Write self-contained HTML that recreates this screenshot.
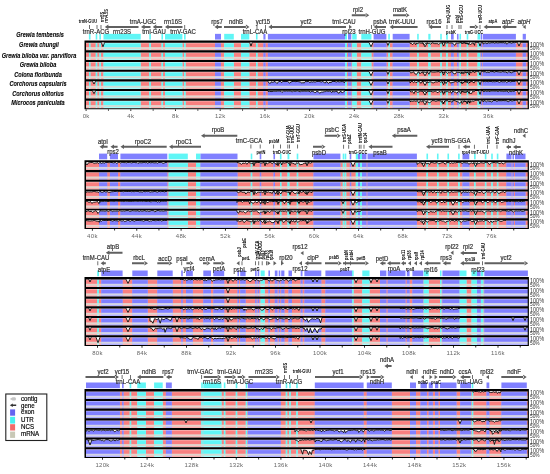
<!DOCTYPE html>
<html><head><meta charset="utf-8"><style>*{margin:0;padding:0}
html,body{width:550px;height:474px;overflow:hidden;background:#fff}
body{position:relative;font-family:"Liberation Sans",sans-serif}
#lab{position:absolute;left:0;top:0;width:550px;height:474px;will-change:transform}
span{position:absolute;white-space:nowrap;line-height:1}
.g{font-size:6.5px;color:#222;-webkit-text-stroke:0.2px #444;transform:translate(-50%,-50%) scaleX(0.923)}
.gs{font-size:4.7px;color:#000;font-weight:bold;transform:translate(-50%,-50%) scaleX(0.85)}
.gv{font-size:4.7px;color:#000;font-weight:bold;transform:translate(-50%,-50%) rotate(-90deg) scaleX(0.85)}
.sp{font-size:6.5px;font-weight:bold;font-style:italic;color:#000;-webkit-text-stroke:0.1px #000;transform:translate(-50%,-50%) scaleX(0.855)}
.pc{left:530px;font-size:6.4px;color:#333;transform:scaleX(0.86);transform-origin:0 0}
.pd{left:530px;font-size:4.8px;color:#333}
.ax{font-size:6px;color:#666;transform:translate(-50%,-50%);letter-spacing:0.3px}
.lg{font-size:7.9px;color:#000;-webkit-text-stroke:0.2px #000;transform:scaleX(0.78);transform-origin:0 0}
</style></head><body>
<svg style="position:absolute;left:0;top:0" width="550" height="474"><defs><g id="r0"><rect x="86" y="1" width="441.9" height="7.76" fill="#fab0b0"/><rect x="86" y="1.9" width="441.9" height="3.6" fill="#f88080"/><rect x="86" y="5.6" width="441.9" height="1.8" fill="#e2d4cc"/><rect x="89" y="1" width="1.4" height="7.76" fill="#a8fafa"/><rect x="89" y="1.9" width="1.4" height="3.6" fill="#60f6f6"/><rect x="89" y="5.6" width="1.4" height="1.8" fill="#d0dcd4"/><rect x="95.8" y="1" width="1.4" height="7.76" fill="#a8fafa"/><rect x="95.8" y="1.9" width="1.4" height="3.6" fill="#60f6f6"/><rect x="95.8" y="5.6" width="1.4" height="1.8" fill="#d0dcd4"/><rect x="99.45" y="1" width="1.4" height="7.76" fill="#a8fafa"/><rect x="99.45" y="1.9" width="1.4" height="3.6" fill="#60f6f6"/><rect x="99.45" y="5.6" width="1.4" height="1.8" fill="#d0dcd4"/><rect x="103.5" y="1" width="37.2" height="7.76" fill="#a8fafa"/><rect x="103.5" y="1.9" width="37.2" height="3.6" fill="#60f6f6"/><rect x="103.5" y="5.6" width="37.2" height="1.8" fill="#d0dcd4"/><rect x="149.3" y="1" width="1.6" height="7.76" fill="#a8fafa"/><rect x="149.3" y="1.9" width="1.6" height="3.6" fill="#60f6f6"/><rect x="149.3" y="5.6" width="1.6" height="1.8" fill="#d0dcd4"/><rect x="161.55" y="1" width="1.4" height="7.76" fill="#a8fafa"/><rect x="161.55" y="1.9" width="1.4" height="3.6" fill="#60f6f6"/><rect x="161.55" y="5.6" width="1.4" height="1.8" fill="#d0dcd4"/><rect x="165" y="1" width="17.4" height="7.76" fill="#a8fafa"/><rect x="165" y="1.9" width="17.4" height="3.6" fill="#60f6f6"/><rect x="165" y="5.6" width="17.4" height="1.8" fill="#d0dcd4"/><rect x="184.15" y="1" width="1.4" height="7.76" fill="#a8fafa"/><rect x="184.15" y="1.9" width="1.4" height="3.6" fill="#60f6f6"/><rect x="184.15" y="5.6" width="1.4" height="1.8" fill="#d0dcd4"/><rect x="215" y="1" width="6" height="7.76" fill="#b0b0ff"/><rect x="215" y="1.9" width="6" height="3.6" fill="#8080ff"/><rect x="215" y="5.6" width="6" height="1.8" fill="#d4d4e6"/><rect x="224.2" y="1" width="9.6" height="7.76" fill="#a8fafa"/><rect x="224.2" y="1.9" width="9.6" height="3.6" fill="#60f6f6"/><rect x="224.2" y="5.6" width="9.6" height="1.8" fill="#d0dcd4"/><rect x="241" y="1" width="8.3" height="7.76" fill="#a8fafa"/><rect x="241" y="1.9" width="8.3" height="3.6" fill="#60f6f6"/><rect x="241" y="5.6" width="8.3" height="1.8" fill="#d0dcd4"/><rect x="256" y="1" width="1.5" height="7.76" fill="#a8fafa"/><rect x="256" y="1.9" width="1.5" height="3.6" fill="#60f6f6"/><rect x="256" y="5.6" width="1.5" height="1.8" fill="#d0dcd4"/><rect x="263.4" y="1" width="2.1" height="7.76" fill="#b0b0ff"/><rect x="263.4" y="1.9" width="2.1" height="3.6" fill="#8080ff"/><rect x="263.4" y="5.6" width="2.1" height="1.8" fill="#d4d4e6"/><rect x="267.9" y="1" width="77.1" height="7.76" fill="#b0b0ff"/><rect x="267.9" y="1.9" width="77.1" height="3.6" fill="#8080ff"/><rect x="267.9" y="5.6" width="77.1" height="1.8" fill="#d4d4e6"/><rect x="345" y="1" width="2" height="7.76" fill="#a8fafa"/><rect x="345" y="1.9" width="2" height="3.6" fill="#60f6f6"/><rect x="345" y="5.6" width="2" height="1.8" fill="#d0dcd4"/><rect x="348" y="1" width="3.3" height="7.76" fill="#b0b0ff"/><rect x="348" y="1.9" width="3.3" height="3.6" fill="#8080ff"/><rect x="348" y="5.6" width="3.3" height="1.8" fill="#d4d4e6"/><rect x="352.2" y="1" width="4.5" height="7.76" fill="#a8fafa"/><rect x="352.2" y="1.9" width="4.5" height="3.6" fill="#60f6f6"/><rect x="352.2" y="5.6" width="4.5" height="1.8" fill="#d0dcd4"/><rect x="361.3" y="1" width="10.1" height="7.76" fill="#a8fafa"/><rect x="361.3" y="1.9" width="10.1" height="3.6" fill="#60f6f6"/><rect x="361.3" y="5.6" width="10.1" height="1.8" fill="#d0dcd4"/><rect x="373.6" y="1" width="12.8" height="7.76" fill="#b0b0ff"/><rect x="373.6" y="1.9" width="12.8" height="3.6" fill="#8080ff"/><rect x="373.6" y="5.6" width="12.8" height="1.8" fill="#d4d4e6"/><rect x="388.35" y="1" width="1.4" height="7.76" fill="#a8fafa"/><rect x="388.35" y="1.9" width="1.4" height="3.6" fill="#60f6f6"/><rect x="388.35" y="5.6" width="1.4" height="1.8" fill="#d0dcd4"/><rect x="392.7" y="1" width="16.9" height="7.76" fill="#b0b0ff"/><rect x="392.7" y="1.9" width="16.9" height="3.6" fill="#8080ff"/><rect x="392.7" y="5.6" width="16.9" height="1.8" fill="#d4d4e6"/><rect x="417.25" y="1" width="1.4" height="7.76" fill="#a8fafa"/><rect x="417.25" y="1.9" width="1.4" height="3.6" fill="#60f6f6"/><rect x="417.25" y="5.6" width="1.4" height="1.8" fill="#d0dcd4"/><rect x="428.3" y="1" width="2.2" height="7.76" fill="#a8fafa"/><rect x="428.3" y="1.9" width="2.2" height="3.6" fill="#60f6f6"/><rect x="428.3" y="5.6" width="2.2" height="1.8" fill="#d0dcd4"/><rect x="440.3" y="1" width="1.4" height="7.76" fill="#a8fafa"/><rect x="440.3" y="1.9" width="1.4" height="3.6" fill="#60f6f6"/><rect x="440.3" y="5.6" width="1.4" height="1.8" fill="#d0dcd4"/><rect x="446.3" y="1" width="1.4" height="7.76" fill="#a8fafa"/><rect x="446.3" y="1.9" width="1.4" height="3.6" fill="#60f6f6"/><rect x="446.3" y="5.6" width="1.4" height="1.8" fill="#d0dcd4"/><rect x="451" y="1" width="2.7" height="7.76" fill="#b0b0ff"/><rect x="451" y="1.9" width="2.7" height="3.6" fill="#8080ff"/><rect x="451" y="5.6" width="2.7" height="1.8" fill="#d4d4e6"/><rect x="457" y="1" width="1.5" height="7.76" fill="#b0b0ff"/><rect x="457" y="1.9" width="1.5" height="3.6" fill="#8080ff"/><rect x="457" y="5.6" width="1.5" height="1.8" fill="#d4d4e6"/><rect x="459.5" y="1" width="1.5" height="7.76" fill="#a8fafa"/><rect x="459.5" y="1.9" width="1.5" height="3.6" fill="#60f6f6"/><rect x="459.5" y="5.6" width="1.5" height="1.8" fill="#d0dcd4"/><rect x="466.8" y="1" width="1.4" height="7.76" fill="#a8fafa"/><rect x="466.8" y="1.9" width="1.4" height="3.6" fill="#60f6f6"/><rect x="466.8" y="5.6" width="1.4" height="1.8" fill="#d0dcd4"/><rect x="477.5" y="1" width="2.7" height="7.76" fill="#a8fafa"/><rect x="477.5" y="1.9" width="2.7" height="3.6" fill="#60f6f6"/><rect x="477.5" y="5.6" width="2.7" height="1.8" fill="#d0dcd4"/><rect x="480.8" y="1" width="1.4" height="7.76" fill="#b0b0ff"/><rect x="480.8" y="1.9" width="1.4" height="3.6" fill="#8080ff"/><rect x="480.8" y="5.6" width="1.4" height="1.8" fill="#d4d4e6"/><rect x="483" y="1" width="32.9" height="7.76" fill="#b0b0ff"/><rect x="483" y="1.9" width="32.9" height="3.6" fill="#8080ff"/><rect x="483" y="5.6" width="32.9" height="1.8" fill="#d4d4e6"/><rect x="522.7" y="1" width="3.2" height="7.76" fill="#b0b0ff"/><rect x="522.7" y="1.9" width="3.2" height="3.6" fill="#8080ff"/><rect x="522.7" y="5.6" width="3.2" height="1.8" fill="#d4d4e6"/></g><g id="r1"><rect x="86" y="1" width="441.9" height="7.76" fill="#fab0b0"/><rect x="86" y="1.9" width="441.9" height="3.6" fill="#f88080"/><rect x="86" y="5.6" width="441.9" height="1.8" fill="#e2d4cc"/><rect x="99" y="1" width="8.2" height="7.76" fill="#b0b0ff"/><rect x="99" y="1.9" width="8.2" height="3.6" fill="#8080ff"/><rect x="99" y="5.6" width="8.2" height="1.8" fill="#d4d4e6"/><rect x="109.9" y="1" width="8.1" height="7.76" fill="#b0b0ff"/><rect x="109.9" y="1.9" width="8.1" height="3.6" fill="#8080ff"/><rect x="109.9" y="5.6" width="8.1" height="1.8" fill="#d4d4e6"/><rect x="120.4" y="1" width="46.9" height="7.76" fill="#b0b0ff"/><rect x="120.4" y="1.9" width="46.9" height="3.6" fill="#8080ff"/><rect x="120.4" y="5.6" width="46.9" height="1.8" fill="#d4d4e6"/><rect x="168.6" y="1" width="19.2" height="7.76" fill="#a8fafa"/><rect x="168.6" y="1.9" width="19.2" height="3.6" fill="#60f6f6"/><rect x="168.6" y="5.6" width="19.2" height="1.8" fill="#d0dcd4"/><rect x="196" y="1" width="4.5" height="7.76" fill="#a8fafa"/><rect x="196" y="1.9" width="4.5" height="3.6" fill="#60f6f6"/><rect x="196" y="5.6" width="4.5" height="1.8" fill="#d0dcd4"/><rect x="200.5" y="1" width="37" height="7.76" fill="#b0b0ff"/><rect x="200.5" y="1.9" width="37" height="3.6" fill="#8080ff"/><rect x="200.5" y="5.6" width="37" height="1.8" fill="#d4d4e6"/><rect x="250.8" y="1" width="1.4" height="7.76" fill="#a8fafa"/><rect x="250.8" y="1.9" width="1.4" height="3.6" fill="#60f6f6"/><rect x="250.8" y="5.6" width="1.4" height="1.8" fill="#d0dcd4"/><rect x="259.8" y="1" width="1.4" height="7.76" fill="#b0b0ff"/><rect x="259.8" y="1.9" width="1.4" height="3.6" fill="#8080ff"/><rect x="259.8" y="5.6" width="1.4" height="1.8" fill="#d4d4e6"/><rect x="273.5" y="1" width="1.5" height="7.76" fill="#b0b0ff"/><rect x="273.5" y="1.9" width="1.5" height="3.6" fill="#8080ff"/><rect x="273.5" y="5.6" width="1.5" height="1.8" fill="#d4d4e6"/><rect x="280" y="1" width="1.4" height="7.76" fill="#a8fafa"/><rect x="280" y="1.9" width="1.4" height="3.6" fill="#60f6f6"/><rect x="280" y="5.6" width="1.4" height="1.8" fill="#d0dcd4"/><rect x="287.5" y="1" width="1.9" height="7.76" fill="#a8fafa"/><rect x="287.5" y="1.9" width="1.9" height="3.6" fill="#60f6f6"/><rect x="287.5" y="5.6" width="1.9" height="1.8" fill="#d0dcd4"/><rect x="296.8" y="1" width="1.4" height="7.76" fill="#a8fafa"/><rect x="296.8" y="1.9" width="1.4" height="3.6" fill="#60f6f6"/><rect x="296.8" y="5.6" width="1.4" height="1.8" fill="#d0dcd4"/><rect x="313.5" y="1" width="26.9" height="7.76" fill="#b0b0ff"/><rect x="313.5" y="1.9" width="26.9" height="3.6" fill="#8080ff"/><rect x="313.5" y="5.6" width="26.9" height="1.8" fill="#d4d4e6"/><rect x="342.8" y="1" width="1.4" height="7.76" fill="#a8fafa"/><rect x="342.8" y="1.9" width="1.4" height="3.6" fill="#60f6f6"/><rect x="342.8" y="5.6" width="1.4" height="1.8" fill="#d0dcd4"/><rect x="344.8" y="1" width="1.4" height="7.76" fill="#a8fafa"/><rect x="344.8" y="1.9" width="1.4" height="3.6" fill="#60f6f6"/><rect x="344.8" y="5.6" width="1.4" height="1.8" fill="#d0dcd4"/><rect x="349.8" y="1" width="1.4" height="7.76" fill="#b0b0ff"/><rect x="349.8" y="1.9" width="1.4" height="3.6" fill="#8080ff"/><rect x="349.8" y="5.6" width="1.4" height="1.8" fill="#d4d4e6"/><rect x="355.8" y="1" width="2.2" height="7.76" fill="#a8fafa"/><rect x="355.8" y="1.9" width="2.2" height="3.6" fill="#60f6f6"/><rect x="355.8" y="5.6" width="2.2" height="1.8" fill="#d0dcd4"/><rect x="358" y="1" width="2" height="7.76" fill="#b0b0ff"/><rect x="358" y="1.9" width="2" height="3.6" fill="#8080ff"/><rect x="358" y="5.6" width="2" height="1.8" fill="#d4d4e6"/><rect x="360" y="1" width="2" height="7.76" fill="#a8fafa"/><rect x="360" y="1.9" width="2" height="3.6" fill="#60f6f6"/><rect x="360" y="5.6" width="2" height="1.8" fill="#d0dcd4"/><rect x="362" y="1" width="4.5" height="7.76" fill="#b0b0ff"/><rect x="362" y="1.9" width="4.5" height="3.6" fill="#8080ff"/><rect x="362" y="5.6" width="4.5" height="1.8" fill="#d4d4e6"/><rect x="367.5" y="1" width="49.4" height="7.76" fill="#b0b0ff"/><rect x="367.5" y="1.9" width="49.4" height="3.6" fill="#8080ff"/><rect x="367.5" y="5.6" width="49.4" height="1.8" fill="#d4d4e6"/><rect x="426.5" y="1" width="1.5" height="7.76" fill="#a8fafa"/><rect x="426.5" y="1.9" width="1.5" height="3.6" fill="#60f6f6"/><rect x="426.5" y="5.6" width="1.5" height="1.8" fill="#d0dcd4"/><rect x="437" y="1" width="1.5" height="7.76" fill="#a8fafa"/><rect x="437" y="1.9" width="1.5" height="3.6" fill="#60f6f6"/><rect x="437" y="5.6" width="1.5" height="1.8" fill="#d0dcd4"/><rect x="447.5" y="1" width="1.5" height="7.76" fill="#a8fafa"/><rect x="447.5" y="1.9" width="1.5" height="3.6" fill="#60f6f6"/><rect x="447.5" y="5.6" width="1.5" height="1.8" fill="#d0dcd4"/><rect x="458.2" y="1" width="1.4" height="7.76" fill="#a8fafa"/><rect x="458.2" y="1.9" width="1.4" height="3.6" fill="#60f6f6"/><rect x="458.2" y="5.6" width="1.4" height="1.8" fill="#d0dcd4"/><rect x="462.5" y="1" width="6.8" height="7.76" fill="#b0b0ff"/><rect x="462.5" y="1.9" width="6.8" height="3.6" fill="#8080ff"/><rect x="462.5" y="5.6" width="6.8" height="1.8" fill="#d4d4e6"/><rect x="474.15" y="1" width="1.4" height="7.76" fill="#a8fafa"/><rect x="474.15" y="1.9" width="1.4" height="3.6" fill="#60f6f6"/><rect x="474.15" y="5.6" width="1.4" height="1.8" fill="#d0dcd4"/><rect x="484.9" y="1" width="1.4" height="7.76" fill="#a8fafa"/><rect x="484.9" y="1.9" width="1.4" height="3.6" fill="#60f6f6"/><rect x="484.9" y="5.6" width="1.4" height="1.8" fill="#d0dcd4"/><rect x="491.3" y="1" width="1.4" height="7.76" fill="#a8fafa"/><rect x="491.3" y="1.9" width="1.4" height="3.6" fill="#60f6f6"/><rect x="491.3" y="5.6" width="1.4" height="1.8" fill="#d0dcd4"/><rect x="496.9" y="1" width="1.4" height="7.76" fill="#a8fafa"/><rect x="496.9" y="1.9" width="1.4" height="3.6" fill="#60f6f6"/><rect x="496.9" y="5.6" width="1.4" height="1.8" fill="#d0dcd4"/><rect x="506.4" y="1" width="5.1" height="7.76" fill="#b0b0ff"/><rect x="506.4" y="1.9" width="5.1" height="3.6" fill="#8080ff"/><rect x="506.4" y="5.6" width="5.1" height="1.8" fill="#d4d4e6"/><rect x="512.5" y="1" width="1.5" height="7.76" fill="#b0b0ff"/><rect x="512.5" y="1.9" width="1.5" height="3.6" fill="#8080ff"/><rect x="512.5" y="5.6" width="1.5" height="1.8" fill="#d4d4e6"/><rect x="515" y="1" width="10.5" height="7.76" fill="#b0b0ff"/><rect x="515" y="1.9" width="10.5" height="3.6" fill="#8080ff"/><rect x="515" y="5.6" width="10.5" height="1.8" fill="#d4d4e6"/></g><g id="r2"><rect x="86" y="1" width="441.9" height="7.76" fill="#fab0b0"/><rect x="86" y="1.9" width="441.9" height="3.6" fill="#f88080"/><rect x="86" y="5.6" width="441.9" height="1.8" fill="#e2d4cc"/><rect x="97.2" y="1" width="1.8" height="7.76" fill="#a8fafa"/><rect x="97.2" y="1.9" width="1.8" height="3.6" fill="#60f6f6"/><rect x="97.2" y="5.6" width="1.8" height="1.8" fill="#d0dcd4"/><rect x="101.3" y="1" width="21.3" height="7.76" fill="#b0b0ff"/><rect x="101.3" y="1.9" width="21.3" height="3.6" fill="#8080ff"/><rect x="101.3" y="5.6" width="21.3" height="1.8" fill="#d4d4e6"/><rect x="132.3" y="1" width="15.4" height="7.76" fill="#b0b0ff"/><rect x="132.3" y="1.9" width="15.4" height="3.6" fill="#8080ff"/><rect x="132.3" y="5.6" width="15.4" height="1.8" fill="#d4d4e6"/><rect x="157.3" y="1" width="15.4" height="7.76" fill="#b0b0ff"/><rect x="157.3" y="1.9" width="15.4" height="3.6" fill="#8080ff"/><rect x="157.3" y="5.6" width="15.4" height="1.8" fill="#d4d4e6"/><rect x="181.3" y="1" width="1.4" height="7.76" fill="#b0b0ff"/><rect x="181.3" y="1.9" width="1.4" height="3.6" fill="#8080ff"/><rect x="181.3" y="5.6" width="1.4" height="1.8" fill="#d4d4e6"/><rect x="186" y="1" width="6.8" height="7.76" fill="#b0b0ff"/><rect x="186" y="1.9" width="6.8" height="3.6" fill="#8080ff"/><rect x="186" y="5.6" width="6.8" height="1.8" fill="#d4d4e6"/><rect x="203.3" y="1" width="7.7" height="7.76" fill="#b0b0ff"/><rect x="203.3" y="1.9" width="7.7" height="3.6" fill="#8080ff"/><rect x="203.3" y="5.6" width="7.7" height="1.8" fill="#d4d4e6"/><rect x="213.3" y="1" width="10.9" height="7.76" fill="#b0b0ff"/><rect x="213.3" y="1.9" width="10.9" height="3.6" fill="#8080ff"/><rect x="213.3" y="5.6" width="10.9" height="1.8" fill="#d4d4e6"/><rect x="237.5" y="1" width="1.5" height="7.76" fill="#b0b0ff"/><rect x="237.5" y="1.9" width="1.5" height="3.6" fill="#8080ff"/><rect x="237.5" y="5.6" width="1.5" height="1.8" fill="#d4d4e6"/><rect x="240.2" y="1" width="5.4" height="7.76" fill="#b0b0ff"/><rect x="240.2" y="1.9" width="5.4" height="3.6" fill="#8080ff"/><rect x="240.2" y="5.6" width="5.4" height="1.8" fill="#d4d4e6"/><rect x="255.15" y="1" width="1.4" height="7.76" fill="#b0b0ff"/><rect x="255.15" y="1.9" width="1.4" height="3.6" fill="#8080ff"/><rect x="255.15" y="5.6" width="1.4" height="1.8" fill="#d4d4e6"/><rect x="257.75" y="1" width="1.4" height="7.76" fill="#b0b0ff"/><rect x="257.75" y="1.9" width="1.4" height="3.6" fill="#8080ff"/><rect x="257.75" y="5.6" width="1.4" height="1.8" fill="#d4d4e6"/><rect x="260.6" y="1" width="4.1" height="7.76" fill="#a8fafa"/><rect x="260.6" y="1.9" width="4.1" height="3.6" fill="#60f6f6"/><rect x="260.6" y="5.6" width="4.1" height="1.8" fill="#d0dcd4"/><rect x="268.4" y="1" width="1.6" height="7.76" fill="#b0b0ff"/><rect x="268.4" y="1.9" width="1.6" height="3.6" fill="#8080ff"/><rect x="268.4" y="5.6" width="1.6" height="1.8" fill="#d4d4e6"/><rect x="274.8" y="1" width="2.7" height="7.76" fill="#b0b0ff"/><rect x="274.8" y="1.9" width="2.7" height="3.6" fill="#8080ff"/><rect x="274.8" y="5.6" width="2.7" height="1.8" fill="#d4d4e6"/><rect x="278.8" y="1" width="1.4" height="7.76" fill="#b0b0ff"/><rect x="278.8" y="1.9" width="1.4" height="3.6" fill="#8080ff"/><rect x="278.8" y="5.6" width="1.4" height="1.8" fill="#d4d4e6"/><rect x="281.2" y="1" width="3.2" height="7.76" fill="#b0b0ff"/><rect x="281.2" y="1.9" width="3.2" height="3.6" fill="#8080ff"/><rect x="281.2" y="5.6" width="3.2" height="1.8" fill="#d4d4e6"/><rect x="288.5" y="1" width="3.5" height="7.76" fill="#b0b0ff"/><rect x="288.5" y="1.9" width="3.5" height="3.6" fill="#8080ff"/><rect x="288.5" y="5.6" width="3.5" height="1.8" fill="#d4d4e6"/><rect x="300.7" y="1" width="1.8" height="7.76" fill="#b0b0ff"/><rect x="300.7" y="1.9" width="1.8" height="3.6" fill="#8080ff"/><rect x="300.7" y="5.6" width="1.8" height="1.8" fill="#d4d4e6"/><rect x="304.4" y="1" width="16.9" height="7.76" fill="#b0b0ff"/><rect x="304.4" y="1.9" width="16.9" height="3.6" fill="#8080ff"/><rect x="304.4" y="5.6" width="16.9" height="1.8" fill="#d4d4e6"/><rect x="325.4" y="1" width="26.8" height="7.76" fill="#b0b0ff"/><rect x="325.4" y="1.9" width="26.8" height="3.6" fill="#8080ff"/><rect x="325.4" y="5.6" width="26.8" height="1.8" fill="#d4d4e6"/><rect x="352.15" y="1" width="1.4" height="7.76" fill="#a8fafa"/><rect x="352.15" y="1.9" width="1.4" height="3.6" fill="#60f6f6"/><rect x="352.15" y="5.6" width="1.4" height="1.8" fill="#d0dcd4"/><rect x="362.3" y="1" width="7.2" height="7.76" fill="#a8fafa"/><rect x="362.3" y="1.9" width="7.2" height="3.6" fill="#60f6f6"/><rect x="362.3" y="5.6" width="7.2" height="1.8" fill="#d0dcd4"/><rect x="380" y="1" width="6.4" height="7.76" fill="#b0b0ff"/><rect x="380" y="1.9" width="6.4" height="3.6" fill="#8080ff"/><rect x="380" y="5.6" width="6.4" height="1.8" fill="#d4d4e6"/><rect x="387.7" y="1" width="17.8" height="7.76" fill="#b0b0ff"/><rect x="387.7" y="1.9" width="17.8" height="3.6" fill="#8080ff"/><rect x="387.7" y="5.6" width="17.8" height="1.8" fill="#d4d4e6"/><rect x="406.8" y="1" width="2.8" height="7.76" fill="#b0b0ff"/><rect x="406.8" y="1.9" width="2.8" height="3.6" fill="#8080ff"/><rect x="406.8" y="5.6" width="2.8" height="1.8" fill="#d4d4e6"/><rect x="412.4" y="1" width="10.9" height="7.76" fill="#b0b0ff"/><rect x="412.4" y="1.9" width="10.9" height="3.6" fill="#8080ff"/><rect x="412.4" y="5.6" width="10.9" height="1.8" fill="#d4d4e6"/><rect x="423.7" y="1" width="5" height="7.76" fill="#a8fafa"/><rect x="423.7" y="1.9" width="5" height="3.6" fill="#60f6f6"/><rect x="423.7" y="5.6" width="5" height="1.8" fill="#d0dcd4"/><rect x="440" y="1" width="1.5" height="7.76" fill="#a8fafa"/><rect x="440" y="1.9" width="1.5" height="3.6" fill="#60f6f6"/><rect x="440" y="5.6" width="1.5" height="1.8" fill="#d0dcd4"/><rect x="442.4" y="1" width="17.3" height="7.76" fill="#b0b0ff"/><rect x="442.4" y="1.9" width="17.3" height="3.6" fill="#8080ff"/><rect x="442.4" y="5.6" width="17.3" height="1.8" fill="#d4d4e6"/><rect x="459.7" y="1" width="6.8" height="7.76" fill="#a8fafa"/><rect x="459.7" y="1.9" width="6.8" height="3.6" fill="#60f6f6"/><rect x="459.7" y="5.6" width="6.8" height="1.8" fill="#d0dcd4"/><rect x="471.5" y="1" width="5.5" height="7.76" fill="#a8fafa"/><rect x="471.5" y="1.9" width="5.5" height="3.6" fill="#60f6f6"/><rect x="471.5" y="5.6" width="5.5" height="1.8" fill="#d0dcd4"/><rect x="477" y="1" width="3.6" height="7.76" fill="#b0b0ff"/><rect x="477" y="1.9" width="3.6" height="3.6" fill="#8080ff"/><rect x="477" y="5.6" width="3.6" height="1.8" fill="#d4d4e6"/><rect x="481" y="1" width="2.4" height="7.76" fill="#a8fafa"/><rect x="481" y="1.9" width="2.4" height="3.6" fill="#60f6f6"/><rect x="481" y="5.6" width="2.4" height="1.8" fill="#d0dcd4"/><rect x="484.3" y="1" width="43.6" height="7.76" fill="#b0b0ff"/><rect x="484.3" y="1.9" width="43.6" height="3.6" fill="#8080ff"/><rect x="484.3" y="5.6" width="43.6" height="1.8" fill="#d4d4e6"/></g><g id="r3"><rect x="86" y="1" width="441.9" height="7.76" fill="#fab0b0"/><rect x="86" y="1.9" width="441.9" height="3.6" fill="#f88080"/><rect x="86" y="5.6" width="441.9" height="1.8" fill="#e2d4cc"/><rect x="86" y="1" width="33.9" height="7.76" fill="#b0b0ff"/><rect x="86" y="1.9" width="33.9" height="3.6" fill="#8080ff"/><rect x="86" y="5.6" width="33.9" height="1.8" fill="#d4d4e6"/><rect x="122.15" y="1" width="1.4" height="7.76" fill="#b0b0ff"/><rect x="122.15" y="1.9" width="1.4" height="3.6" fill="#8080ff"/><rect x="122.15" y="5.6" width="1.4" height="1.8" fill="#d4d4e6"/><rect x="129.75" y="1" width="1.4" height="7.76" fill="#a8fafa"/><rect x="129.75" y="1.9" width="1.4" height="3.6" fill="#60f6f6"/><rect x="129.75" y="5.6" width="1.4" height="1.8" fill="#d0dcd4"/><rect x="137.3" y="1" width="8.6" height="7.76" fill="#a8fafa"/><rect x="137.3" y="1.9" width="8.6" height="3.6" fill="#60f6f6"/><rect x="137.3" y="5.6" width="8.6" height="1.8" fill="#d0dcd4"/><rect x="154.1" y="1" width="8.6" height="7.76" fill="#a8fafa"/><rect x="154.1" y="1.9" width="8.6" height="3.6" fill="#60f6f6"/><rect x="154.1" y="5.6" width="8.6" height="1.8" fill="#d0dcd4"/><rect x="165.9" y="1" width="5.9" height="7.76" fill="#b0b0ff"/><rect x="165.9" y="1.9" width="5.9" height="3.6" fill="#8080ff"/><rect x="165.9" y="5.6" width="5.9" height="1.8" fill="#d4d4e6"/><rect x="201.3" y="1" width="1.4" height="7.76" fill="#a8fafa"/><rect x="201.3" y="1.9" width="1.4" height="3.6" fill="#60f6f6"/><rect x="201.3" y="5.6" width="1.4" height="1.8" fill="#d0dcd4"/><rect x="203.3" y="1" width="18.2" height="7.76" fill="#a8fafa"/><rect x="203.3" y="1.9" width="18.2" height="3.6" fill="#60f6f6"/><rect x="203.3" y="5.6" width="18.2" height="1.8" fill="#d0dcd4"/><rect x="223.9" y="1" width="1.4" height="7.76" fill="#a8fafa"/><rect x="223.9" y="1.9" width="1.4" height="3.6" fill="#60f6f6"/><rect x="223.9" y="5.6" width="1.4" height="1.8" fill="#d0dcd4"/><rect x="235.8" y="1" width="1.4" height="7.76" fill="#a8fafa"/><rect x="235.8" y="1.9" width="1.4" height="3.6" fill="#60f6f6"/><rect x="235.8" y="5.6" width="1.4" height="1.8" fill="#d0dcd4"/><rect x="245.8" y="1" width="1.4" height="7.76" fill="#a8fafa"/><rect x="245.8" y="1.9" width="1.4" height="3.6" fill="#60f6f6"/><rect x="245.8" y="5.6" width="1.4" height="1.8" fill="#d0dcd4"/><rect x="247.9" y="1" width="33" height="7.76" fill="#b0b0ff"/><rect x="247.9" y="1.9" width="33" height="3.6" fill="#8080ff"/><rect x="247.9" y="5.6" width="33" height="1.8" fill="#d4d4e6"/><rect x="285.8" y="1" width="1.4" height="7.76" fill="#a8fafa"/><rect x="285.8" y="1.9" width="1.4" height="3.6" fill="#60f6f6"/><rect x="285.8" y="5.6" width="1.4" height="1.8" fill="#d0dcd4"/><rect x="289.3" y="1" width="1.4" height="7.76" fill="#a8fafa"/><rect x="289.3" y="1.9" width="1.4" height="3.6" fill="#60f6f6"/><rect x="289.3" y="5.6" width="1.4" height="1.8" fill="#d0dcd4"/><rect x="296.3" y="1" width="1.4" height="7.76" fill="#a8fafa"/><rect x="296.3" y="1.9" width="1.4" height="3.6" fill="#60f6f6"/><rect x="296.3" y="5.6" width="1.4" height="1.8" fill="#d0dcd4"/><rect x="314.8" y="1" width="48.8" height="7.76" fill="#b0b0ff"/><rect x="314.8" y="1.9" width="48.8" height="3.6" fill="#8080ff"/><rect x="314.8" y="5.6" width="48.8" height="1.8" fill="#d4d4e6"/><rect x="366.8" y="1" width="25" height="7.76" fill="#b0b0ff"/><rect x="366.8" y="1.9" width="25" height="3.6" fill="#8080ff"/><rect x="366.8" y="5.6" width="25" height="1.8" fill="#d4d4e6"/><rect x="410" y="1" width="6" height="7.76" fill="#b0b0ff"/><rect x="410" y="1.9" width="6" height="3.6" fill="#8080ff"/><rect x="410" y="5.6" width="6" height="1.8" fill="#d4d4e6"/><rect x="420.5" y="1" width="6.4" height="7.76" fill="#b0b0ff"/><rect x="420.5" y="1.9" width="6.4" height="3.6" fill="#8080ff"/><rect x="420.5" y="5.6" width="6.4" height="1.8" fill="#d4d4e6"/><rect x="428.7" y="1" width="4.1" height="7.76" fill="#b0b0ff"/><rect x="428.7" y="1.9" width="4.1" height="3.6" fill="#8080ff"/><rect x="428.7" y="5.6" width="4.1" height="1.8" fill="#d4d4e6"/><rect x="435" y="1" width="3.3" height="7.76" fill="#b0b0ff"/><rect x="435" y="1.9" width="3.3" height="3.6" fill="#8080ff"/><rect x="435" y="5.6" width="3.3" height="1.8" fill="#d4d4e6"/><rect x="440" y="1" width="16.5" height="7.76" fill="#b0b0ff"/><rect x="440" y="1.9" width="16.5" height="3.6" fill="#8080ff"/><rect x="440" y="5.6" width="16.5" height="1.8" fill="#d4d4e6"/><rect x="460.2" y="1" width="10.8" height="7.76" fill="#b0b0ff"/><rect x="460.2" y="1.9" width="10.8" height="3.6" fill="#8080ff"/><rect x="460.2" y="5.6" width="10.8" height="1.8" fill="#d4d4e6"/><rect x="471.8" y="1" width="1.4" height="7.76" fill="#a8fafa"/><rect x="471.8" y="1.9" width="1.4" height="3.6" fill="#60f6f6"/><rect x="471.8" y="5.6" width="1.4" height="1.8" fill="#d0dcd4"/><rect x="486.5" y="1" width="2.8" height="7.76" fill="#b0b0ff"/><rect x="486.5" y="1.9" width="2.8" height="3.6" fill="#8080ff"/><rect x="486.5" y="5.6" width="2.8" height="1.8" fill="#d4d4e6"/><rect x="501.4" y="1" width="25.4" height="7.76" fill="#b0b0ff"/><rect x="501.4" y="1.9" width="25.4" height="3.6" fill="#8080ff"/><rect x="501.4" y="5.6" width="25.4" height="1.8" fill="#d4d4e6"/></g></defs><use href="#r0" y="41.65"/><use href="#r0" y="51.31"/><use href="#r0" y="60.97"/><use href="#r0" y="70.63"/><use href="#r0" y="80.29"/><use href="#r0" y="89.95"/><use href="#r0" y="99.61"/><rect x="88.9" y="33.85" width="1.6" height="5.7" fill="#60f6f6"/><rect x="95.7" y="33.85" width="1.6" height="5.7" fill="#60f6f6"/><rect x="99.35" y="33.85" width="1.6" height="5.7" fill="#60f6f6"/><rect x="103.5" y="33.85" width="37.2" height="5.7" fill="#60f6f6"/><rect x="149.3" y="33.85" width="1.6" height="5.7" fill="#60f6f6"/><rect x="161.45" y="33.85" width="1.6" height="5.7" fill="#60f6f6"/><rect x="165" y="33.85" width="17.4" height="5.7" fill="#60f6f6"/><rect x="184.05" y="33.85" width="1.6" height="5.7" fill="#60f6f6"/><rect x="215" y="33.85" width="6" height="5.7" fill="#8080ff"/><rect x="224.2" y="33.85" width="9.6" height="5.7" fill="#60f6f6"/><rect x="241" y="33.85" width="8.3" height="5.7" fill="#60f6f6"/><rect x="255.95" y="33.85" width="1.6" height="5.7" fill="#60f6f6"/><rect x="263.4" y="33.85" width="2.1" height="5.7" fill="#8080ff"/><rect x="267.9" y="33.85" width="77.1" height="5.7" fill="#8080ff"/><rect x="345" y="33.85" width="2" height="5.7" fill="#60f6f6"/><rect x="348" y="33.85" width="3.3" height="5.7" fill="#8080ff"/><rect x="352.2" y="33.85" width="4.5" height="5.7" fill="#60f6f6"/><rect x="361.3" y="33.85" width="10.1" height="5.7" fill="#60f6f6"/><rect x="373.6" y="33.85" width="12.8" height="5.7" fill="#8080ff"/><rect x="388.25" y="33.85" width="1.6" height="5.7" fill="#60f6f6"/><rect x="392.7" y="33.85" width="16.9" height="5.7" fill="#8080ff"/><rect x="417.15" y="33.85" width="1.6" height="5.7" fill="#60f6f6"/><rect x="428.3" y="33.85" width="2.2" height="5.7" fill="#60f6f6"/><rect x="440.2" y="33.85" width="1.6" height="5.7" fill="#60f6f6"/><rect x="446.2" y="33.85" width="1.6" height="5.7" fill="#60f6f6"/><rect x="451" y="33.85" width="2.7" height="5.7" fill="#8080ff"/><rect x="456.95" y="33.85" width="1.6" height="5.7" fill="#8080ff"/><rect x="459.45" y="33.85" width="1.6" height="5.7" fill="#60f6f6"/><rect x="466.7" y="33.85" width="1.6" height="5.7" fill="#60f6f6"/><rect x="477.5" y="33.85" width="2.7" height="5.7" fill="#60f6f6"/><rect x="480.7" y="33.85" width="1.6" height="5.7" fill="#8080ff"/><rect x="483" y="33.85" width="32.9" height="5.7" fill="#8080ff"/><rect x="522.7" y="33.85" width="3.2" height="5.7" fill="#8080ff"/><path fill="#000" d="M84.5 40.45H528.9V42.75H84.5ZM84.5 50.31H528.9V52.41H84.5ZM84.5 59.97H528.9V62.07H84.5ZM84.5 69.63H528.9V71.73H84.5ZM84.5 79.29H528.9V81.39H84.5ZM84.5 88.95H528.9V91.05H84.5ZM84.5 98.61H528.9V100.71H84.5ZM84.5 108.27H528.9V109.27H84.5ZM84.5 40.75H86V109.27H84.5ZM527.7 40.75H528.9V109.27H527.7Z"/><path fill="#333" d="M85.6 109.27h1v1.8h-1ZM107.95 109.27h1v1.5h-1ZM130.3 109.27h1v1.8h-1ZM152.65 109.27h1v1.5h-1ZM175 109.27h1v1.8h-1ZM197.35 109.27h1v1.5h-1ZM219.7 109.27h1v1.8h-1ZM242.05 109.27h1v1.5h-1ZM264.4 109.27h1v1.8h-1ZM286.75 109.27h1v1.5h-1ZM309.1 109.27h1v1.8h-1ZM331.45 109.27h1v1.5h-1ZM353.8 109.27h1v1.8h-1ZM376.15 109.27h1v1.5h-1ZM398.5 109.27h1v1.8h-1ZM420.85 109.27h1v1.5h-1ZM443.2 109.27h1v1.8h-1ZM465.55 109.27h1v1.5h-1ZM487.9 109.27h1v1.8h-1ZM510.25 109.27h1v1.5h-1Z"/><use href="#r1" y="161.4"/><use href="#r1" y="171.06"/><use href="#r1" y="180.72"/><use href="#r1" y="190.38"/><use href="#r1" y="200.04"/><use href="#r1" y="209.7"/><use href="#r1" y="219.36"/><rect x="99" y="153.6" width="8.2" height="5.7" fill="#8080ff"/><rect x="109.9" y="153.6" width="8.1" height="5.7" fill="#8080ff"/><rect x="120.4" y="153.6" width="46.9" height="5.7" fill="#8080ff"/><rect x="168.6" y="153.6" width="19.2" height="5.7" fill="#60f6f6"/><rect x="196" y="153.6" width="4.5" height="5.7" fill="#60f6f6"/><rect x="200.5" y="153.6" width="37" height="5.7" fill="#8080ff"/><rect x="250.7" y="153.6" width="1.6" height="5.7" fill="#60f6f6"/><rect x="259.7" y="153.6" width="1.6" height="5.7" fill="#8080ff"/><rect x="273.45" y="153.6" width="1.6" height="5.7" fill="#8080ff"/><rect x="279.9" y="153.6" width="1.6" height="5.7" fill="#60f6f6"/><rect x="287.5" y="153.6" width="1.9" height="5.7" fill="#60f6f6"/><rect x="296.7" y="153.6" width="1.6" height="5.7" fill="#60f6f6"/><rect x="313.5" y="153.6" width="26.9" height="5.7" fill="#8080ff"/><rect x="342.7" y="153.6" width="1.6" height="5.7" fill="#60f6f6"/><rect x="344.7" y="153.6" width="1.6" height="5.7" fill="#60f6f6"/><rect x="349.7" y="153.6" width="1.6" height="5.7" fill="#8080ff"/><rect x="355.8" y="153.6" width="2.2" height="5.7" fill="#60f6f6"/><rect x="358" y="153.6" width="2" height="5.7" fill="#8080ff"/><rect x="360" y="153.6" width="2" height="5.7" fill="#60f6f6"/><rect x="362" y="153.6" width="4.5" height="5.7" fill="#8080ff"/><rect x="367.5" y="153.6" width="49.4" height="5.7" fill="#8080ff"/><rect x="426.45" y="153.6" width="1.6" height="5.7" fill="#60f6f6"/><rect x="436.95" y="153.6" width="1.6" height="5.7" fill="#60f6f6"/><rect x="447.45" y="153.6" width="1.6" height="5.7" fill="#60f6f6"/><rect x="458.1" y="153.6" width="1.6" height="5.7" fill="#60f6f6"/><rect x="462.5" y="153.6" width="6.8" height="5.7" fill="#8080ff"/><rect x="474.05" y="153.6" width="1.6" height="5.7" fill="#60f6f6"/><rect x="484.8" y="153.6" width="1.6" height="5.7" fill="#60f6f6"/><rect x="491.2" y="153.6" width="1.6" height="5.7" fill="#60f6f6"/><rect x="496.8" y="153.6" width="1.6" height="5.7" fill="#60f6f6"/><rect x="506.4" y="153.6" width="5.1" height="5.7" fill="#8080ff"/><rect x="512.45" y="153.6" width="1.6" height="5.7" fill="#8080ff"/><rect x="515" y="153.6" width="10.5" height="5.7" fill="#8080ff"/><path fill="#000" d="M84.5 160.2H528.9V162.5H84.5ZM84.5 170.06H528.9V172.16H84.5ZM84.5 179.72H528.9V181.82H84.5ZM84.5 189.38H528.9V191.48H84.5ZM84.5 199.04H528.9V201.14H84.5ZM84.5 208.7H528.9V210.8H84.5ZM84.5 218.36H528.9V220.46H84.5ZM84.5 228.02H528.9V229.02H84.5ZM84.5 160.5H86V229.02H84.5ZM527.7 160.5H528.9V229.02H527.7Z"/><path fill="#333" d="M91.9 229.02h1v1.8h-1ZM114.08 229.02h1v1.5h-1ZM136.25 229.02h1v1.8h-1ZM158.43 229.02h1v1.5h-1ZM180.6 229.02h1v1.8h-1ZM202.78 229.02h1v1.5h-1ZM224.95 229.02h1v1.8h-1ZM247.13 229.02h1v1.5h-1ZM269.3 229.02h1v1.8h-1ZM291.48 229.02h1v1.5h-1ZM313.65 229.02h1v1.8h-1ZM335.82 229.02h1v1.5h-1ZM358 229.02h1v1.8h-1ZM380.18 229.02h1v1.5h-1ZM402.35 229.02h1v1.8h-1ZM424.53 229.02h1v1.5h-1ZM446.7 229.02h1v1.8h-1ZM468.88 229.02h1v1.5h-1ZM491.05 229.02h1v1.8h-1ZM513.23 229.02h1v1.5h-1Z"/><use href="#r2" y="278.3"/><use href="#r2" y="287.96"/><use href="#r2" y="297.62"/><use href="#r2" y="307.28"/><use href="#r2" y="316.94"/><use href="#r2" y="326.6"/><use href="#r2" y="336.26"/><rect x="97.2" y="270.5" width="1.8" height="5.7" fill="#60f6f6"/><rect x="101.3" y="270.5" width="21.3" height="5.7" fill="#8080ff"/><rect x="132.3" y="270.5" width="15.4" height="5.7" fill="#8080ff"/><rect x="157.3" y="270.5" width="15.4" height="5.7" fill="#8080ff"/><rect x="181.2" y="270.5" width="1.6" height="5.7" fill="#8080ff"/><rect x="186" y="270.5" width="6.8" height="5.7" fill="#8080ff"/><rect x="203.3" y="270.5" width="7.7" height="5.7" fill="#8080ff"/><rect x="213.3" y="270.5" width="10.9" height="5.7" fill="#8080ff"/><rect x="237.45" y="270.5" width="1.6" height="5.7" fill="#8080ff"/><rect x="240.2" y="270.5" width="5.4" height="5.7" fill="#8080ff"/><rect x="255.05" y="270.5" width="1.6" height="5.7" fill="#8080ff"/><rect x="257.65" y="270.5" width="1.6" height="5.7" fill="#8080ff"/><rect x="260.6" y="270.5" width="4.1" height="5.7" fill="#60f6f6"/><rect x="268.4" y="270.5" width="1.6" height="5.7" fill="#8080ff"/><rect x="274.8" y="270.5" width="2.7" height="5.7" fill="#8080ff"/><rect x="278.7" y="270.5" width="1.6" height="5.7" fill="#8080ff"/><rect x="281.2" y="270.5" width="3.2" height="5.7" fill="#8080ff"/><rect x="288.5" y="270.5" width="3.5" height="5.7" fill="#8080ff"/><rect x="300.7" y="270.5" width="1.8" height="5.7" fill="#8080ff"/><rect x="304.4" y="270.5" width="16.9" height="5.7" fill="#8080ff"/><rect x="325.4" y="270.5" width="26.8" height="5.7" fill="#8080ff"/><rect x="352.05" y="270.5" width="1.6" height="5.7" fill="#60f6f6"/><rect x="362.3" y="270.5" width="7.2" height="5.7" fill="#60f6f6"/><rect x="380" y="270.5" width="6.4" height="5.7" fill="#8080ff"/><rect x="387.7" y="270.5" width="17.8" height="5.7" fill="#8080ff"/><rect x="406.8" y="270.5" width="2.8" height="5.7" fill="#8080ff"/><rect x="412.4" y="270.5" width="10.9" height="5.7" fill="#8080ff"/><rect x="423.7" y="270.5" width="5" height="5.7" fill="#60f6f6"/><rect x="439.95" y="270.5" width="1.6" height="5.7" fill="#60f6f6"/><rect x="442.4" y="270.5" width="17.3" height="5.7" fill="#8080ff"/><rect x="459.7" y="270.5" width="6.8" height="5.7" fill="#60f6f6"/><rect x="471.5" y="270.5" width="5.5" height="5.7" fill="#60f6f6"/><rect x="477" y="270.5" width="3.6" height="5.7" fill="#8080ff"/><rect x="481" y="270.5" width="2.4" height="5.7" fill="#60f6f6"/><rect x="484.3" y="270.5" width="43.6" height="5.7" fill="#8080ff"/><path fill="#000" d="M84.5 277.1H528.9V279.4H84.5ZM84.5 286.96H528.9V289.06H84.5ZM84.5 296.62H528.9V298.72H84.5ZM84.5 306.28H528.9V308.38H84.5ZM84.5 315.94H528.9V318.04H84.5ZM84.5 325.6H528.9V327.7H84.5ZM84.5 335.26H528.9V337.36H84.5ZM84.5 344.92H528.9V345.92H84.5ZM84.5 277.4H86V345.92H84.5ZM527.7 277.4H528.9V345.92H527.7Z"/><path fill="#333" d="M97 345.92h1v1.8h-1ZM119.25 345.92h1v1.5h-1ZM141.5 345.92h1v1.8h-1ZM163.75 345.92h1v1.5h-1ZM186 345.92h1v1.8h-1ZM208.25 345.92h1v1.5h-1ZM230.5 345.92h1v1.8h-1ZM252.75 345.92h1v1.5h-1ZM275 345.92h1v1.8h-1ZM297.25 345.92h1v1.5h-1ZM319.5 345.92h1v1.8h-1ZM341.75 345.92h1v1.5h-1ZM364 345.92h1v1.8h-1ZM386.25 345.92h1v1.5h-1ZM408.5 345.92h1v1.8h-1ZM430.75 345.92h1v1.5h-1ZM453 345.92h1v1.8h-1ZM475.25 345.92h1v1.5h-1ZM497.5 345.92h1v1.8h-1ZM519.75 345.92h1v1.5h-1Z"/><use href="#r3" y="390.3"/><use href="#r3" y="399.96"/><use href="#r3" y="409.62"/><use href="#r3" y="419.28"/><use href="#r3" y="428.94"/><use href="#r3" y="438.6"/><use href="#r3" y="448.26"/><rect x="86" y="382.5" width="33.9" height="5.7" fill="#8080ff"/><rect x="122.05" y="382.5" width="1.6" height="5.7" fill="#8080ff"/><rect x="129.65" y="382.5" width="1.6" height="5.7" fill="#60f6f6"/><rect x="137.3" y="382.5" width="8.6" height="5.7" fill="#60f6f6"/><rect x="154.1" y="382.5" width="8.6" height="5.7" fill="#60f6f6"/><rect x="165.9" y="382.5" width="5.9" height="5.7" fill="#8080ff"/><rect x="201.2" y="382.5" width="1.6" height="5.7" fill="#60f6f6"/><rect x="203.3" y="382.5" width="18.2" height="5.7" fill="#60f6f6"/><rect x="223.8" y="382.5" width="1.6" height="5.7" fill="#60f6f6"/><rect x="235.7" y="382.5" width="1.6" height="5.7" fill="#60f6f6"/><rect x="245.7" y="382.5" width="1.6" height="5.7" fill="#60f6f6"/><rect x="247.9" y="382.5" width="33" height="5.7" fill="#8080ff"/><rect x="285.7" y="382.5" width="1.6" height="5.7" fill="#60f6f6"/><rect x="289.2" y="382.5" width="1.6" height="5.7" fill="#60f6f6"/><rect x="296.2" y="382.5" width="1.6" height="5.7" fill="#60f6f6"/><rect x="314.8" y="382.5" width="48.8" height="5.7" fill="#8080ff"/><rect x="366.8" y="382.5" width="25" height="5.7" fill="#8080ff"/><rect x="410" y="382.5" width="6" height="5.7" fill="#8080ff"/><rect x="420.5" y="382.5" width="6.4" height="5.7" fill="#8080ff"/><rect x="428.7" y="382.5" width="4.1" height="5.7" fill="#8080ff"/><rect x="435" y="382.5" width="3.3" height="5.7" fill="#8080ff"/><rect x="440" y="382.5" width="16.5" height="5.7" fill="#8080ff"/><rect x="460.2" y="382.5" width="10.8" height="5.7" fill="#8080ff"/><rect x="471.7" y="382.5" width="1.6" height="5.7" fill="#60f6f6"/><rect x="486.5" y="382.5" width="2.8" height="5.7" fill="#8080ff"/><rect x="501.4" y="382.5" width="25.4" height="5.7" fill="#8080ff"/><path fill="#000" d="M84.5 389.1H528.9V391.4H84.5ZM84.5 398.96H528.9V401.06H84.5ZM84.5 408.62H528.9V410.72H84.5ZM84.5 418.28H528.9V420.38H84.5ZM84.5 427.94H528.9V430.04H84.5ZM84.5 437.6H528.9V439.7H84.5ZM84.5 447.26H528.9V449.36H84.5ZM84.5 456.92H528.9V457.92H84.5ZM84.5 389.4H86V457.92H84.5ZM527.7 389.4H528.9V457.92H527.7Z"/><path fill="#333" d="M102 457.92h1v1.8h-1ZM124.3 457.92h1v1.5h-1ZM146.6 457.92h1v1.8h-1ZM168.9 457.92h1v1.5h-1ZM191.2 457.92h1v1.8h-1ZM213.5 457.92h1v1.5h-1ZM235.8 457.92h1v1.8h-1ZM258.1 457.92h1v1.5h-1ZM280.4 457.92h1v1.8h-1ZM302.7 457.92h1v1.5h-1ZM325 457.92h1v1.8h-1ZM347.3 457.92h1v1.5h-1ZM369.6 457.92h1v1.8h-1ZM391.9 457.92h1v1.5h-1ZM414.2 457.92h1v1.8h-1ZM436.5 457.92h1v1.5h-1ZM458.8 457.92h1v1.8h-1ZM481.1 457.92h1v1.5h-1ZM503.4 457.92h1v1.8h-1ZM525.7 457.92h1v1.5h-1Z"/><path fill="#fff" d="M101.5 42.55L103 46.75L104.5 42.55ZM92.5 81.19L94 83.99L95.5 81.19ZM92.5 90.85L94 93.65L95.5 90.85ZM249.8 42.55L251 46.05L252.2 42.55ZM369 42.55L371 46.75L373 42.55ZM369 71.53L371 75.73L373 71.53ZM369 81.19L371 85.39L373 81.19ZM369 90.85L371 95.05L373 90.85ZM369 100.51L371 104.71L373 100.51ZM386.8 42.55L388 45.35L389.2 42.55ZM386.8 71.53L388 74.33L389.2 71.53ZM386.8 81.19L388 83.99L389.2 81.19ZM386.8 90.85L388 93.65L389.2 90.85ZM386.8 100.51L388 103.31L389.2 100.51ZM422.5 42.55L425 46.75L427.5 42.55ZM422.5 71.53L425 75.73L427.5 71.53ZM422.5 81.19L425 85.39L427.5 81.19ZM422.5 90.85L425 95.05L427.5 90.85ZM422.5 100.51L425 104.71L427.5 100.51ZM442.1 42.55L443.6 46.05L445.1 42.55ZM442.1 71.53L443.6 75.03L445.1 71.53ZM442.1 81.19L443.6 84.69L445.1 81.19ZM442.1 90.85L443.6 94.35L445.1 90.85ZM442.1 100.51L443.6 104.01L445.1 100.51ZM478.8 42.55L480 46.05L481.2 42.55ZM478.8 71.53L480 75.03L481.2 71.53ZM478.8 81.19L480 84.69L481.2 81.19ZM478.8 90.85L480 94.35L481.2 90.85ZM478.8 100.51L480 104.01L481.2 100.51ZM517.5 42.55L519 46.05L520.5 42.55ZM517.5 71.53L519 75.03L520.5 71.53ZM517.5 81.19L519 84.69L520.5 81.19ZM517.5 90.85L519 94.35L520.5 90.85ZM517.5 100.51L519 104.01L520.5 100.51ZM268 81.19L268 81.84L269.45 83.11L270.62 83.09L271.45 81.78L272.34 82.33L273.27 82.18L275.02 81.46L276.79 83.4L277.88 82.74L278.99 81.36L280.37 81.45L281.72 82.68L282.73 81.47L283.84 81.48L284.94 81.59L285.98 81.52L287.66 81.41L289.44 83.01L291 82.08L291.84 81.62L293.21 81.42L294.7 81.54L295.96 81.71L297.23 81.31L298.74 81.73L300.36 82.01L301.83 83.05L302.79 82.68L304.36 82.85L305.55 81.32L306.8 81.68L308.42 81.41L309.64 82.37L311.4 81.86L312.43 82.08L313.82 81.73L315.04 82.14L316.79 81.51L318.21 81.3L319.91 81.67L321.5 82.02L322.41 81.31L323.27 81.85L324.41 82.63L325.37 82.96L326.19 81.56L327.14 81.98L328.3 83.39L330.1 82.08L330.98 82.94L332.05 81.35L332.87 81.52L333.82 81.29L335.15 81.67L336.64 81.99L337.61 81.52L339.19 81.89L340.8 81.66L342.41 81.61L343.43 81.44L344.26 82.88L345 81.19ZM268 90.85L268 91.37L269.25 91.38L271 91.55L272.03 91.54L273.45 91.32L274.73 91.3L275.62 91.35L277.2 91.16L278.18 91.09L279.78 91.12L280.98 91.27L281.95 92.43L283.66 91.01L285.28 91.24L286.43 91L287.25 91.23L288.57 91.14L290.24 91.03L291.3 91.56L292.68 91.69L293.61 91.1L294.87 91.35L296.09 91.17L297.42 90.95L298.66 91.39L300.26 91.73L301.79 91.09L303.11 91.29L304.01 91.05L305.09 91.17L306.45 91.35L307.7 91.17L309.01 91.14L310.34 92.07L311.84 91.36L312.9 91.36L314.54 92.4L315.78 92.51L316.66 91.29L318.35 91.91L319.81 93.08L321.58 92.08L322.78 92.1L324.41 91.7L325.73 91.53L326.84 90.95L328.2 91.4L329.33 91.17L330.19 91.29L331.97 92.53L332.81 91.06L333.74 92.05L335.35 91.5L337.07 91.26L337.96 92.91L339.19 93.13L340.62 90.98L342.28 93.07L343.53 91.79L345 90.85ZM410 42.55L410 43.34L411.33 43.32L412.29 44.58L413.4 43.91L414.49 42.76L415.64 44.63L416.45 42.97L417.44 44.07L418.35 42.91L419.64 42.88L420.95 43.22L422.09 43.06L423.53 43.54L424.38 44.43L425.92 43.37L426.81 43.15L428.28 43.44L429.37 43.37L430.62 44.09L432.39 42.8L434.16 43.55L434.96 43.65L436.26 43.68L437.07 43.31L438.26 44.38L439.37 43.75L440.7 43.03L442.21 42.88L443.34 42.75L444.86 42.69L446.5 43.02L448.03 42.74L449.36 43.13L450.96 42.99L452.65 43.05L453.68 44.5L454.85 45.29L456.2 43.01L457.68 43.23L459.28 42.95L460.62 42.7L462.15 43.29L463.22 42.78L464.76 42.94L465.94 43.84L467.51 43.02L468.39 44.64L469.93 43.74L470.74 44.65L472.21 43.04L473.31 42.92L474.57 45.36L475 42.55ZM410 71.53L410 72.17L410.82 72.94L412.59 72.45L413.6 71.76L414.98 73.92L416.73 74.25L418.04 72.04L419.07 71.92L419.89 73.88L421.15 72.33L422.29 72.96L423.09 72.11L424.01 72.04L425.71 72.54L426.91 71.97L428.07 72.45L428.91 74.27L430 71.78L431.07 71.75L432.24 72.14L433.85 72.16L435.59 72.05L436.44 71.9L437.99 71.8L438.84 71.71L440.12 72.47L441.65 71.79L443.11 72.71L444.3 72.35L445.31 71.92L446.33 72.2L447.58 73.55L448.47 72.29L449.51 72.72L451.2 71.87L452.41 71.85L453.55 73.64L455.32 73.9L456.75 71.76L457.82 72.56L459.07 72.12L460.74 73.37L462.25 71.91L463.64 73.77L465.36 72.12L467.13 72.3L468.09 72.03L469.83 72.01L471.4 72.7L472.23 71.77L473.95 71.81L474.88 72.78L475 71.53ZM410 81.19L410 83.07L411.32 81.52L412.35 81.31L413.45 82.73L414.89 81.57L415.93 82.73L417.43 81.88L418.73 81.54L419.79 81.82L420.82 83.37L422.04 81.41L423.63 81.59L424.64 81.48L426.26 82.06L427.82 82.72L429.11 82.07L430.33 81.84L431.28 82.06L433.05 83.05L433.91 82.67L435.6 81.86L437.33 82.03L439.06 81.32L440.53 82.2L441.66 81.87L442.74 82.72L443.66 81.42L444.82 81.76L446.05 83.52L447.23 81.41L448.39 81.32L449.6 81.73L450.44 83.06L452.16 82.54L453.86 82.11L455.62 81.45L457.13 82.11L457.94 81.82L459.37 81.32L460.41 82.73L462.16 82.09L463.39 82.7L464.37 81.72L465.99 81.64L467.12 82.19L468.7 83.21L470.26 81.92L471.09 81.49L472.87 81.86L473.94 83.1L475 81.19ZM410 90.85L410 91.21L411.03 92.08L412.51 91.44L413.97 93.6L415.07 91.17L416.6 91.75L417.65 92.32L419.03 91.88L420.82 91.09L422.43 91.52L423.33 92.26L424.97 90.99L426.07 92.86L427.84 91.49L429.01 91.22L430.07 91.49L430.98 91.31L431.99 91.65L433 92.06L434.45 91.54L435.58 91.07L436.69 92.24L438.04 92.76L439.23 91.32L440.12 92.15L441.33 91.8L443.09 92.03L444.24 92.3L446.04 91.7L447.57 91.53L449.27 92.26L450.48 91.22L451.44 93.27L452.88 91.01L454.3 91.98L455.25 91.99L456.97 93.2L458.58 91.07L459.5 91.51L460.79 93.69L461.98 91.31L463.6 92.23L464.62 92.29L466.25 91.72L467.45 91.18L468.37 92.18L470.07 93.28L471.63 93.59L472.55 91.27L473.97 91.9L475 90.85ZM410 100.51L410 101.78L411.25 101.21L412.67 101.4L414.23 100.88L415.21 101.28L416.14 101.27L417.38 100.65L418.82 103.14L420.39 100.65L421.7 102.04L422.63 101.18L424.17 100.73L425.95 102.05L427.66 101.89L429.39 102.7L430.95 101.99L432.03 100.7L433.33 100.74L434.39 100.8L435.23 101.33L436.96 101.13L437.93 100.69L439.26 100.82L440.94 100.95L442.62 103.43L444.05 101.9L445.11 100.95L446.27 100.87L447.25 100.65L448.87 101.76L450.65 101L451.77 102.35L452.72 100.87L454.03 100.7L455.06 100.64L455.86 101.28L457.02 101.71L458.4 101.75L459.68 103.36L460.72 102.42L462.16 101.06L463.36 101.2L464.81 100.82L466.25 102.03L467.79 102L468.63 100.85L469.67 103.19L470.48 101.15L471.42 101.73L472.73 101.08L473.71 101.46L474.55 101.06L475 100.51ZM483 42.55L483 44.02L484.55 43.27L485.8 42.96L486.83 43.71L488.38 42.86L489.89 43.18L491.13 42.77L492.19 42.9L493.21 42.61L494.27 43.27L496.01 42.71L497.69 43.02L499.4 42.82L500.87 42.75L502.51 42.87L503.74 42.78L504.85 43.21L505.73 42.65L506.56 44.07L507.7 43.53L508.54 42.8L510.04 42.63L511.43 43.3L513.05 42.63L514.72 42.89L515 42.55ZM483 71.53L483 71.94L483.83 71.83L485.27 71.78L486.36 72.55L487.91 72.04L489.14 72.64L490.22 71.7L491.34 71.74L492.99 71.6L494.2 72.26L495.35 71.75L496.37 71.62L497.99 71.89L498.99 71.88L499.79 72.13L501.39 72.13L502.54 71.67L504.28 71.99L505.78 71.94L507.22 72.96L508.72 71.78L509.87 72.08L511.56 73.02L512.39 72.02L514.09 71.7L515 71.53ZM483 81.19L483 81.77L484.33 81.48L485.78 81.71L486.73 81.45L488.28 81.76L489.85 81.29L491.11 81.32L492.1 81.89L493.75 81.62L494.79 81.8L495.75 81.64L497.53 81.28L499.29 82.38L501.08 81.47L502.31 81.86L503.22 81.74L504.05 81.93L505.54 81.44L506.81 82.51L508.01 81.52L509.24 81.47L510.46 81.9L512.14 81.46L513.8 81.44L515 81.19ZM483 90.85L483 91.51L483.9 91.59L485.41 90.99L486.63 91.51L487.84 91.19L488.83 91.14L490.02 91.68L490.85 90.96L492.44 91.07L493.34 91.07L494.85 91.1L496.48 91.03L498.23 91.54L499.42 90.95L501.21 91.24L502.28 91.22L503.5 91.55L504.65 91.32L506.19 91.07L507.21 91.03L508.23 92.28L509.83 91.05L511.2 91.67L512.35 91.16L513.97 91.35L515 90.85ZM483 100.51L483 101.97L484.15 100.65L485.33 101.07L486.32 101.9L487.4 101.01L488.68 101.18L490.14 101.32L491.79 101.97L493.5 100.61L495.13 100.57L495.94 100.77L496.99 101.56L498.02 100.67L498.98 100.81L499.94 100.75L501.53 100.84L503.11 100.63L504.61 100.79L505.84 100.74L506.91 100.94L508.2 101.75L509.15 101.11L510.49 100.57L512.13 101.14L513.59 100.68L514.81 100.59L515 100.51ZM461 42.55L461 42.72L462.41 43.4L463.54 43.08L464.82 42.73L466.34 42.95L468 44.02L469.33 42.86L470 42.55ZM461 71.53L461 73.09L462.63 73.42L463.83 71.88L465.14 72.17L466.73 72.81L467.83 72.16L469.41 75.01L470 71.53ZM461 81.19L461 81.38L462.1 83.87L463.82 81.83L465.41 81.8L466.83 81.86L468.22 81.5L469.69 83.01L470 81.19ZM461 90.85L461 91.79L462.57 91.49L463.74 91.59L465.11 92.11L466.33 92.27L467.77 91.04L469.14 93.43L470 90.85ZM461 100.51L461 101.35L462.25 103.49L463.64 101.4L464.91 101.53L466.36 101.59L467.17 103.94L468.1 100.73L469.77 102.94L470 100.51ZM86 162.3L86 163.64L86.99 164.97L88.5 162.82L89.39 162.81L90.65 162.56L92.41 162.42L93.22 162.87L94.1 163.63L95.07 162.69L95.93 163.49L97.17 162.49L98.77 163.56L100 162.3ZM86 191.28L86 192.3L87.59 191.83L88.95 192.01L90.73 191.86L91.86 191.94L93.49 191.57L94.72 191.6L96.2 191.9L97.81 191.96L98.87 192.48L100 191.28ZM86 200.94L86 201.08L87.63 201.54L89.01 202.38L90.61 201.57L91.76 203.36L93.36 202.29L95.09 202.16L96.57 201.8L97.62 201.5L98.88 203.65L100 200.94ZM86 210.6L86 211.8L87.7 211.01L88.97 210.82L89.97 211.91L91.13 210.94L92.45 212.45L94.24 211.37L95.68 210.8L97.07 211.74L97.89 213.51L99.56 211.79L100 210.6ZM86 220.26L86 220.61L87.75 220.83L89.51 220.97L90.51 221.01L91.36 220.86L92.62 220.88L93.48 220.6L94.4 220.52L95.77 220.91L97.24 221.34L98.2 220.93L99.22 222.35L100 220.26ZM100 162.3L100 162.55L101.64 163.37L103.15 162.57L104 163.36L105.74 162.41L107.13 162.37L108.26 162.61L109.54 162.66L110.48 162.35L112 162.58L113.73 162.91L115.39 162.38L116.64 163.44L118.28 162.45L119.42 162.45L120.85 163.12L121.71 162.47L122.65 162.4L123.86 162.67L125.5 162.63L126.79 162.9L127.71 162.36L129.4 162.39L130.68 162.66L131.68 162.93L133.48 162.37L134.57 162.36L136.1 162.92L136.91 162.42L137.85 163.39L139.18 162.73L140.89 162.78L141.83 162.85L143.34 162.6L144.23 162.46L145.3 162.79L146.81 162.48L147.81 163.35L149.02 162.36L150.63 162.87L152.3 162.58L154.01 162.88L155.07 162.87L156.24 162.7L157.63 163.25L158.88 162.37L160.39 162.54L161.52 162.43L163.07 163.41L164.82 162.75L166.15 162.35L167 162.3ZM100 191.28L100 191.62L100.9 191.84L101.73 192.31L102.73 192.27L104.1 191.48L105.01 191.49L105.85 192.22L107.15 191.59L108.36 192.27L110.02 192.26L111.57 191.85L113.3 191.7L114.94 191.41L116.69 191.4L117.73 191.71L119.51 191.53L121.12 191.34L122.44 191.54L123.49 191.78L124.65 191.34L125.89 191.33L126.83 191.5L128.56 191.51L130.25 191.33L131.69 191.79L132.76 191.53L134.18 191.74L135.42 191.39L136.52 191.35L137.92 191.44L138.98 191.74L139.93 192.06L141.03 191.65L142.07 192.25L143.71 191.45L145.16 191.81L146.42 191.46L147.69 191.64L148.71 191.41L150.1 192.16L151.76 191.75L153.05 191.91L154.15 191.36L155.01 191.42L155.87 191.71L157.41 192.1L159.17 191.36L160.31 191.79L161.72 191.51L163.04 191.49L164.6 191.83L166.11 191.35L167 191.28ZM100 200.94L100 202L101.39 201.56L102.76 201.49L104.43 201.07L105.68 201.47L106.78 201.41L107.96 201.49L109.61 201.37L110.59 201.26L111.97 201L113.69 201.51L115.33 201.03L116.55 200.99L117.4 201.1L119.12 201.11L120.92 201.1L122.41 201.34L123.8 201.55L125.28 201.01L126.45 201.41L127.83 201.2L129.11 201.43L130.91 201.4L132.52 201.32L134.3 201.1L135.21 201.14L136.83 201.18L138.05 201.31L139.37 201.03L140.35 201.12L141.5 201.13L142.34 201.49L143.45 200.99L144.56 201.12L146.02 201.39L147.38 201.44L148.71 201.11L149.92 201.73L151.48 201.71L152.45 201.17L153.86 201L154.67 201.06L156.19 201.27L157.26 202.07L158.64 201.37L159.82 202.06L161.21 201.08L162.63 201.23L164.36 201.06L166.06 201.05L167 200.94ZM100 210.6L100 210.76L101.75 211.01L103.27 210.98L104.94 211.16L105.99 211L106.97 210.71L108.33 211.56L109.52 210.89L110.44 210.72L111.49 210.97L112.53 211.62L113.67 211.12L114.56 211.17L115.49 211.17L117.09 211L118.62 211.22L119.62 210.76L120.65 210.92L122.16 211.19L123.54 210.96L124.95 211.18L125.88 210.77L126.95 210.73L128.4 210.71L129.59 211.4L131.24 211.11L132.15 210.73L133.45 210.89L134.57 210.92L136.08 211.02L137.79 210.84L139.45 211.44L140.28 210.79L141.43 211.11L142.93 211.17L144.08 210.69L145 210.81L146.51 211.34L147.47 210.98L148.65 211.46L150.09 211.17L151.46 210.7L152.7 210.72L153.5 210.82L154.59 211.7L155.99 211.43L156.9 210.69L158.62 210.66L160.11 211.14L161.74 210.9L163.49 211.2L164.98 210.83L166.41 210.89L167 210.6ZM100 220.26L100 220.71L101.73 221.32L102.57 220.49L103.63 220.52L105.07 220.36L105.93 220.68L106.93 220.58L108.44 220.36L109.48 220.41L111.22 220.64L112.9 221.23L114.03 220.43L115.59 220.77L116.99 220.81L118.62 221.11L119.78 220.55L120.87 220.78L122.11 221.13L123.38 220.59L124.25 221.43L125.8 221.3L127.59 220.33L128.87 220.6L130.22 221.39L131.66 220.52L133.11 220.62L134.05 221.33L135.69 220.6L137.13 220.51L138.1 220.49L139.64 220.6L141.27 220.66L142.62 220.83L143.66 221.24L145.09 220.46L146.79 220.42L148.09 220.64L149.47 221.29L150.43 220.88L151.32 221.18L152.32 220.31L153.96 220.48L155.18 220.77L156.5 220.65L157.73 220.49L159.44 220.64L160.68 220.38L161.68 221.13L162.94 220.51L164.6 220.52L166.02 220.32L167 220.26ZM237 162.3L237 162.58L238.37 162.68L239.82 163.28L241.5 164.31L242.98 163.05L244.44 163.5L245.66 162.73L246.86 164.3L248.55 162.48L250.21 163.06L251.54 163.42L252.89 163.49L253.81 162.74L254.69 163.04L255.93 162.72L257.44 162.48L259.23 162.47L260.86 163.13L262.62 162.85L263.56 162.44L264.59 162.99L265.99 163.24L267.5 163.77L268.92 162.73L270.63 162.51L272.18 163.66L273.66 162.48L274.83 162.95L276.36 164.78L277.26 162.86L278.17 162.79L279.22 163.38L280.86 162.48L281.68 165L282.67 162.58L284.15 163.1L285.83 162.8L287.44 162.42L288.58 163.43L290.25 162.43L291.24 162.79L292.43 163.12L294.07 163.76L295.48 164.47L296.5 162.74L297.34 163.3L298.61 162.63L299.77 164.75L300.9 164.62L302.69 164.26L304.16 163.22L305.46 163.49L306.78 162.97L307.62 162.85L309.29 162.77L310.73 163.23L312 162.3ZM237 191.28L237 191.92L238.48 192.64L240.02 191.75L241.17 191.62L242.03 192.25L243.82 192.29L244.86 192.27L245.8 194.06L247.05 192.47L248.15 192.01L249.26 192.61L250.61 191.58L252.33 191.44L253.31 191.95L254.46 191.63L256.13 193.63L257.83 192.19L258.65 192.2L260.16 192.31L261.16 191.88L262.61 192.62L264.37 191.44L265.98 191.58L266.92 192.44L268.59 191.91L269.6 192.63L271.05 192.57L272.19 193.55L273.04 191.58L274.33 191.54L275.59 194.12L276.96 191.42L278.37 191.58L279.27 192.08L280.83 194L282.06 191.72L283.41 191.73L284.54 191.54L286.05 191.83L287.16 191.94L288.42 192.43L290.16 193.09L291.43 191.83L292.6 191.52L294.15 193.11L295.09 193.64L296.44 192.8L297.61 193.28L299.14 191.48L299.97 191.53L301.76 192.53L302.9 191.65L304.02 191.45L305.56 193.81L306.76 191.43L308.12 192.78L309.87 191.52L310.92 192.35L311.95 192.64L312 191.28ZM237 200.94L237 202.51L238.02 201.14L239.68 201.2L241.23 201.21L242.36 202.42L243.32 201.39L244.58 201.55L245.59 201.26L247.17 201.16L248.83 201.22L249.66 203.84L250.46 201.14L252 202.93L253.48 203.12L255.2 201.55L256.98 203L258.57 201.07L259.88 202L260.78 203.85L261.9 201.12L263.19 203.22L264.17 201.14L265.7 201.12L266.86 202.44L268.01 202.49L269.69 201.21L270.67 201.68L271.51 201.28L272.87 201.62L274.36 201.36L275.7 201.61L277.38 201.28L278.5 202.49L279.68 201.98L280.63 201.06L282.04 201.2L283.45 201.83L284.44 203.69L286.03 201.08L287.52 202.2L288.87 202.49L289.67 201.53L290.98 201.61L292.02 201.47L293.2 201.27L294.52 201.43L295.64 201.36L296.67 201.2L298.38 202.26L299.7 201.81L300.64 201.35L301.96 201.51L303 202.35L304.26 201.52L305.96 201.08L307.14 201.51L308.06 201.84L308.96 202.34L310.29 201.69L311.48 201.44L312 200.94ZM237 210.6L237 211.99L238.56 213.17L239.73 210.85L240.9 211.62L241.71 211.79L242.57 211.92L243.65 211.49L245.28 213.12L246.94 211.66L248.53 210.92L249.38 211.61L250.89 211.64L252.34 210.91L253.52 211.23L254.51 211.11L255.69 210.9L256.56 210.93L257.88 212.09L259.44 213.07L260.7 212.03L261.92 212.08L263.16 211.74L264.78 211.13L265.98 213.16L267.34 211.15L268.26 211.34L269.87 212.5L271.43 210.74L272.91 210.98L273.76 210.95L275.15 211.17L276.82 212.78L278.14 213.51L279.21 211.56L280.27 211.03L281.58 211.32L282.68 211.16L284.34 211.46L285.19 210.92L286.45 211.8L287.62 210.83L289.34 210.74L290.45 210.94L291.82 211.52L293.41 211.91L295.02 210.97L296.75 212.07L297.61 211.85L298.46 210.75L299.85 212.11L301.22 210.99L302.69 210.88L303.7 210.79L305.42 211.37L306.31 211.25L307.53 210.86L309.23 210.8L310.09 210.74L311.73 211.48L312 210.6ZM237 220.26L237 221.44L237.95 220.55L239.6 221.65L241.38 220.96L242.56 220.5L243.9 222.58L245.43 221.55L246.34 220.44L248.07 220.9L249.39 221.25L250.94 221.77L251.84 221.71L253.23 220.42L254.17 221.74L255.82 221.77L256.65 220.92L257.8 220.74L258.65 221.34L259.69 220.47L261.28 221L262.64 222.68L264.23 220.63L265.06 220.43L266.51 222.71L267.66 221.53L268.63 221.78L269.76 220.86L271.04 222.17L272.72 222.62L274.05 222.59L275.02 220.66L276.18 221.3L277.19 222.33L278.86 220.87L279.67 220.65L281.26 220.76L282.29 220.46L283.36 222.5L284.68 221.74L285.56 220.5L286.96 220.77L287.82 221.47L289.6 222.76L291.09 220.56L292.7 221.76L293.51 220.6L294.72 222.34L296.26 220.46L297.4 222.28L298.42 221.81L300.22 220.64L301.51 220.88L303.07 220.48L304.49 220.81L305.38 220.57L306.35 220.75L307.89 222.99L309.63 220.79L311.26 220.7L312 220.26ZM252.8 162.3L254 165.8L255.2 162.3ZM252.8 191.28L254 194.78L255.2 191.28ZM252.8 220.26L254 223.76L255.2 220.26ZM263.8 162.3L265 165.8L266.2 162.3ZM263.8 191.28L265 194.78L266.2 191.28ZM263.8 200.94L265 204.44L266.2 200.94ZM263.8 210.6L265 214.1L266.2 210.6ZM263.8 220.26L265 223.76L266.2 220.26ZM276.8 162.3L278 165.8L279.2 162.3ZM276.8 191.28L278 194.78L279.2 191.28ZM276.8 200.94L278 204.44L279.2 200.94ZM276.8 210.6L278 214.1L279.2 210.6ZM276.8 220.26L278 223.76L279.2 220.26ZM288.8 162.3L290 165.8L291.2 162.3ZM288.8 191.28L290 194.78L291.2 191.28ZM288.8 200.94L290 204.44L291.2 200.94ZM288.8 210.6L290 214.1L291.2 210.6ZM288.8 220.26L290 223.76L291.2 220.26ZM297.8 191.28L299 194.08L300.2 191.28ZM297.8 200.94L299 203.74L300.2 200.94ZM297.8 210.6L299 213.4L300.2 210.6ZM305.5 162.3L307 165.8L308.5 162.3ZM305.5 191.28L307 194.78L308.5 191.28ZM305.5 200.94L307 204.44L308.5 200.94ZM305.5 210.6L307 214.1L308.5 210.6ZM305.5 220.26L307 223.76L308.5 220.26ZM341.8 200.94L343 203.74L344.2 200.94ZM341.8 210.6L343 213.4L344.2 210.6ZM351 162.3L353 166.5L355 162.3ZM351 191.28L353 195.48L355 191.28ZM351 200.94L353 205.14L355 200.94ZM351 210.6L353 214.8L355 210.6ZM351 220.26L353 224.46L355 220.26ZM355 200.94L355 201.68L356.67 202.99L358 201.18L359.77 201.28L361 200.94ZM355 210.6L355 211.74L356.26 212.09L357.97 211.28L359.16 211.35L360.64 211.37L361 210.6ZM417 162.3L417 164.33L418.64 163.27L420.27 162.39L421.56 163.84L423.17 163.28L424.43 162.99L425.59 162.67L426.68 163.98L428.18 163.32L429.79 164.35L430.63 162.47L431.7 162.55L432.72 162.66L434.42 163.2L436.17 162.83L437.16 162.46L438.49 163.9L440.23 163.42L441.28 162.91L442.64 162.62L443.81 162.79L445.28 164.3L446.52 162.55L447.99 162.56L449.31 162.8L450.61 163.54L451.46 162.7L452.82 163.38L454.51 162.73L455.35 162.94L457.1 162.46L458.49 162.41L459.68 162.68L460.76 162.52L462.1 163.54L463.55 162.69L464.73 162.71L466.22 162.96L467.6 162.75L468.75 164.2L470.42 163.37L471.4 162.88L472.49 163.54L474.26 163.06L476 163.07L477.24 163.97L478.43 163.53L479.5 163.49L480.75 162.68L482.33 162.95L483.88 163.24L485.35 162.51L486.52 162.63L487.61 162.51L489.18 164.48L490.54 163.52L491.61 162.89L492.96 162.7L494.17 162.44L495.28 162.83L496.71 162.74L497.91 162.72L499.05 163.42L500.2 163.47L501.53 162.69L503.23 164.04L504.1 163.2L505.75 162.65L506 162.3ZM417 191.28L417 191.49L418.64 191.75L419.6 191.71L420.9 191.77L422.44 191.66L424.12 193.35L425.62 191.49L426.49 191.74L427.56 191.98L428.46 191.81L430.06 192.32L430.93 191.52L431.73 191.43L432.81 193.12L434.16 191.39L435.79 192.92L437.22 192.06L438.59 192.39L439.6 191.73L440.94 193.42L441.76 191.56L442.63 191.7L444.01 192.19L445.4 192.44L447.2 191.8L448.33 191.4L449.6 193.13L451.09 191.57L452.23 192.11L453.31 192.35L454.63 191.96L456.13 192.01L457.49 191.81L459.04 191.78L460.56 191.4L461.57 193.5L463.09 191.49L464.24 192.28L466.04 191.85L467.01 192.47L468.61 191.89L469.52 192.38L470.79 191.78L472.39 192.41L473.32 193.23L474.62 192L475.44 191.69L477.19 191.57L478.72 192.4L480.36 192.73L481.38 191.54L482.19 191.72L483.45 193.52L484.79 193.01L486.21 191.59L487.65 192L489.35 191.89L490.75 192.9L492 191.66L493.51 191.87L495.03 193.14L496.23 191.69L497.27 191.68L498.55 193.54L499.94 192.93L501.73 192.1L503.32 191.66L504.86 192.8L506 191.28ZM417 200.94L417 201.05L417.85 202.15L418.87 201.45L420.31 201.15L421.26 203.06L422.16 201.35L423.15 201.1L424.46 203.09L426.15 201.03L427.8 201.4L429.11 201.3L430.71 202.43L432.05 201.77L432.86 201.04L434.49 201.24L435.41 201.12L436.64 203.26L437.99 201.55L439.52 201.41L440.42 201.7L441.98 202.93L443.76 201.03L444.63 203L446.03 201.24L447.24 201.32L448.96 201.39L450.67 201.35L451.5 201.41L452.73 201.11L454.47 201.99L455.53 201.73L456.65 202.78L458.43 201.45L459.99 201.48L461.55 201.66L462.76 202.59L464.45 201.18L466.02 201.43L467.61 201.08L469.24 201.93L470.4 201.46L471.36 201.32L472.7 201.21L474.42 201.47L475.31 201.69L477.01 202.61L478.53 201.11L479.77 201.34L481.31 201.14L482.37 203L483.38 202.17L484.82 201.33L486.22 201.17L487.08 202.39L488.24 202.48L489.54 201.34L490.61 201.11L491.51 201.77L493 202L493.9 201.18L495.53 203.13L496.56 201.39L498.03 201.49L499.02 201.1L500.48 201.33L501.46 202.47L503.24 201.95L504.61 201.53L505.42 201.09L506 200.94ZM417 210.6L417 211.66L417.94 210.8L419.1 210.74L420.15 210.82L421.33 210.79L422.33 211.42L423.49 210.9L425.16 212.64L426.8 211.16L428.04 212.45L429.55 212.15L430.83 211.31L432.07 212.1L433.23 211.81L434.58 212.24L436.13 211.08L437.89 210.74L439.63 210.8L440.61 210.79L441.49 211.81L442.75 210.72L444 211.29L445.47 211.23L447.25 211.27L448.06 210.92L448.89 211.67L450.22 211.5L451.63 210.76L453.23 211.02L454.89 211.79L455.87 211.57L457.57 212.24L458.41 211.24L459.4 210.95L461.14 211.63L461.95 210.79L463.23 211.12L464.52 210.97L465.54 210.78L467.34 211.3L469.1 211.43L470.24 210.7L471.41 211.74L472.21 210.81L473.47 211.01L474.41 211.23L476.17 212.16L477.49 211.09L478.35 211.26L479.73 211.43L481.42 211.08L483.18 211.82L484.38 212.86L485.29 212.3L486.38 211.08L487.6 211.07L489.2 210.92L490.12 211.61L491.51 211.09L493.27 211.19L494.97 210.77L496.46 211.31L497.63 210.99L498.5 210.97L499.77 211.05L500.58 211.63L502.09 210.77L503.85 210.79L505.08 210.78L506 210.6ZM417 220.26L417 220.76L418.03 220.51L419.5 220.41L420.52 220.99L421.35 222.07L422.57 222.22L424.32 220.51L425.82 220.93L427.1 222.31L428.06 221.49L429.63 220.64L431.07 220.78L432.06 220.49L433.12 220.62L434.77 220.61L435.77 222.18L437.29 220.85L438.1 221.3L438.9 220.99L440.41 220.36L441.33 220.79L442.27 221.18L443.39 221.14L444.45 221.78L445.42 222.26L446.91 221.37L448.44 221.15L449.43 220.6L450.28 221.3L451.47 220.45L453.06 220.39L454.45 221.31L456.05 220.45L456.95 220.6L457.88 221.22L458.79 220.46L459.85 221.18L461.38 222.35L462.4 221.26L463.89 220.76L464.89 221.28L465.95 220.96L467.52 220.67L469.28 220.49L470.4 220.38L471.81 221.74L473.12 221.47L474.8 220.94L475.72 220.58L476.88 220.59L478.46 221.76L479.64 220.98L481.11 221.03L482.39 220.7L483.56 221.47L485.29 220.4L486.55 220.48L487.39 220.76L488.32 221.25L489.42 222.38L490.99 220.86L492.18 222.57L493.03 221.35L493.97 221.76L494.93 220.72L495.9 221.35L497.13 220.89L498.17 220.4L499.23 220.75L500.93 221.49L502.34 221.13L503.85 220.41L504.85 220.4L506 220.26ZM421.6 162.3L423.6 166.5L425.6 162.3ZM421.6 191.28L423.6 195.48L425.6 191.28ZM421.6 200.94L423.6 205.14L425.6 200.94ZM421.6 210.6L423.6 214.8L425.6 210.6ZM421.6 220.26L423.6 224.46L425.6 220.26ZM450.5 200.94L453 205.14L455.5 200.94ZM450.5 210.6L453 214.8L455.5 210.6ZM473.6 162.3L475.6 166.5L477.6 162.3ZM473.6 191.28L475.6 195.48L477.6 191.28ZM473.6 200.94L475.6 205.14L477.6 200.94ZM473.6 210.6L475.6 214.8L477.6 210.6ZM473.6 220.26L475.6 224.46L477.6 220.26ZM506 200.94L506 201.42L507.06 201.78L508 201.1L508.98 201.1L509.96 201.69L511.63 201L513.19 201.27L514.94 201.71L516.56 201.48L517.74 201.48L518.65 201.74L519.86 201.27L521.41 201.74L523.02 201.22L524.57 201.08L525 200.94ZM506 210.6L506 211.36L506.93 210.76L508.55 211.37L510.2 210.7L511.94 210.86L513.39 212.08L514.74 211.12L516.32 210.92L517.34 211.08L518.24 210.97L519.83 210.99L520.7 210.72L521.96 211.35L523.72 211.26L525 210.6ZM88.8 279.2L90 282L91.2 279.2ZM88.8 308.18L90 310.98L91.2 308.18ZM88.8 317.84L90 320.64L91.2 317.84ZM88.8 327.5L90 330.3L91.2 327.5ZM88.8 337.16L90 339.96L91.2 337.16ZM96 337.16L98 342.66L100 337.16ZM126 279.2L128 283.4L130 279.2ZM126 308.18L128 312.38L130 308.18ZM126 317.84L128 322.04L130 317.84ZM126 327.5L128 331.7L130 327.5ZM126 337.16L128 341.36L130 337.16ZM150 317.84L150 321.11L151.53 321.06L152.91 323.25L154.54 318.69L155.75 318.91L156.76 320.04L158.52 318.24L160.23 323.26L161.47 318.62L162.36 319.1L163.95 319.77L165.49 318.36L167.18 318.62L168.36 319.24L169.36 319.98L170.89 320.41L172 317.84ZM150 327.5L150 327.92L151.76 328.44L153.35 330.79L154.7 328.82L155.86 328L156.69 328.86L158.39 328.38L160.12 327.93L161.55 328.27L162.95 329.53L164.17 328.33L165.07 332.3L166.58 328.04L167.64 327.96L169.04 328L170.43 328.67L171.94 328.08L172 327.5ZM150 308.18L150 308.29L151.74 308.78L152.61 308.57L153.56 309.18L155.35 309.27L156.4 308.84L157.61 308.41L158.57 308.78L159.56 309.08L160.55 309.04L162.32 309.4L163.59 309.15L164.54 308.77L166.04 308.45L167.19 308.97L168.68 308.83L170 308.18ZM175.5 317.84L177 322.04L178.5 317.84ZM175.5 327.5L177 331.7L178.5 327.5ZM180 279.2L180 279.29L181.65 279.45L183.08 279.47L184.31 280.14L185.77 279.72L186.72 280.35L188.31 279.59L189.45 279.54L190.65 279.82L192.35 279.3L193.47 280.1L194.64 279.45L195.97 279.58L197.25 280.02L198.66 279.41L199.83 280L201.54 279.41L202.67 279.36L204.16 280.81L205.02 279.36L206.05 280.88L207.58 279.7L209.33 279.7L210.22 279.49L211.21 279.68L212.4 281.43L213.95 279.73L214.79 280.75L215.61 279.57L216.52 279.87L217.93 279.73L219.09 279.49L220.28 279.91L222.06 279.61L223.03 279.85L224.19 279.32L225.52 279.31L226.75 279.55L228.01 279.56L229.14 280.42L230.8 279.54L231.75 280.02L233.24 281.36L234.82 279.29L236.42 280.22L237.79 279.47L239.55 279.71L240.97 280.01L242.03 279.65L243.62 279.74L245.11 280.29L246.17 279.36L247.83 279.94L249.55 281.48L251.11 281.32L252.48 279.55L253.71 279.33L255.29 280.89L256.2 279.49L257.73 280.27L259.18 281.08L260.7 280.21L261.78 280.4L263.52 279.48L264.89 279.63L266.15 279.47L267.9 279.83L269.45 281.25L270.3 279.53L271.84 281.21L273.02 280.33L273.85 279.8L275.5 279.31L276.77 280.26L278.3 280.41L279.28 281.37L280.2 280.1L281.34 280.41L282.61 279.4L284.32 280.39L285.74 279.64L287.17 279.67L288.41 281.46L290.02 279.63L291.05 280.33L292.81 279.36L294.29 279.47L295.26 281.06L296.55 280L297.91 279.56L298.87 279.46L300 279.2ZM180 308.18L180 308.33L181.38 308.44L182.73 308.74L183.73 309.88L185.16 308.7L186.65 309.4L188.08 308.66L189.55 309.16L190.65 308.38L192.43 309.63L193.78 309.09L194.7 308.57L196.18 308.72L197.66 308.27L198.51 309.42L199.62 308.27L200.84 308.54L202.46 309.8L203.44 308.32L205.17 309.35L206.49 309.42L207.69 308.3L209.32 308.32L210.87 308.83L212.04 308.7L213.83 308.55L215.28 309.24L216.63 309.37L217.69 309.76L218.64 308.63L219.6 308.53L220.96 309.11L221.77 310L222.81 308.38L224.43 308.79L225.71 308.96L227.28 309.2L228.91 309.08L230.64 308.35L231.51 309.92L232.39 308.46L233.5 308.69L234.55 308.94L235.67 308.59L236.9 308.75L237.82 308.56L238.78 308.3L240.09 308.79L241.63 308.5L242.6 308.46L244.06 310.43L244.86 309.01L245.86 310.24L247.65 308.91L249.12 309.01L250.61 308.83L251.48 308.72L253.2 310.07L254.49 309.2L255.79 308.4L257.52 308.48L258.46 308.81L259.95 308.53L261.72 310.26L263.33 309.91L264.18 308.6L265.33 308.44L266.84 309.42L268.08 309.7L269.6 308.56L270.56 308.59L271.47 309.2L272.28 309.94L273.95 308.41L275.66 308.66L277.05 308.56L278.8 308.36L280.12 308.96L281.29 308.53L282.31 309.08L283.62 309.2L284.6 308.39L286.17 308.62L287.49 309.39L288.8 308.93L290 308.64L291.28 308.37L292.54 308.94L293.7 308.6L294.7 309.28L296.16 308.56L297.65 308.76L298.81 310.49L300 308.18ZM180 317.84L180 318.36L181.6 318.62L182.51 318.26L183.8 318.57L185.09 318.33L186.74 318.13L187.96 319.08L188.94 318.58L190.66 318.08L192.32 318.12L193.31 318.1L194.23 318.13L195.42 318.04L196.24 318.65L197.06 318.93L198.19 318.21L199.18 319.89L200.59 318.52L202.24 318.04L203.63 318.07L204.47 318.84L205.87 317.99L206.88 318.68L208.04 317.98L209.83 319L210.87 318.1L211.71 318.29L212.78 318.15L214.57 319.62L215.6 318.28L217.24 318.1L218.84 319.51L220.39 319.09L221.28 318.53L222.08 319.36L223.25 318.75L224.34 318.16L226.12 318.75L227.42 319L228.43 318.09L229.56 318.18L230.65 320.14L231.82 319.87L233.15 318.62L234.79 318.68L236.55 318.67L237.51 318.23L238.76 318.55L240.35 318.98L241.52 317.94L242.54 318.24L244.02 318.72L245.02 318.84L246.51 318.84L247.45 318.01L248.75 318.78L249.69 318.82L250.62 318.87L251.97 318.28L253.34 318.7L254.97 318.27L256.14 319.08L257.76 317.98L259.17 320.12L260.94 318.05L262.59 318.98L263.91 320.08L265.15 318.24L266.48 318.02L268.18 318.4L269.32 319.34L270.74 319.42L271.83 319.04L273.54 318.38L274.78 318.06L276.5 318.26L277.53 320.11L278.88 318.32L279.83 318.14L281.41 318.52L283.17 318.92L284.8 318.88L286 318.54L287.75 318.75L289.05 319.96L290.6 318.09L291.61 318.91L293.07 318.76L294.02 318.14L295.33 318.02L296.85 318.96L297.74 318.84L299.03 318.8L300 317.84ZM180 327.5L180 328.04L181.6 328.64L182.95 327.87L183.88 327.72L185.54 327.9L187.15 328.52L188.91 328.11L190.12 327.66L191.14 327.76L192.09 328.46L193.08 328.43L194.32 327.97L195.14 327.68L195.97 327.85L197.31 328.6L198.42 327.69L199.79 327.76L201.07 329.52L202.56 328.44L204.1 329.7L205.77 329.16L206.65 328.1L207.94 328.26L209.2 328.61L210.72 329.14L211.53 328.12L213.03 328.04L214.04 329.62L215.25 327.77L216.36 329.79L217.67 328.35L219.24 327.8L220.22 328.68L221.43 327.84L222.69 327.7L224.05 327.63L225.22 328.03L226.03 327.87L227.67 328.13L228.77 327.92L229.78 327.89L231.24 329.34L232.36 327.74L233.29 327.72L234.88 328.43L236.49 329.6L237.36 327.6L238.88 328.17L240.07 327.78L241 327.73L242.76 328.35L243.79 327.73L245.24 327.77L246.79 328.12L247.64 328.67L248.64 328.59L249.71 328.41L250.94 327.99L251.98 327.78L252.81 328.7L253.91 327.91L254.78 327.64L255.88 327.6L257.05 329.37L257.87 328.2L258.75 329.12L260.07 329.68L261.29 328.21L262.93 329.61L263.82 327.77L265.22 327.64L266.09 327.85L267.61 328.4L268.59 328.24L269.98 328.24L271.42 329.66L272.72 328.12L274.03 327.91L275.2 328.68L276.27 327.99L278.06 327.71L279.68 327.68L281.48 327.95L282.83 329.72L283.81 328.48L284.8 328.55L285.7 327.64L286.97 327.9L287.82 328.73L289.01 328.31L290.51 327.88L291.71 327.82L292.7 328.02L294.27 327.8L295.91 328.57L297.43 327.97L299.11 328.61L300 327.5ZM180 337.16L180 337.97L181.6 337.63L183.07 337.81L184.44 337.94L185.34 338.22L186.36 337.4L188.01 337.89L189.21 338.99L190.39 339.38L191.56 339.46L192.59 337.72L193.49 337.51L194.79 337.91L196.56 338.41L198.25 339.36L199.07 337.61L200.57 337.62L201.52 337.37L202.72 338.21L204.09 337.53L205.49 337.62L206.86 338.37L208.03 338.9L209.54 337.54L211 337.6L212.24 338.25L213.36 339.16L214.97 338.19L216.66 338.72L217.96 338.38L219.75 338.27L221.19 338.4L222.16 339.01L222.98 338L224.73 338.31L226.31 337.36L227.42 337.98L228.86 337.4L230.27 337.34L231.4 338.68L232.26 338.3L233.76 337.63L235.14 337.26L236.33 338.15L237.19 337.42L238.48 337.77L240.02 337.52L240.93 337.64L242.72 337.27L244.4 337.37L246.12 337.65L247.16 337.42L248.26 337.53L249.39 337.67L250.76 337.5L252.55 339.01L253.9 337.69L255.33 338.16L256.66 337.68L257.47 338.33L258.33 337.26L259.78 337.36L260.96 338.21L262.29 337.4L263.68 337.6L265.43 338.07L266.62 338.28L267.59 337.6L269.33 338.84L270.62 337.32L272.26 338.09L273.99 338.9L274.94 338.87L276.45 337.3L278.05 337.31L279.67 337.35L281.41 337.35L282.21 337.62L283.11 337.6L284.54 337.69L285.67 337.66L286.78 337.56L288.43 337.37L289.48 337.31L291.14 337.36L292.64 337.3L294.22 337.39L295.11 338.26L296.38 337.32L297.29 338.33L298.25 339.28L299.14 337.29L300 337.16ZM226.5 279.2L228 283.4L229.5 279.2ZM226.5 288.86L228 293.06L229.5 288.86ZM226.5 298.52L228 302.72L229.5 298.52ZM226.5 308.18L228 312.38L229.5 308.18ZM226.5 317.84L228 322.04L229.5 317.84ZM226.5 327.5L228 331.7L229.5 327.5ZM226.5 337.16L228 341.36L229.5 337.16ZM303 317.84L303 319.05L304.21 319.25L305.35 320.61L306.86 318.66L308.36 322.31L309.46 320.52L310.47 319.7L312.13 318.61L313.31 319.12L314.56 319.04L315.62 319.38L316.92 318.24L318.15 318.61L319.34 319.07L320.51 322.87L322 317.84ZM303 327.5L303 328.47L304.11 328.05L305.35 330.49L307.06 328.26L308.82 333L310.26 328.19L312.06 333L313.67 330.34L314.69 328.25L315.9 330.29L317.43 333L318.45 329.6L319.83 328.79L321.26 329.04L322 327.5ZM311.8 279.2L313 282L314.2 279.2ZM311.8 308.18L313 310.98L314.2 308.18ZM311.8 337.16L313 339.96L314.2 337.16ZM315.8 279.2L317 282L318.2 279.2ZM315.8 308.18L317 310.98L318.2 308.18ZM315.8 337.16L317 339.96L318.2 337.16ZM354.5 279.2L356 282.7L357.5 279.2ZM354.5 308.18L356 311.68L357.5 308.18ZM354.5 317.84L356 321.34L357.5 317.84ZM354.5 327.5L356 331L357.5 327.5ZM354.5 337.16L356 340.66L357.5 337.16ZM369.5 279.2L371 282.7L372.5 279.2ZM369.5 308.18L371 311.68L372.5 308.18ZM369.5 317.84L371 321.34L372.5 317.84ZM369.5 327.5L371 331L372.5 327.5ZM369.5 337.16L371 340.66L372.5 337.16ZM375.8 279.2L377 282L378.2 279.2ZM375.8 308.18L377 310.98L378.2 308.18ZM375.8 317.84L377 320.64L378.2 317.84ZM375.8 327.5L377 330.3L378.2 327.5ZM375.8 337.16L377 339.96L378.2 337.16ZM400 308.18L400 308.41L401.25 308.36L402.4 308.62L404.14 308.4L405.36 308.69L406.66 309.01L408.02 308.57L408.98 308.92L410.67 308.91L411.91 308.4L412.75 309.54L414.24 308.98L415.86 308.57L417.21 308.31L418.06 308.56L419.6 308.32L420.84 308.63L421.82 308.38L423.34 308.93L424.73 308.36L426.1 309.01L427.57 308.43L428.47 308.65L430.11 309.41L431.78 308.46L432.88 308.88L433.98 308.34L435.54 308.48L437.33 309.01L438.14 308.25L439.48 308.91L440.6 308.92L441.95 308.39L442.78 308.31L444.06 309.3L445.52 308.43L446.76 308.44L447.77 308.42L449.3 308.69L450.44 309.35L451.97 308.29L453.5 309.59L454.45 309.29L455.77 308.96L457.5 308.9L459 308.32L460 308.18ZM400 317.84L400 317.9L401.13 318.3L402.36 317.91L404 318.21L405.7 318.3L406.61 318.26L407.59 318.48L408.84 318.45L410.41 318L412.13 318.07L413.41 318.26L415.09 317.93L416.82 317.91L418.32 318.46L419.95 318.44L421.42 318.5L422.64 317.96L424.15 318.96L425.07 319.12L426.05 317.93L427.47 317.94L428.49 318.04L430.22 318.39L431.98 318.66L433.67 318.46L435.41 319.31L436.98 318.08L437.88 317.93L439.47 318L440.95 318.56L441.79 318.02L443.4 318.59L444.5 317.91L445.79 319.32L447.26 318.67L449.01 317.92L450.52 318.08L451.33 318.03L452.73 317.98L453.56 317.98L454.4 319.4L455.94 318.27L457.63 318.07L458.57 318.65L459.37 318.23L460 317.84ZM400 327.5L400 329.03L401.64 327.57L403.14 328.1L404.08 327.8L405.01 327.69L406.08 328.08L407.53 327.83L408.84 327.86L409.85 328.66L410.97 328.71L411.8 327.71L413.48 327.78L415.04 328.21L416.04 327.74L417.62 328.03L419.24 327.85L420.16 327.91L421.69 327.75L423.27 327.73L424.99 327.76L426.38 328.22L427.75 328.72L428.97 328.13L430.13 328.06L431.3 327.59L432.12 327.68L433.37 327.67L434.41 328.98L436.15 328.08L437.27 329L438.91 327.98L440.41 327.7L441.59 328.24L443.26 327.59L444.65 327.77L445.91 328.5L447.44 328.95L448.91 328.29L450.64 327.59L452.03 327.98L453.76 327.6L454.79 328.14L455.91 328.25L456.89 327.66L458.64 327.66L460 327.5ZM400 337.16L400 338.37L401.42 337.32L402.26 338.46L403.23 337.82L404.93 337.3L406.31 337.9L407.27 337.73L408.98 337.61L409.91 337.68L411.11 337.34L412.38 337.89L414.08 337.96L415.13 337.38L416.62 337.65L417.55 337.33L419.05 337.77L420.06 337.68L421.54 337.22L423.05 337.55L424.11 337.91L425.46 337.64L426.55 337.69L428.14 337.43L429.83 337.25L430.67 337.64L432 337.4L433.23 337.99L434.78 337.54L436.56 337.93L437.48 337.33L439.17 337.57L440.17 337.51L441.61 337.3L442.68 338.71L443.53 337.32L444.51 337.97L445.56 337.82L447.02 337.27L448.69 338.22L449.74 337.36L451.09 337.49L452.36 338.62L453.18 337.59L454.58 337.26L455.67 337.43L456.58 337.46L457.79 337.84L458.91 338.22L460 337.16ZM511.8 317.84L513 320.64L514.2 317.84ZM523.8 317.84L525 320.64L526.2 317.84ZM523.8 327.5L525 330.3L526.2 327.5ZM86 429.84L86 431.33L87.35 430.07L88.95 431.29L90.68 430.26L92.25 430.21L93.62 431.23L94.52 430.04L95.73 429.95L97.23 430.21L98.91 430.38L100.48 430.05L101.62 430.79L102.88 430.04L104 430.19L105.68 430.71L106.89 430.2L108.24 430.45L109.93 430.03L110.81 430.87L111.65 430.11L113.01 430.07L114.36 431.73L115.27 431.54L116.71 430.17L118.44 431.05L119.47 429.97L120 429.84ZM86 439.5L86 439.63L87.33 439.86L88.53 440.12L90.29 439.83L91.39 439.76L92.99 440.48L94.47 440.29L96.08 439.94L96.89 439.84L98.17 439.63L99.31 439.88L100.49 439.82L101.33 440.76L102.7 440.11L103.95 441.38L105.59 439.74L106.69 439.71L108.47 439.85L110.1 440.79L111.24 441.02L113.03 439.93L114.05 439.96L115.12 441.1L116.22 439.79L117.62 440.39L119.11 439.75L120 439.5ZM88 439.5L90 445L92 439.5ZM184.8 420.18L186 422.98L187.2 420.18ZM315 429.84L315 430.55L316.27 430.06L317.93 430.43L319.54 430.67L320.61 430.51L321.52 432.04L322.67 430.02L324.32 431.33L325.45 430.67L327.21 430.42L328.08 430.36L329.86 430.01L331.03 430.25L332.79 430.54L334.54 431.02L335.7 430.48L337.44 430.1L339.06 432.11L340.81 430.85L342.19 431.15L343.64 432.68L344.51 430.15L345.46 432.76L347.06 431.23L348.83 430.25L349.9 430.5L351.43 430.43L352.64 430.43L353.64 429.97L354.98 430.03L356.7 430.68L357.91 430.19L358.71 432.44L359.65 431.24L361.31 430.05L362.11 430.29L363.28 432.13L364.31 430.5L365 429.84ZM315 439.5L315 442.08L315.91 440.57L317.69 440.46L318.97 440.54L320.47 440.89L321.45 442.01L322.71 439.67L324.25 439.82L325.18 440.04L326.45 440.79L327.86 440.34L329.13 440.12L330.92 439.8L331.94 440.03L332.99 440.17L334.18 439.86L335.64 439.73L336.78 439.65L337.89 440.85L339.32 439.99L340.12 441.34L341.35 441.89L342.78 440.95L344 439.81L345.42 439.76L347 441.58L348.12 439.89L348.95 440.72L350.56 442.18L351.75 439.85L352.99 440.13L354.71 440.01L355.65 442.23L357.12 439.79L358.19 439.91L359.01 440.49L359.88 440.12L361.49 441.77L362.41 440.07L363.99 439.68L364.81 442.25L365 439.5ZM301 449.16L301 449.73L302.66 454.21L303.46 449.97L305.03 450.19L306.82 450.64L308.58 454.66L309.61 451.45L311.4 454.5L312.32 450.07L313.83 450.43L314 449.16ZM309.8 420.18L311 422.98L312.2 420.18ZM473 391.2L473 392.28L474.5 391.43L476.15 391.55L477.36 391.32L478.26 391.83L479.1 391.62L480.52 392.26L482.15 391.39L483.51 391.93L484.46 391.57L486 391.2ZM473 420.18L473 420.91L474.31 421.89L475.65 421.37L477.03 420.53L478.61 420.72L480.39 420.33L481.3 421.19L482.24 422.06L483.04 421L484.05 421.85L485.09 421.02L486 420.18ZM473 429.84L473 430.39L474.64 430.15L475.44 431.03L476.7 430.97L478.39 431.73L479.75 431.57L481.17 430.21L482.59 430.43L483.4 430.32L485.11 431.97L486 429.84ZM473 439.5L473 440.18L474.66 439.96L475.84 439.71L477.22 439.7L478.4 441.66L479.38 441.19L480.82 439.83L482.48 439.68L483.81 440.21L484.76 441.26L486 439.5ZM473 449.16L473 449.29L474.02 449.49L474.85 451.11L476.25 451.3L477.29 449.49L478.43 449.43L479.65 449.63L481.44 449.49L482.95 449.68L484.73 449.35L486 449.16ZM489 391.2L489 392.08L490.58 392.51L491.87 392.51L493.4 391.87L495 392.48L496.29 391.56L497.45 393.53L498.78 391.97L500.06 393.19L501 391.2ZM489 420.18L489 421.31L490.33 420.98L491.15 420.84L492.23 421.14L493.77 421.57L494.58 422.21L495.75 421.2L497.51 421.37L499.28 420.63L500.9 420.89L501 420.18ZM489 429.84L489 430.28L489.87 430.16L491.31 431.34L492.48 431.32L493.5 430.95L495.28 431.88L496.88 432.11L498.46 430.4L499.38 430.15L500.99 431.32L501 429.84ZM489 439.5L489 440.31L490.3 441.48L491.97 440.1L492.92 440.6L493.83 441L495.35 439.96L497.01 439.95L497.86 439.71L498.9 441.88L500.29 440.6L501 439.5ZM489 449.16L489 449.57L490.11 449.8L491.83 449.31L493.02 450.07L494.56 449.35L495.87 449.77L497.12 451.47L498.44 449.38L499.52 449.28L500.93 451.8L501 449.16ZM490 429.84L490 430.32L491.68 431.28L492.56 434.31L494.34 432.48L495.17 430.67L496.07 430.57L497.2 430.84L498.12 433.56L499.18 431.15L500 429.84ZM490 439.5L490 439.86L491.59 440.26L493.39 439.86L494.4 444.47L495.83 439.74L496.64 440.02L497.7 439.85L499.29 440.36L500 439.5ZM458.5 420.18L460 423.68L461.5 420.18ZM458.5 439.5L460 443L461.5 439.5ZM295 429.84L295 431.83L296.41 430.16L297.33 430.85L298.21 431.51L299.8 430.09L301.57 430.04L302.93 430.1L304.17 430.37L305.61 430.8L306.73 430.89L307.55 430.07L308.95 430.14L310.38 430.56L311.69 430.03L313.25 430.64L314 429.84ZM295 439.5L295 440L296.74 440.09L298.17 441.71L299.65 440.36L301.13 440.3L302.72 439.85L303.62 440.22L304.45 439.85L306.18 440L307.45 439.72L308.71 439.81L309.51 440.18L310.94 439.8L312.66 439.63L313.49 439.86L314 439.5ZM367 429.84L367 429.91L368.25 430.08L369.1 431.34L370.44 430.54L372.17 430.09L373.77 431.08L375.38 430.27L377.05 429.9L377.91 430.19L379.33 429.93L380.71 430.36L381.66 430.22L383.11 430.17L384.68 431.32L386.02 430.05L386.9 429.95L388.69 430.17L389.98 430.52L391.49 430.33L392 429.84ZM367 439.5L367 439.63L367.96 440.18L368.82 440.33L369.89 439.65L370.78 440.28L372.35 440.88L373.78 440.18L375.1 440.19L376.03 440.27L377.39 439.77L378.69 440.13L379.51 439.88L381.3 439.76L382.26 439.64L383.87 439.74L385.41 440.26L386.75 439.81L387.81 440.03L388.68 439.77L389.97 439.82L390.84 440.19L392 439.5ZM315 449.16L315 449.46L316.02 449.26L317.76 449.38L318.84 449.22L320 449.95L321.75 449.27L322.83 449.21L324.47 449.21L326.23 449.27L327.45 449.3L329.12 449.26L329.93 449.32L331.38 449.79L333.08 449.53L334.85 449.58L335.72 449.34L336.67 449.38L338.3 449.38L339.82 449.35L341.42 449.32L342.4 449.48L344.06 449.25L345.85 449.78L346.98 450.12L348.14 449.64L349.47 449.28L350.73 449.25L352.06 449.43L353 449.35L354.24 450.11L355.17 449.21L356.62 449.86L357.85 449.28L359.06 449.54L360.14 449.23L361.08 449.26L362.6 450.01L363.76 449.25L365 449.55L365 449.16ZM440 429.84L440 429.98L441.51 430.27L442.87 430.03L444.09 430.61L445.04 430.18L446.5 430.44L447.54 430.18L448.48 430.02L449.53 430.04L450.76 430.03L452 430.72L453.75 430.34L454.64 430.08L455.81 430.29L456.86 430.16L458.35 430.1L460.11 430.1L461.75 430.62L463.53 430.02L464.95 430.26L465.89 429.95L466.81 430.01L468.49 430.32L469.57 429.93L470 429.84ZM440 439.5L440 439.62L440.88 439.96L442.5 439.84L443.6 439.6L445.04 440.26L446.55 439.81L447.82 439.63L449.18 439.95L450.02 439.68L451.17 439.84L452.9 439.63L454.3 439.59L455.14 439.58L456.5 440.23L457.47 439.68L459.26 439.66L460.07 439.65L461.73 440.6L463 439.92L463.88 439.59L465.38 440.02L466.8 439.76L467.89 439.63L469.59 439.72L470 439.5ZM501 429.84L501 430.44L502.77 429.96L504.39 430.07L505.99 430.25L507.59 430.01L509.26 430.57L510.53 430.94L511.42 429.94L512.35 430.04L513.56 430.01L515.31 430.01L516.57 430.36L517.48 430.09L519.04 429.96L519.94 430.8L521.62 429.93L523.17 429.99L524.83 430.23L526.14 429.99L527 429.84ZM501 439.5L501 439.63L502.22 439.94L503.73 440.01L505.02 440.65L506.11 439.76L507.11 440.31L508.07 439.66L508.91 439.95L509.88 440.1L511.13 439.99L512.04 439.69L512.93 439.61L514.47 439.75L515.88 439.84L517.38 439.56L518.6 439.94L520.27 439.71L521.84 439.99L523.01 439.96L524.48 440.07L525.44 440.08L527 439.5ZM501 449.16L501 449.77L501.84 449.25L502.67 449.24L504.22 449.94L505.38 450.09L506.53 449.32L508.29 449.24L510.01 449.33L511.34 449.55L512.36 449.65L513.48 449.33L515.11 450.26L516.42 449.26L517.91 449.69L519.3 450.02L520.85 450.16L522.19 449.28L523.47 449.7L524.34 449.26L525.73 449.5L526.77 449.29L527 449.16Z"/><path fill="none" stroke="#000" stroke-width="0.85" d="M101.5 42.55L103 46.75L104.5 42.55M92.5 81.19L94 83.99L95.5 81.19M92.5 90.85L94 93.65L95.5 90.85M249.8 42.55L251 46.05L252.2 42.55M369 42.55L371 46.75L373 42.55M369 71.53L371 75.73L373 71.53M369 81.19L371 85.39L373 81.19M369 90.85L371 95.05L373 90.85M369 100.51L371 104.71L373 100.51M386.8 42.55L388 45.35L389.2 42.55M386.8 71.53L388 74.33L389.2 71.53M386.8 81.19L388 83.99L389.2 81.19M386.8 90.85L388 93.65L389.2 90.85M386.8 100.51L388 103.31L389.2 100.51M422.5 42.55L425 46.75L427.5 42.55M422.5 71.53L425 75.73L427.5 71.53M422.5 81.19L425 85.39L427.5 81.19M422.5 90.85L425 95.05L427.5 90.85M422.5 100.51L425 104.71L427.5 100.51M442.1 42.55L443.6 46.05L445.1 42.55M442.1 71.53L443.6 75.03L445.1 71.53M442.1 81.19L443.6 84.69L445.1 81.19M442.1 90.85L443.6 94.35L445.1 90.85M442.1 100.51L443.6 104.01L445.1 100.51M478.8 42.55L480 46.05L481.2 42.55M478.8 71.53L480 75.03L481.2 71.53M478.8 81.19L480 84.69L481.2 81.19M478.8 90.85L480 94.35L481.2 90.85M478.8 100.51L480 104.01L481.2 100.51M517.5 42.55L519 46.05L520.5 42.55M517.5 71.53L519 75.03L520.5 71.53M517.5 81.19L519 84.69L520.5 81.19M517.5 90.85L519 94.35L520.5 90.85M517.5 100.51L519 104.01L520.5 100.51M268 81.19L268 81.84L269.45 83.11L270.62 83.09L271.45 81.78L272.34 82.33L273.27 82.18L275.02 81.46L276.79 83.4L277.88 82.74L278.99 81.36L280.37 81.45L281.72 82.68L282.73 81.47L283.84 81.48L284.94 81.59L285.98 81.52L287.66 81.41L289.44 83.01L291 82.08L291.84 81.62L293.21 81.42L294.7 81.54L295.96 81.71L297.23 81.31L298.74 81.73L300.36 82.01L301.83 83.05L302.79 82.68L304.36 82.85L305.55 81.32L306.8 81.68L308.42 81.41L309.64 82.37L311.4 81.86L312.43 82.08L313.82 81.73L315.04 82.14L316.79 81.51L318.21 81.3L319.91 81.67L321.5 82.02L322.41 81.31L323.27 81.85L324.41 82.63L325.37 82.96L326.19 81.56L327.14 81.98L328.3 83.39L330.1 82.08L330.98 82.94L332.05 81.35L332.87 81.52L333.82 81.29L335.15 81.67L336.64 81.99L337.61 81.52L339.19 81.89L340.8 81.66L342.41 81.61L343.43 81.44L344.26 82.88L345 81.19M268 90.85L268 91.37L269.25 91.38L271 91.55L272.03 91.54L273.45 91.32L274.73 91.3L275.62 91.35L277.2 91.16L278.18 91.09L279.78 91.12L280.98 91.27L281.95 92.43L283.66 91.01L285.28 91.24L286.43 91L287.25 91.23L288.57 91.14L290.24 91.03L291.3 91.56L292.68 91.69L293.61 91.1L294.87 91.35L296.09 91.17L297.42 90.95L298.66 91.39L300.26 91.73L301.79 91.09L303.11 91.29L304.01 91.05L305.09 91.17L306.45 91.35L307.7 91.17L309.01 91.14L310.34 92.07L311.84 91.36L312.9 91.36L314.54 92.4L315.78 92.51L316.66 91.29L318.35 91.91L319.81 93.08L321.58 92.08L322.78 92.1L324.41 91.7L325.73 91.53L326.84 90.95L328.2 91.4L329.33 91.17L330.19 91.29L331.97 92.53L332.81 91.06L333.74 92.05L335.35 91.5L337.07 91.26L337.96 92.91L339.19 93.13L340.62 90.98L342.28 93.07L343.53 91.79L345 90.85M410 42.55L410 43.34L411.33 43.32L412.29 44.58L413.4 43.91L414.49 42.76L415.64 44.63L416.45 42.97L417.44 44.07L418.35 42.91L419.64 42.88L420.95 43.22L422.09 43.06L423.53 43.54L424.38 44.43L425.92 43.37L426.81 43.15L428.28 43.44L429.37 43.37L430.62 44.09L432.39 42.8L434.16 43.55L434.96 43.65L436.26 43.68L437.07 43.31L438.26 44.38L439.37 43.75L440.7 43.03L442.21 42.88L443.34 42.75L444.86 42.69L446.5 43.02L448.03 42.74L449.36 43.13L450.96 42.99L452.65 43.05L453.68 44.5L454.85 45.29L456.2 43.01L457.68 43.23L459.28 42.95L460.62 42.7L462.15 43.29L463.22 42.78L464.76 42.94L465.94 43.84L467.51 43.02L468.39 44.64L469.93 43.74L470.74 44.65L472.21 43.04L473.31 42.92L474.57 45.36L475 42.55M410 71.53L410 72.17L410.82 72.94L412.59 72.45L413.6 71.76L414.98 73.92L416.73 74.25L418.04 72.04L419.07 71.92L419.89 73.88L421.15 72.33L422.29 72.96L423.09 72.11L424.01 72.04L425.71 72.54L426.91 71.97L428.07 72.45L428.91 74.27L430 71.78L431.07 71.75L432.24 72.14L433.85 72.16L435.59 72.05L436.44 71.9L437.99 71.8L438.84 71.71L440.12 72.47L441.65 71.79L443.11 72.71L444.3 72.35L445.31 71.92L446.33 72.2L447.58 73.55L448.47 72.29L449.51 72.72L451.2 71.87L452.41 71.85L453.55 73.64L455.32 73.9L456.75 71.76L457.82 72.56L459.07 72.12L460.74 73.37L462.25 71.91L463.64 73.77L465.36 72.12L467.13 72.3L468.09 72.03L469.83 72.01L471.4 72.7L472.23 71.77L473.95 71.81L474.88 72.78L475 71.53M410 81.19L410 83.07L411.32 81.52L412.35 81.31L413.45 82.73L414.89 81.57L415.93 82.73L417.43 81.88L418.73 81.54L419.79 81.82L420.82 83.37L422.04 81.41L423.63 81.59L424.64 81.48L426.26 82.06L427.82 82.72L429.11 82.07L430.33 81.84L431.28 82.06L433.05 83.05L433.91 82.67L435.6 81.86L437.33 82.03L439.06 81.32L440.53 82.2L441.66 81.87L442.74 82.72L443.66 81.42L444.82 81.76L446.05 83.52L447.23 81.41L448.39 81.32L449.6 81.73L450.44 83.06L452.16 82.54L453.86 82.11L455.62 81.45L457.13 82.11L457.94 81.82L459.37 81.32L460.41 82.73L462.16 82.09L463.39 82.7L464.37 81.72L465.99 81.64L467.12 82.19L468.7 83.21L470.26 81.92L471.09 81.49L472.87 81.86L473.94 83.1L475 81.19M410 90.85L410 91.21L411.03 92.08L412.51 91.44L413.97 93.6L415.07 91.17L416.6 91.75L417.65 92.32L419.03 91.88L420.82 91.09L422.43 91.52L423.33 92.26L424.97 90.99L426.07 92.86L427.84 91.49L429.01 91.22L430.07 91.49L430.98 91.31L431.99 91.65L433 92.06L434.45 91.54L435.58 91.07L436.69 92.24L438.04 92.76L439.23 91.32L440.12 92.15L441.33 91.8L443.09 92.03L444.24 92.3L446.04 91.7L447.57 91.53L449.27 92.26L450.48 91.22L451.44 93.27L452.88 91.01L454.3 91.98L455.25 91.99L456.97 93.2L458.58 91.07L459.5 91.51L460.79 93.69L461.98 91.31L463.6 92.23L464.62 92.29L466.25 91.72L467.45 91.18L468.37 92.18L470.07 93.28L471.63 93.59L472.55 91.27L473.97 91.9L475 90.85M410 100.51L410 101.78L411.25 101.21L412.67 101.4L414.23 100.88L415.21 101.28L416.14 101.27L417.38 100.65L418.82 103.14L420.39 100.65L421.7 102.04L422.63 101.18L424.17 100.73L425.95 102.05L427.66 101.89L429.39 102.7L430.95 101.99L432.03 100.7L433.33 100.74L434.39 100.8L435.23 101.33L436.96 101.13L437.93 100.69L439.26 100.82L440.94 100.95L442.62 103.43L444.05 101.9L445.11 100.95L446.27 100.87L447.25 100.65L448.87 101.76L450.65 101L451.77 102.35L452.72 100.87L454.03 100.7L455.06 100.64L455.86 101.28L457.02 101.71L458.4 101.75L459.68 103.36L460.72 102.42L462.16 101.06L463.36 101.2L464.81 100.82L466.25 102.03L467.79 102L468.63 100.85L469.67 103.19L470.48 101.15L471.42 101.73L472.73 101.08L473.71 101.46L474.55 101.06L475 100.51M483 42.55L483 44.02L484.55 43.27L485.8 42.96L486.83 43.71L488.38 42.86L489.89 43.18L491.13 42.77L492.19 42.9L493.21 42.61L494.27 43.27L496.01 42.71L497.69 43.02L499.4 42.82L500.87 42.75L502.51 42.87L503.74 42.78L504.85 43.21L505.73 42.65L506.56 44.07L507.7 43.53L508.54 42.8L510.04 42.63L511.43 43.3L513.05 42.63L514.72 42.89L515 42.55M483 71.53L483 71.94L483.83 71.83L485.27 71.78L486.36 72.55L487.91 72.04L489.14 72.64L490.22 71.7L491.34 71.74L492.99 71.6L494.2 72.26L495.35 71.75L496.37 71.62L497.99 71.89L498.99 71.88L499.79 72.13L501.39 72.13L502.54 71.67L504.28 71.99L505.78 71.94L507.22 72.96L508.72 71.78L509.87 72.08L511.56 73.02L512.39 72.02L514.09 71.7L515 71.53M483 81.19L483 81.77L484.33 81.48L485.78 81.71L486.73 81.45L488.28 81.76L489.85 81.29L491.11 81.32L492.1 81.89L493.75 81.62L494.79 81.8L495.75 81.64L497.53 81.28L499.29 82.38L501.08 81.47L502.31 81.86L503.22 81.74L504.05 81.93L505.54 81.44L506.81 82.51L508.01 81.52L509.24 81.47L510.46 81.9L512.14 81.46L513.8 81.44L515 81.19M483 90.85L483 91.51L483.9 91.59L485.41 90.99L486.63 91.51L487.84 91.19L488.83 91.14L490.02 91.68L490.85 90.96L492.44 91.07L493.34 91.07L494.85 91.1L496.48 91.03L498.23 91.54L499.42 90.95L501.21 91.24L502.28 91.22L503.5 91.55L504.65 91.32L506.19 91.07L507.21 91.03L508.23 92.28L509.83 91.05L511.2 91.67L512.35 91.16L513.97 91.35L515 90.85M483 100.51L483 101.97L484.15 100.65L485.33 101.07L486.32 101.9L487.4 101.01L488.68 101.18L490.14 101.32L491.79 101.97L493.5 100.61L495.13 100.57L495.94 100.77L496.99 101.56L498.02 100.67L498.98 100.81L499.94 100.75L501.53 100.84L503.11 100.63L504.61 100.79L505.84 100.74L506.91 100.94L508.2 101.75L509.15 101.11L510.49 100.57L512.13 101.14L513.59 100.68L514.81 100.59L515 100.51M461 42.55L461 42.72L462.41 43.4L463.54 43.08L464.82 42.73L466.34 42.95L468 44.02L469.33 42.86L470 42.55M461 71.53L461 73.09L462.63 73.42L463.83 71.88L465.14 72.17L466.73 72.81L467.83 72.16L469.41 75.01L470 71.53M461 81.19L461 81.38L462.1 83.87L463.82 81.83L465.41 81.8L466.83 81.86L468.22 81.5L469.69 83.01L470 81.19M461 90.85L461 91.79L462.57 91.49L463.74 91.59L465.11 92.11L466.33 92.27L467.77 91.04L469.14 93.43L470 90.85M461 100.51L461 101.35L462.25 103.49L463.64 101.4L464.91 101.53L466.36 101.59L467.17 103.94L468.1 100.73L469.77 102.94L470 100.51M86 162.3L86 163.64L86.99 164.97L88.5 162.82L89.39 162.81L90.65 162.56L92.41 162.42L93.22 162.87L94.1 163.63L95.07 162.69L95.93 163.49L97.17 162.49L98.77 163.56L100 162.3M86 191.28L86 192.3L87.59 191.83L88.95 192.01L90.73 191.86L91.86 191.94L93.49 191.57L94.72 191.6L96.2 191.9L97.81 191.96L98.87 192.48L100 191.28M86 200.94L86 201.08L87.63 201.54L89.01 202.38L90.61 201.57L91.76 203.36L93.36 202.29L95.09 202.16L96.57 201.8L97.62 201.5L98.88 203.65L100 200.94M86 210.6L86 211.8L87.7 211.01L88.97 210.82L89.97 211.91L91.13 210.94L92.45 212.45L94.24 211.37L95.68 210.8L97.07 211.74L97.89 213.51L99.56 211.79L100 210.6M86 220.26L86 220.61L87.75 220.83L89.51 220.97L90.51 221.01L91.36 220.86L92.62 220.88L93.48 220.6L94.4 220.52L95.77 220.91L97.24 221.34L98.2 220.93L99.22 222.35L100 220.26M100 162.3L100 162.55L101.64 163.37L103.15 162.57L104 163.36L105.74 162.41L107.13 162.37L108.26 162.61L109.54 162.66L110.48 162.35L112 162.58L113.73 162.91L115.39 162.38L116.64 163.44L118.28 162.45L119.42 162.45L120.85 163.12L121.71 162.47L122.65 162.4L123.86 162.67L125.5 162.63L126.79 162.9L127.71 162.36L129.4 162.39L130.68 162.66L131.68 162.93L133.48 162.37L134.57 162.36L136.1 162.92L136.91 162.42L137.85 163.39L139.18 162.73L140.89 162.78L141.83 162.85L143.34 162.6L144.23 162.46L145.3 162.79L146.81 162.48L147.81 163.35L149.02 162.36L150.63 162.87L152.3 162.58L154.01 162.88L155.07 162.87L156.24 162.7L157.63 163.25L158.88 162.37L160.39 162.54L161.52 162.43L163.07 163.41L164.82 162.75L166.15 162.35L167 162.3M100 191.28L100 191.62L100.9 191.84L101.73 192.31L102.73 192.27L104.1 191.48L105.01 191.49L105.85 192.22L107.15 191.59L108.36 192.27L110.02 192.26L111.57 191.85L113.3 191.7L114.94 191.41L116.69 191.4L117.73 191.71L119.51 191.53L121.12 191.34L122.44 191.54L123.49 191.78L124.65 191.34L125.89 191.33L126.83 191.5L128.56 191.51L130.25 191.33L131.69 191.79L132.76 191.53L134.18 191.74L135.42 191.39L136.52 191.35L137.92 191.44L138.98 191.74L139.93 192.06L141.03 191.65L142.07 192.25L143.71 191.45L145.16 191.81L146.42 191.46L147.69 191.64L148.71 191.41L150.1 192.16L151.76 191.75L153.05 191.91L154.15 191.36L155.01 191.42L155.87 191.71L157.41 192.1L159.17 191.36L160.31 191.79L161.72 191.51L163.04 191.49L164.6 191.83L166.11 191.35L167 191.28M100 200.94L100 202L101.39 201.56L102.76 201.49L104.43 201.07L105.68 201.47L106.78 201.41L107.96 201.49L109.61 201.37L110.59 201.26L111.97 201L113.69 201.51L115.33 201.03L116.55 200.99L117.4 201.1L119.12 201.11L120.92 201.1L122.41 201.34L123.8 201.55L125.28 201.01L126.45 201.41L127.83 201.2L129.11 201.43L130.91 201.4L132.52 201.32L134.3 201.1L135.21 201.14L136.83 201.18L138.05 201.31L139.37 201.03L140.35 201.12L141.5 201.13L142.34 201.49L143.45 200.99L144.56 201.12L146.02 201.39L147.38 201.44L148.71 201.11L149.92 201.73L151.48 201.71L152.45 201.17L153.86 201L154.67 201.06L156.19 201.27L157.26 202.07L158.64 201.37L159.82 202.06L161.21 201.08L162.63 201.23L164.36 201.06L166.06 201.05L167 200.94M100 210.6L100 210.76L101.75 211.01L103.27 210.98L104.94 211.16L105.99 211L106.97 210.71L108.33 211.56L109.52 210.89L110.44 210.72L111.49 210.97L112.53 211.62L113.67 211.12L114.56 211.17L115.49 211.17L117.09 211L118.62 211.22L119.62 210.76L120.65 210.92L122.16 211.19L123.54 210.96L124.95 211.18L125.88 210.77L126.95 210.73L128.4 210.71L129.59 211.4L131.24 211.11L132.15 210.73L133.45 210.89L134.57 210.92L136.08 211.02L137.79 210.84L139.45 211.44L140.28 210.79L141.43 211.11L142.93 211.17L144.08 210.69L145 210.81L146.51 211.34L147.47 210.98L148.65 211.46L150.09 211.17L151.46 210.7L152.7 210.72L153.5 210.82L154.59 211.7L155.99 211.43L156.9 210.69L158.62 210.66L160.11 211.14L161.74 210.9L163.49 211.2L164.98 210.83L166.41 210.89L167 210.6M100 220.26L100 220.71L101.73 221.32L102.57 220.49L103.63 220.52L105.07 220.36L105.93 220.68L106.93 220.58L108.44 220.36L109.48 220.41L111.22 220.64L112.9 221.23L114.03 220.43L115.59 220.77L116.99 220.81L118.62 221.11L119.78 220.55L120.87 220.78L122.11 221.13L123.38 220.59L124.25 221.43L125.8 221.3L127.59 220.33L128.87 220.6L130.22 221.39L131.66 220.52L133.11 220.62L134.05 221.33L135.69 220.6L137.13 220.51L138.1 220.49L139.64 220.6L141.27 220.66L142.62 220.83L143.66 221.24L145.09 220.46L146.79 220.42L148.09 220.64L149.47 221.29L150.43 220.88L151.32 221.18L152.32 220.31L153.96 220.48L155.18 220.77L156.5 220.65L157.73 220.49L159.44 220.64L160.68 220.38L161.68 221.13L162.94 220.51L164.6 220.52L166.02 220.32L167 220.26M237 162.3L237 162.58L238.37 162.68L239.82 163.28L241.5 164.31L242.98 163.05L244.44 163.5L245.66 162.73L246.86 164.3L248.55 162.48L250.21 163.06L251.54 163.42L252.89 163.49L253.81 162.74L254.69 163.04L255.93 162.72L257.44 162.48L259.23 162.47L260.86 163.13L262.62 162.85L263.56 162.44L264.59 162.99L265.99 163.24L267.5 163.77L268.92 162.73L270.63 162.51L272.18 163.66L273.66 162.48L274.83 162.95L276.36 164.78L277.26 162.86L278.17 162.79L279.22 163.38L280.86 162.48L281.68 165L282.67 162.58L284.15 163.1L285.83 162.8L287.44 162.42L288.58 163.43L290.25 162.43L291.24 162.79L292.43 163.12L294.07 163.76L295.48 164.47L296.5 162.74L297.34 163.3L298.61 162.63L299.77 164.75L300.9 164.62L302.69 164.26L304.16 163.22L305.46 163.49L306.78 162.97L307.62 162.85L309.29 162.77L310.73 163.23L312 162.3M237 191.28L237 191.92L238.48 192.64L240.02 191.75L241.17 191.62L242.03 192.25L243.82 192.29L244.86 192.27L245.8 194.06L247.05 192.47L248.15 192.01L249.26 192.61L250.61 191.58L252.33 191.44L253.31 191.95L254.46 191.63L256.13 193.63L257.83 192.19L258.65 192.2L260.16 192.31L261.16 191.88L262.61 192.62L264.37 191.44L265.98 191.58L266.92 192.44L268.59 191.91L269.6 192.63L271.05 192.57L272.19 193.55L273.04 191.58L274.33 191.54L275.59 194.12L276.96 191.42L278.37 191.58L279.27 192.08L280.83 194L282.06 191.72L283.41 191.73L284.54 191.54L286.05 191.83L287.16 191.94L288.42 192.43L290.16 193.09L291.43 191.83L292.6 191.52L294.15 193.11L295.09 193.64L296.44 192.8L297.61 193.28L299.14 191.48L299.97 191.53L301.76 192.53L302.9 191.65L304.02 191.45L305.56 193.81L306.76 191.43L308.12 192.78L309.87 191.52L310.92 192.35L311.95 192.64L312 191.28M237 200.94L237 202.51L238.02 201.14L239.68 201.2L241.23 201.21L242.36 202.42L243.32 201.39L244.58 201.55L245.59 201.26L247.17 201.16L248.83 201.22L249.66 203.84L250.46 201.14L252 202.93L253.48 203.12L255.2 201.55L256.98 203L258.57 201.07L259.88 202L260.78 203.85L261.9 201.12L263.19 203.22L264.17 201.14L265.7 201.12L266.86 202.44L268.01 202.49L269.69 201.21L270.67 201.68L271.51 201.28L272.87 201.62L274.36 201.36L275.7 201.61L277.38 201.28L278.5 202.49L279.68 201.98L280.63 201.06L282.04 201.2L283.45 201.83L284.44 203.69L286.03 201.08L287.52 202.2L288.87 202.49L289.67 201.53L290.98 201.61L292.02 201.47L293.2 201.27L294.52 201.43L295.64 201.36L296.67 201.2L298.38 202.26L299.7 201.81L300.64 201.35L301.96 201.51L303 202.35L304.26 201.52L305.96 201.08L307.14 201.51L308.06 201.84L308.96 202.34L310.29 201.69L311.48 201.44L312 200.94M237 210.6L237 211.99L238.56 213.17L239.73 210.85L240.9 211.62L241.71 211.79L242.57 211.92L243.65 211.49L245.28 213.12L246.94 211.66L248.53 210.92L249.38 211.61L250.89 211.64L252.34 210.91L253.52 211.23L254.51 211.11L255.69 210.9L256.56 210.93L257.88 212.09L259.44 213.07L260.7 212.03L261.92 212.08L263.16 211.74L264.78 211.13L265.98 213.16L267.34 211.15L268.26 211.34L269.87 212.5L271.43 210.74L272.91 210.98L273.76 210.95L275.15 211.17L276.82 212.78L278.14 213.51L279.21 211.56L280.27 211.03L281.58 211.32L282.68 211.16L284.34 211.46L285.19 210.92L286.45 211.8L287.62 210.83L289.34 210.74L290.45 210.94L291.82 211.52L293.41 211.91L295.02 210.97L296.75 212.07L297.61 211.85L298.46 210.75L299.85 212.11L301.22 210.99L302.69 210.88L303.7 210.79L305.42 211.37L306.31 211.25L307.53 210.86L309.23 210.8L310.09 210.74L311.73 211.48L312 210.6M237 220.26L237 221.44L237.95 220.55L239.6 221.65L241.38 220.96L242.56 220.5L243.9 222.58L245.43 221.55L246.34 220.44L248.07 220.9L249.39 221.25L250.94 221.77L251.84 221.71L253.23 220.42L254.17 221.74L255.82 221.77L256.65 220.92L257.8 220.74L258.65 221.34L259.69 220.47L261.28 221L262.64 222.68L264.23 220.63L265.06 220.43L266.51 222.71L267.66 221.53L268.63 221.78L269.76 220.86L271.04 222.17L272.72 222.62L274.05 222.59L275.02 220.66L276.18 221.3L277.19 222.33L278.86 220.87L279.67 220.65L281.26 220.76L282.29 220.46L283.36 222.5L284.68 221.74L285.56 220.5L286.96 220.77L287.82 221.47L289.6 222.76L291.09 220.56L292.7 221.76L293.51 220.6L294.72 222.34L296.26 220.46L297.4 222.28L298.42 221.81L300.22 220.64L301.51 220.88L303.07 220.48L304.49 220.81L305.38 220.57L306.35 220.75L307.89 222.99L309.63 220.79L311.26 220.7L312 220.26M252.8 162.3L254 165.8L255.2 162.3M252.8 191.28L254 194.78L255.2 191.28M252.8 220.26L254 223.76L255.2 220.26M263.8 162.3L265 165.8L266.2 162.3M263.8 191.28L265 194.78L266.2 191.28M263.8 200.94L265 204.44L266.2 200.94M263.8 210.6L265 214.1L266.2 210.6M263.8 220.26L265 223.76L266.2 220.26M276.8 162.3L278 165.8L279.2 162.3M276.8 191.28L278 194.78L279.2 191.28M276.8 200.94L278 204.44L279.2 200.94M276.8 210.6L278 214.1L279.2 210.6M276.8 220.26L278 223.76L279.2 220.26M288.8 162.3L290 165.8L291.2 162.3M288.8 191.28L290 194.78L291.2 191.28M288.8 200.94L290 204.44L291.2 200.94M288.8 210.6L290 214.1L291.2 210.6M288.8 220.26L290 223.76L291.2 220.26M297.8 191.28L299 194.08L300.2 191.28M297.8 200.94L299 203.74L300.2 200.94M297.8 210.6L299 213.4L300.2 210.6M305.5 162.3L307 165.8L308.5 162.3M305.5 191.28L307 194.78L308.5 191.28M305.5 200.94L307 204.44L308.5 200.94M305.5 210.6L307 214.1L308.5 210.6M305.5 220.26L307 223.76L308.5 220.26M341.8 200.94L343 203.74L344.2 200.94M341.8 210.6L343 213.4L344.2 210.6M351 162.3L353 166.5L355 162.3M351 191.28L353 195.48L355 191.28M351 200.94L353 205.14L355 200.94M351 210.6L353 214.8L355 210.6M351 220.26L353 224.46L355 220.26M355 200.94L355 201.68L356.67 202.99L358 201.18L359.77 201.28L361 200.94M355 210.6L355 211.74L356.26 212.09L357.97 211.28L359.16 211.35L360.64 211.37L361 210.6M417 162.3L417 164.33L418.64 163.27L420.27 162.39L421.56 163.84L423.17 163.28L424.43 162.99L425.59 162.67L426.68 163.98L428.18 163.32L429.79 164.35L430.63 162.47L431.7 162.55L432.72 162.66L434.42 163.2L436.17 162.83L437.16 162.46L438.49 163.9L440.23 163.42L441.28 162.91L442.64 162.62L443.81 162.79L445.28 164.3L446.52 162.55L447.99 162.56L449.31 162.8L450.61 163.54L451.46 162.7L452.82 163.38L454.51 162.73L455.35 162.94L457.1 162.46L458.49 162.41L459.68 162.68L460.76 162.52L462.1 163.54L463.55 162.69L464.73 162.71L466.22 162.96L467.6 162.75L468.75 164.2L470.42 163.37L471.4 162.88L472.49 163.54L474.26 163.06L476 163.07L477.24 163.97L478.43 163.53L479.5 163.49L480.75 162.68L482.33 162.95L483.88 163.24L485.35 162.51L486.52 162.63L487.61 162.51L489.18 164.48L490.54 163.52L491.61 162.89L492.96 162.7L494.17 162.44L495.28 162.83L496.71 162.74L497.91 162.72L499.05 163.42L500.2 163.47L501.53 162.69L503.23 164.04L504.1 163.2L505.75 162.65L506 162.3M417 191.28L417 191.49L418.64 191.75L419.6 191.71L420.9 191.77L422.44 191.66L424.12 193.35L425.62 191.49L426.49 191.74L427.56 191.98L428.46 191.81L430.06 192.32L430.93 191.52L431.73 191.43L432.81 193.12L434.16 191.39L435.79 192.92L437.22 192.06L438.59 192.39L439.6 191.73L440.94 193.42L441.76 191.56L442.63 191.7L444.01 192.19L445.4 192.44L447.2 191.8L448.33 191.4L449.6 193.13L451.09 191.57L452.23 192.11L453.31 192.35L454.63 191.96L456.13 192.01L457.49 191.81L459.04 191.78L460.56 191.4L461.57 193.5L463.09 191.49L464.24 192.28L466.04 191.85L467.01 192.47L468.61 191.89L469.52 192.38L470.79 191.78L472.39 192.41L473.32 193.23L474.62 192L475.44 191.69L477.19 191.57L478.72 192.4L480.36 192.73L481.38 191.54L482.19 191.72L483.45 193.52L484.79 193.01L486.21 191.59L487.65 192L489.35 191.89L490.75 192.9L492 191.66L493.51 191.87L495.03 193.14L496.23 191.69L497.27 191.68L498.55 193.54L499.94 192.93L501.73 192.1L503.32 191.66L504.86 192.8L506 191.28M417 200.94L417 201.05L417.85 202.15L418.87 201.45L420.31 201.15L421.26 203.06L422.16 201.35L423.15 201.1L424.46 203.09L426.15 201.03L427.8 201.4L429.11 201.3L430.71 202.43L432.05 201.77L432.86 201.04L434.49 201.24L435.41 201.12L436.64 203.26L437.99 201.55L439.52 201.41L440.42 201.7L441.98 202.93L443.76 201.03L444.63 203L446.03 201.24L447.24 201.32L448.96 201.39L450.67 201.35L451.5 201.41L452.73 201.11L454.47 201.99L455.53 201.73L456.65 202.78L458.43 201.45L459.99 201.48L461.55 201.66L462.76 202.59L464.45 201.18L466.02 201.43L467.61 201.08L469.24 201.93L470.4 201.46L471.36 201.32L472.7 201.21L474.42 201.47L475.31 201.69L477.01 202.61L478.53 201.11L479.77 201.34L481.31 201.14L482.37 203L483.38 202.17L484.82 201.33L486.22 201.17L487.08 202.39L488.24 202.48L489.54 201.34L490.61 201.11L491.51 201.77L493 202L493.9 201.18L495.53 203.13L496.56 201.39L498.03 201.49L499.02 201.1L500.48 201.33L501.46 202.47L503.24 201.95L504.61 201.53L505.42 201.09L506 200.94M417 210.6L417 211.66L417.94 210.8L419.1 210.74L420.15 210.82L421.33 210.79L422.33 211.42L423.49 210.9L425.16 212.64L426.8 211.16L428.04 212.45L429.55 212.15L430.83 211.31L432.07 212.1L433.23 211.81L434.58 212.24L436.13 211.08L437.89 210.74L439.63 210.8L440.61 210.79L441.49 211.81L442.75 210.72L444 211.29L445.47 211.23L447.25 211.27L448.06 210.92L448.89 211.67L450.22 211.5L451.63 210.76L453.23 211.02L454.89 211.79L455.87 211.57L457.57 212.24L458.41 211.24L459.4 210.95L461.14 211.63L461.95 210.79L463.23 211.12L464.52 210.97L465.54 210.78L467.34 211.3L469.1 211.43L470.24 210.7L471.41 211.74L472.21 210.81L473.47 211.01L474.41 211.23L476.17 212.16L477.49 211.09L478.35 211.26L479.73 211.43L481.42 211.08L483.18 211.82L484.38 212.86L485.29 212.3L486.38 211.08L487.6 211.07L489.2 210.92L490.12 211.61L491.51 211.09L493.27 211.19L494.97 210.77L496.46 211.31L497.63 210.99L498.5 210.97L499.77 211.05L500.58 211.63L502.09 210.77L503.85 210.79L505.08 210.78L506 210.6M417 220.26L417 220.76L418.03 220.51L419.5 220.41L420.52 220.99L421.35 222.07L422.57 222.22L424.32 220.51L425.82 220.93L427.1 222.31L428.06 221.49L429.63 220.64L431.07 220.78L432.06 220.49L433.12 220.62L434.77 220.61L435.77 222.18L437.29 220.85L438.1 221.3L438.9 220.99L440.41 220.36L441.33 220.79L442.27 221.18L443.39 221.14L444.45 221.78L445.42 222.26L446.91 221.37L448.44 221.15L449.43 220.6L450.28 221.3L451.47 220.45L453.06 220.39L454.45 221.31L456.05 220.45L456.95 220.6L457.88 221.22L458.79 220.46L459.85 221.18L461.38 222.35L462.4 221.26L463.89 220.76L464.89 221.28L465.95 220.96L467.52 220.67L469.28 220.49L470.4 220.38L471.81 221.74L473.12 221.47L474.8 220.94L475.72 220.58L476.88 220.59L478.46 221.76L479.64 220.98L481.11 221.03L482.39 220.7L483.56 221.47L485.29 220.4L486.55 220.48L487.39 220.76L488.32 221.25L489.42 222.38L490.99 220.86L492.18 222.57L493.03 221.35L493.97 221.76L494.93 220.72L495.9 221.35L497.13 220.89L498.17 220.4L499.23 220.75L500.93 221.49L502.34 221.13L503.85 220.41L504.85 220.4L506 220.26M421.6 162.3L423.6 166.5L425.6 162.3M421.6 191.28L423.6 195.48L425.6 191.28M421.6 200.94L423.6 205.14L425.6 200.94M421.6 210.6L423.6 214.8L425.6 210.6M421.6 220.26L423.6 224.46L425.6 220.26M450.5 200.94L453 205.14L455.5 200.94M450.5 210.6L453 214.8L455.5 210.6M473.6 162.3L475.6 166.5L477.6 162.3M473.6 191.28L475.6 195.48L477.6 191.28M473.6 200.94L475.6 205.14L477.6 200.94M473.6 210.6L475.6 214.8L477.6 210.6M473.6 220.26L475.6 224.46L477.6 220.26M506 200.94L506 201.42L507.06 201.78L508 201.1L508.98 201.1L509.96 201.69L511.63 201L513.19 201.27L514.94 201.71L516.56 201.48L517.74 201.48L518.65 201.74L519.86 201.27L521.41 201.74L523.02 201.22L524.57 201.08L525 200.94M506 210.6L506 211.36L506.93 210.76L508.55 211.37L510.2 210.7L511.94 210.86L513.39 212.08L514.74 211.12L516.32 210.92L517.34 211.08L518.24 210.97L519.83 210.99L520.7 210.72L521.96 211.35L523.72 211.26L525 210.6M88.8 279.2L90 282L91.2 279.2M88.8 308.18L90 310.98L91.2 308.18M88.8 317.84L90 320.64L91.2 317.84M88.8 327.5L90 330.3L91.2 327.5M88.8 337.16L90 339.96L91.2 337.16M96 337.16L98 342.66L100 337.16M126 279.2L128 283.4L130 279.2M126 308.18L128 312.38L130 308.18M126 317.84L128 322.04L130 317.84M126 327.5L128 331.7L130 327.5M126 337.16L128 341.36L130 337.16M150 317.84L150 321.11L151.53 321.06L152.91 323.25L154.54 318.69L155.75 318.91L156.76 320.04L158.52 318.24L160.23 323.26L161.47 318.62L162.36 319.1L163.95 319.77L165.49 318.36L167.18 318.62L168.36 319.24L169.36 319.98L170.89 320.41L172 317.84M150 327.5L150 327.92L151.76 328.44L153.35 330.79L154.7 328.82L155.86 328L156.69 328.86L158.39 328.38L160.12 327.93L161.55 328.27L162.95 329.53L164.17 328.33L165.07 332.3L166.58 328.04L167.64 327.96L169.04 328L170.43 328.67L171.94 328.08L172 327.5M150 308.18L150 308.29L151.74 308.78L152.61 308.57L153.56 309.18L155.35 309.27L156.4 308.84L157.61 308.41L158.57 308.78L159.56 309.08L160.55 309.04L162.32 309.4L163.59 309.15L164.54 308.77L166.04 308.45L167.19 308.97L168.68 308.83L170 308.18M175.5 317.84L177 322.04L178.5 317.84M175.5 327.5L177 331.7L178.5 327.5M180 279.2L180 279.29L181.65 279.45L183.08 279.47L184.31 280.14L185.77 279.72L186.72 280.35L188.31 279.59L189.45 279.54L190.65 279.82L192.35 279.3L193.47 280.1L194.64 279.45L195.97 279.58L197.25 280.02L198.66 279.41L199.83 280L201.54 279.41L202.67 279.36L204.16 280.81L205.02 279.36L206.05 280.88L207.58 279.7L209.33 279.7L210.22 279.49L211.21 279.68L212.4 281.43L213.95 279.73L214.79 280.75L215.61 279.57L216.52 279.87L217.93 279.73L219.09 279.49L220.28 279.91L222.06 279.61L223.03 279.85L224.19 279.32L225.52 279.31L226.75 279.55L228.01 279.56L229.14 280.42L230.8 279.54L231.75 280.02L233.24 281.36L234.82 279.29L236.42 280.22L237.79 279.47L239.55 279.71L240.97 280.01L242.03 279.65L243.62 279.74L245.11 280.29L246.17 279.36L247.83 279.94L249.55 281.48L251.11 281.32L252.48 279.55L253.71 279.33L255.29 280.89L256.2 279.49L257.73 280.27L259.18 281.08L260.7 280.21L261.78 280.4L263.52 279.48L264.89 279.63L266.15 279.47L267.9 279.83L269.45 281.25L270.3 279.53L271.84 281.21L273.02 280.33L273.85 279.8L275.5 279.31L276.77 280.26L278.3 280.41L279.28 281.37L280.2 280.1L281.34 280.41L282.61 279.4L284.32 280.39L285.74 279.64L287.17 279.67L288.41 281.46L290.02 279.63L291.05 280.33L292.81 279.36L294.29 279.47L295.26 281.06L296.55 280L297.91 279.56L298.87 279.46L300 279.2M180 308.18L180 308.33L181.38 308.44L182.73 308.74L183.73 309.88L185.16 308.7L186.65 309.4L188.08 308.66L189.55 309.16L190.65 308.38L192.43 309.63L193.78 309.09L194.7 308.57L196.18 308.72L197.66 308.27L198.51 309.42L199.62 308.27L200.84 308.54L202.46 309.8L203.44 308.32L205.17 309.35L206.49 309.42L207.69 308.3L209.32 308.32L210.87 308.83L212.04 308.7L213.83 308.55L215.28 309.24L216.63 309.37L217.69 309.76L218.64 308.63L219.6 308.53L220.96 309.11L221.77 310L222.81 308.38L224.43 308.79L225.71 308.96L227.28 309.2L228.91 309.08L230.64 308.35L231.51 309.92L232.39 308.46L233.5 308.69L234.55 308.94L235.67 308.59L236.9 308.75L237.82 308.56L238.78 308.3L240.09 308.79L241.63 308.5L242.6 308.46L244.06 310.43L244.86 309.01L245.86 310.24L247.65 308.91L249.12 309.01L250.61 308.83L251.48 308.72L253.2 310.07L254.49 309.2L255.79 308.4L257.52 308.48L258.46 308.81L259.95 308.53L261.72 310.26L263.33 309.91L264.18 308.6L265.33 308.44L266.84 309.42L268.08 309.7L269.6 308.56L270.56 308.59L271.47 309.2L272.28 309.94L273.95 308.41L275.66 308.66L277.05 308.56L278.8 308.36L280.12 308.96L281.29 308.53L282.31 309.08L283.62 309.2L284.6 308.39L286.17 308.62L287.49 309.39L288.8 308.93L290 308.64L291.28 308.37L292.54 308.94L293.7 308.6L294.7 309.28L296.16 308.56L297.65 308.76L298.81 310.49L300 308.18M180 317.84L180 318.36L181.6 318.62L182.51 318.26L183.8 318.57L185.09 318.33L186.74 318.13L187.96 319.08L188.94 318.58L190.66 318.08L192.32 318.12L193.31 318.1L194.23 318.13L195.42 318.04L196.24 318.65L197.06 318.93L198.19 318.21L199.18 319.89L200.59 318.52L202.24 318.04L203.63 318.07L204.47 318.84L205.87 317.99L206.88 318.68L208.04 317.98L209.83 319L210.87 318.1L211.71 318.29L212.78 318.15L214.57 319.62L215.6 318.28L217.24 318.1L218.84 319.51L220.39 319.09L221.28 318.53L222.08 319.36L223.25 318.75L224.34 318.16L226.12 318.75L227.42 319L228.43 318.09L229.56 318.18L230.65 320.14L231.82 319.87L233.15 318.62L234.79 318.68L236.55 318.67L237.51 318.23L238.76 318.55L240.35 318.98L241.52 317.94L242.54 318.24L244.02 318.72L245.02 318.84L246.51 318.84L247.45 318.01L248.75 318.78L249.69 318.82L250.62 318.87L251.97 318.28L253.34 318.7L254.97 318.27L256.14 319.08L257.76 317.98L259.17 320.12L260.94 318.05L262.59 318.98L263.91 320.08L265.15 318.24L266.48 318.02L268.18 318.4L269.32 319.34L270.74 319.42L271.83 319.04L273.54 318.38L274.78 318.06L276.5 318.26L277.53 320.11L278.88 318.32L279.83 318.14L281.41 318.52L283.17 318.92L284.8 318.88L286 318.54L287.75 318.75L289.05 319.96L290.6 318.09L291.61 318.91L293.07 318.76L294.02 318.14L295.33 318.02L296.85 318.96L297.74 318.84L299.03 318.8L300 317.84M180 327.5L180 328.04L181.6 328.64L182.95 327.87L183.88 327.72L185.54 327.9L187.15 328.52L188.91 328.11L190.12 327.66L191.14 327.76L192.09 328.46L193.08 328.43L194.32 327.97L195.14 327.68L195.97 327.85L197.31 328.6L198.42 327.69L199.79 327.76L201.07 329.52L202.56 328.44L204.1 329.7L205.77 329.16L206.65 328.1L207.94 328.26L209.2 328.61L210.72 329.14L211.53 328.12L213.03 328.04L214.04 329.62L215.25 327.77L216.36 329.79L217.67 328.35L219.24 327.8L220.22 328.68L221.43 327.84L222.69 327.7L224.05 327.63L225.22 328.03L226.03 327.87L227.67 328.13L228.77 327.92L229.78 327.89L231.24 329.34L232.36 327.74L233.29 327.72L234.88 328.43L236.49 329.6L237.36 327.6L238.88 328.17L240.07 327.78L241 327.73L242.76 328.35L243.79 327.73L245.24 327.77L246.79 328.12L247.64 328.67L248.64 328.59L249.71 328.41L250.94 327.99L251.98 327.78L252.81 328.7L253.91 327.91L254.78 327.64L255.88 327.6L257.05 329.37L257.87 328.2L258.75 329.12L260.07 329.68L261.29 328.21L262.93 329.61L263.82 327.77L265.22 327.64L266.09 327.85L267.61 328.4L268.59 328.24L269.98 328.24L271.42 329.66L272.72 328.12L274.03 327.91L275.2 328.68L276.27 327.99L278.06 327.71L279.68 327.68L281.48 327.95L282.83 329.72L283.81 328.48L284.8 328.55L285.7 327.64L286.97 327.9L287.82 328.73L289.01 328.31L290.51 327.88L291.71 327.82L292.7 328.02L294.27 327.8L295.91 328.57L297.43 327.97L299.11 328.61L300 327.5M180 337.16L180 337.97L181.6 337.63L183.07 337.81L184.44 337.94L185.34 338.22L186.36 337.4L188.01 337.89L189.21 338.99L190.39 339.38L191.56 339.46L192.59 337.72L193.49 337.51L194.79 337.91L196.56 338.41L198.25 339.36L199.07 337.61L200.57 337.62L201.52 337.37L202.72 338.21L204.09 337.53L205.49 337.62L206.86 338.37L208.03 338.9L209.54 337.54L211 337.6L212.24 338.25L213.36 339.16L214.97 338.19L216.66 338.72L217.96 338.38L219.75 338.27L221.19 338.4L222.16 339.01L222.98 338L224.73 338.31L226.31 337.36L227.42 337.98L228.86 337.4L230.27 337.34L231.4 338.68L232.26 338.3L233.76 337.63L235.14 337.26L236.33 338.15L237.19 337.42L238.48 337.77L240.02 337.52L240.93 337.64L242.72 337.27L244.4 337.37L246.12 337.65L247.16 337.42L248.26 337.53L249.39 337.67L250.76 337.5L252.55 339.01L253.9 337.69L255.33 338.16L256.66 337.68L257.47 338.33L258.33 337.26L259.78 337.36L260.96 338.21L262.29 337.4L263.68 337.6L265.43 338.07L266.62 338.28L267.59 337.6L269.33 338.84L270.62 337.32L272.26 338.09L273.99 338.9L274.94 338.87L276.45 337.3L278.05 337.31L279.67 337.35L281.41 337.35L282.21 337.62L283.11 337.6L284.54 337.69L285.67 337.66L286.78 337.56L288.43 337.37L289.48 337.31L291.14 337.36L292.64 337.3L294.22 337.39L295.11 338.26L296.38 337.32L297.29 338.33L298.25 339.28L299.14 337.29L300 337.16M226.5 279.2L228 283.4L229.5 279.2M226.5 288.86L228 293.06L229.5 288.86M226.5 298.52L228 302.72L229.5 298.52M226.5 308.18L228 312.38L229.5 308.18M226.5 317.84L228 322.04L229.5 317.84M226.5 327.5L228 331.7L229.5 327.5M226.5 337.16L228 341.36L229.5 337.16M303 317.84L303 319.05L304.21 319.25L305.35 320.61L306.86 318.66L308.36 322.31L309.46 320.52L310.47 319.7L312.13 318.61L313.31 319.12L314.56 319.04L315.62 319.38L316.92 318.24L318.15 318.61L319.34 319.07L320.51 322.87L322 317.84M303 327.5L303 328.47L304.11 328.05L305.35 330.49L307.06 328.26L308.82 333L310.26 328.19L312.06 333L313.67 330.34L314.69 328.25L315.9 330.29L317.43 333L318.45 329.6L319.83 328.79L321.26 329.04L322 327.5M311.8 279.2L313 282L314.2 279.2M311.8 308.18L313 310.98L314.2 308.18M311.8 337.16L313 339.96L314.2 337.16M315.8 279.2L317 282L318.2 279.2M315.8 308.18L317 310.98L318.2 308.18M315.8 337.16L317 339.96L318.2 337.16M354.5 279.2L356 282.7L357.5 279.2M354.5 308.18L356 311.68L357.5 308.18M354.5 317.84L356 321.34L357.5 317.84M354.5 327.5L356 331L357.5 327.5M354.5 337.16L356 340.66L357.5 337.16M369.5 279.2L371 282.7L372.5 279.2M369.5 308.18L371 311.68L372.5 308.18M369.5 317.84L371 321.34L372.5 317.84M369.5 327.5L371 331L372.5 327.5M369.5 337.16L371 340.66L372.5 337.16M375.8 279.2L377 282L378.2 279.2M375.8 308.18L377 310.98L378.2 308.18M375.8 317.84L377 320.64L378.2 317.84M375.8 327.5L377 330.3L378.2 327.5M375.8 337.16L377 339.96L378.2 337.16M400 308.18L400 308.41L401.25 308.36L402.4 308.62L404.14 308.4L405.36 308.69L406.66 309.01L408.02 308.57L408.98 308.92L410.67 308.91L411.91 308.4L412.75 309.54L414.24 308.98L415.86 308.57L417.21 308.31L418.06 308.56L419.6 308.32L420.84 308.63L421.82 308.38L423.34 308.93L424.73 308.36L426.1 309.01L427.57 308.43L428.47 308.65L430.11 309.41L431.78 308.46L432.88 308.88L433.98 308.34L435.54 308.48L437.33 309.01L438.14 308.25L439.48 308.91L440.6 308.92L441.95 308.39L442.78 308.31L444.06 309.3L445.52 308.43L446.76 308.44L447.77 308.42L449.3 308.69L450.44 309.35L451.97 308.29L453.5 309.59L454.45 309.29L455.77 308.96L457.5 308.9L459 308.32L460 308.18M400 317.84L400 317.9L401.13 318.3L402.36 317.91L404 318.21L405.7 318.3L406.61 318.26L407.59 318.48L408.84 318.45L410.41 318L412.13 318.07L413.41 318.26L415.09 317.93L416.82 317.91L418.32 318.46L419.95 318.44L421.42 318.5L422.64 317.96L424.15 318.96L425.07 319.12L426.05 317.93L427.47 317.94L428.49 318.04L430.22 318.39L431.98 318.66L433.67 318.46L435.41 319.31L436.98 318.08L437.88 317.93L439.47 318L440.95 318.56L441.79 318.02L443.4 318.59L444.5 317.91L445.79 319.32L447.26 318.67L449.01 317.92L450.52 318.08L451.33 318.03L452.73 317.98L453.56 317.98L454.4 319.4L455.94 318.27L457.63 318.07L458.57 318.65L459.37 318.23L460 317.84M400 327.5L400 329.03L401.64 327.57L403.14 328.1L404.08 327.8L405.01 327.69L406.08 328.08L407.53 327.83L408.84 327.86L409.85 328.66L410.97 328.71L411.8 327.71L413.48 327.78L415.04 328.21L416.04 327.74L417.62 328.03L419.24 327.85L420.16 327.91L421.69 327.75L423.27 327.73L424.99 327.76L426.38 328.22L427.75 328.72L428.97 328.13L430.13 328.06L431.3 327.59L432.12 327.68L433.37 327.67L434.41 328.98L436.15 328.08L437.27 329L438.91 327.98L440.41 327.7L441.59 328.24L443.26 327.59L444.65 327.77L445.91 328.5L447.44 328.95L448.91 328.29L450.64 327.59L452.03 327.98L453.76 327.6L454.79 328.14L455.91 328.25L456.89 327.66L458.64 327.66L460 327.5M400 337.16L400 338.37L401.42 337.32L402.26 338.46L403.23 337.82L404.93 337.3L406.31 337.9L407.27 337.73L408.98 337.61L409.91 337.68L411.11 337.34L412.38 337.89L414.08 337.96L415.13 337.38L416.62 337.65L417.55 337.33L419.05 337.77L420.06 337.68L421.54 337.22L423.05 337.55L424.11 337.91L425.46 337.64L426.55 337.69L428.14 337.43L429.83 337.25L430.67 337.64L432 337.4L433.23 337.99L434.78 337.54L436.56 337.93L437.48 337.33L439.17 337.57L440.17 337.51L441.61 337.3L442.68 338.71L443.53 337.32L444.51 337.97L445.56 337.82L447.02 337.27L448.69 338.22L449.74 337.36L451.09 337.49L452.36 338.62L453.18 337.59L454.58 337.26L455.67 337.43L456.58 337.46L457.79 337.84L458.91 338.22L460 337.16M511.8 317.84L513 320.64L514.2 317.84M523.8 317.84L525 320.64L526.2 317.84M523.8 327.5L525 330.3L526.2 327.5M86 429.84L86 431.33L87.35 430.07L88.95 431.29L90.68 430.26L92.25 430.21L93.62 431.23L94.52 430.04L95.73 429.95L97.23 430.21L98.91 430.38L100.48 430.05L101.62 430.79L102.88 430.04L104 430.19L105.68 430.71L106.89 430.2L108.24 430.45L109.93 430.03L110.81 430.87L111.65 430.11L113.01 430.07L114.36 431.73L115.27 431.54L116.71 430.17L118.44 431.05L119.47 429.97L120 429.84M86 439.5L86 439.63L87.33 439.86L88.53 440.12L90.29 439.83L91.39 439.76L92.99 440.48L94.47 440.29L96.08 439.94L96.89 439.84L98.17 439.63L99.31 439.88L100.49 439.82L101.33 440.76L102.7 440.11L103.95 441.38L105.59 439.74L106.69 439.71L108.47 439.85L110.1 440.79L111.24 441.02L113.03 439.93L114.05 439.96L115.12 441.1L116.22 439.79L117.62 440.39L119.11 439.75L120 439.5M88 439.5L90 445L92 439.5M184.8 420.18L186 422.98L187.2 420.18M315 429.84L315 430.55L316.27 430.06L317.93 430.43L319.54 430.67L320.61 430.51L321.52 432.04L322.67 430.02L324.32 431.33L325.45 430.67L327.21 430.42L328.08 430.36L329.86 430.01L331.03 430.25L332.79 430.54L334.54 431.02L335.7 430.48L337.44 430.1L339.06 432.11L340.81 430.85L342.19 431.15L343.64 432.68L344.51 430.15L345.46 432.76L347.06 431.23L348.83 430.25L349.9 430.5L351.43 430.43L352.64 430.43L353.64 429.97L354.98 430.03L356.7 430.68L357.91 430.19L358.71 432.44L359.65 431.24L361.31 430.05L362.11 430.29L363.28 432.13L364.31 430.5L365 429.84M315 439.5L315 442.08L315.91 440.57L317.69 440.46L318.97 440.54L320.47 440.89L321.45 442.01L322.71 439.67L324.25 439.82L325.18 440.04L326.45 440.79L327.86 440.34L329.13 440.12L330.92 439.8L331.94 440.03L332.99 440.17L334.18 439.86L335.64 439.73L336.78 439.65L337.89 440.85L339.32 439.99L340.12 441.34L341.35 441.89L342.78 440.95L344 439.81L345.42 439.76L347 441.58L348.12 439.89L348.95 440.72L350.56 442.18L351.75 439.85L352.99 440.13L354.71 440.01L355.65 442.23L357.12 439.79L358.19 439.91L359.01 440.49L359.88 440.12L361.49 441.77L362.41 440.07L363.99 439.68L364.81 442.25L365 439.5M301 449.16L301 449.73L302.66 454.21L303.46 449.97L305.03 450.19L306.82 450.64L308.58 454.66L309.61 451.45L311.4 454.5L312.32 450.07L313.83 450.43L314 449.16M309.8 420.18L311 422.98L312.2 420.18M473 391.2L473 392.28L474.5 391.43L476.15 391.55L477.36 391.32L478.26 391.83L479.1 391.62L480.52 392.26L482.15 391.39L483.51 391.93L484.46 391.57L486 391.2M473 420.18L473 420.91L474.31 421.89L475.65 421.37L477.03 420.53L478.61 420.72L480.39 420.33L481.3 421.19L482.24 422.06L483.04 421L484.05 421.85L485.09 421.02L486 420.18M473 429.84L473 430.39L474.64 430.15L475.44 431.03L476.7 430.97L478.39 431.73L479.75 431.57L481.17 430.21L482.59 430.43L483.4 430.32L485.11 431.97L486 429.84M473 439.5L473 440.18L474.66 439.96L475.84 439.71L477.22 439.7L478.4 441.66L479.38 441.19L480.82 439.83L482.48 439.68L483.81 440.21L484.76 441.26L486 439.5M473 449.16L473 449.29L474.02 449.49L474.85 451.11L476.25 451.3L477.29 449.49L478.43 449.43L479.65 449.63L481.44 449.49L482.95 449.68L484.73 449.35L486 449.16M489 391.2L489 392.08L490.58 392.51L491.87 392.51L493.4 391.87L495 392.48L496.29 391.56L497.45 393.53L498.78 391.97L500.06 393.19L501 391.2M489 420.18L489 421.31L490.33 420.98L491.15 420.84L492.23 421.14L493.77 421.57L494.58 422.21L495.75 421.2L497.51 421.37L499.28 420.63L500.9 420.89L501 420.18M489 429.84L489 430.28L489.87 430.16L491.31 431.34L492.48 431.32L493.5 430.95L495.28 431.88L496.88 432.11L498.46 430.4L499.38 430.15L500.99 431.32L501 429.84M489 439.5L489 440.31L490.3 441.48L491.97 440.1L492.92 440.6L493.83 441L495.35 439.96L497.01 439.95L497.86 439.71L498.9 441.88L500.29 440.6L501 439.5M489 449.16L489 449.57L490.11 449.8L491.83 449.31L493.02 450.07L494.56 449.35L495.87 449.77L497.12 451.47L498.44 449.38L499.52 449.28L500.93 451.8L501 449.16M490 429.84L490 430.32L491.68 431.28L492.56 434.31L494.34 432.48L495.17 430.67L496.07 430.57L497.2 430.84L498.12 433.56L499.18 431.15L500 429.84M490 439.5L490 439.86L491.59 440.26L493.39 439.86L494.4 444.47L495.83 439.74L496.64 440.02L497.7 439.85L499.29 440.36L500 439.5M458.5 420.18L460 423.68L461.5 420.18M458.5 439.5L460 443L461.5 439.5M295 429.84L295 431.83L296.41 430.16L297.33 430.85L298.21 431.51L299.8 430.09L301.57 430.04L302.93 430.1L304.17 430.37L305.61 430.8L306.73 430.89L307.55 430.07L308.95 430.14L310.38 430.56L311.69 430.03L313.25 430.64L314 429.84M295 439.5L295 440L296.74 440.09L298.17 441.71L299.65 440.36L301.13 440.3L302.72 439.85L303.62 440.22L304.45 439.85L306.18 440L307.45 439.72L308.71 439.81L309.51 440.18L310.94 439.8L312.66 439.63L313.49 439.86L314 439.5M367 429.84L367 429.91L368.25 430.08L369.1 431.34L370.44 430.54L372.17 430.09L373.77 431.08L375.38 430.27L377.05 429.9L377.91 430.19L379.33 429.93L380.71 430.36L381.66 430.22L383.11 430.17L384.68 431.32L386.02 430.05L386.9 429.95L388.69 430.17L389.98 430.52L391.49 430.33L392 429.84M367 439.5L367 439.63L367.96 440.18L368.82 440.33L369.89 439.65L370.78 440.28L372.35 440.88L373.78 440.18L375.1 440.19L376.03 440.27L377.39 439.77L378.69 440.13L379.51 439.88L381.3 439.76L382.26 439.64L383.87 439.74L385.41 440.26L386.75 439.81L387.81 440.03L388.68 439.77L389.97 439.82L390.84 440.19L392 439.5M315 449.16L315 449.46L316.02 449.26L317.76 449.38L318.84 449.22L320 449.95L321.75 449.27L322.83 449.21L324.47 449.21L326.23 449.27L327.45 449.3L329.12 449.26L329.93 449.32L331.38 449.79L333.08 449.53L334.85 449.58L335.72 449.34L336.67 449.38L338.3 449.38L339.82 449.35L341.42 449.32L342.4 449.48L344.06 449.25L345.85 449.78L346.98 450.12L348.14 449.64L349.47 449.28L350.73 449.25L352.06 449.43L353 449.35L354.24 450.11L355.17 449.21L356.62 449.86L357.85 449.28L359.06 449.54L360.14 449.23L361.08 449.26L362.6 450.01L363.76 449.25L365 449.55L365 449.16M440 429.84L440 429.98L441.51 430.27L442.87 430.03L444.09 430.61L445.04 430.18L446.5 430.44L447.54 430.18L448.48 430.02L449.53 430.04L450.76 430.03L452 430.72L453.75 430.34L454.64 430.08L455.81 430.29L456.86 430.16L458.35 430.1L460.11 430.1L461.75 430.62L463.53 430.02L464.95 430.26L465.89 429.95L466.81 430.01L468.49 430.32L469.57 429.93L470 429.84M440 439.5L440 439.62L440.88 439.96L442.5 439.84L443.6 439.6L445.04 440.26L446.55 439.81L447.82 439.63L449.18 439.95L450.02 439.68L451.17 439.84L452.9 439.63L454.3 439.59L455.14 439.58L456.5 440.23L457.47 439.68L459.26 439.66L460.07 439.65L461.73 440.6L463 439.92L463.88 439.59L465.38 440.02L466.8 439.76L467.89 439.63L469.59 439.72L470 439.5M501 429.84L501 430.44L502.77 429.96L504.39 430.07L505.99 430.25L507.59 430.01L509.26 430.57L510.53 430.94L511.42 429.94L512.35 430.04L513.56 430.01L515.31 430.01L516.57 430.36L517.48 430.09L519.04 429.96L519.94 430.8L521.62 429.93L523.17 429.99L524.83 430.23L526.14 429.99L527 429.84M501 439.5L501 439.63L502.22 439.94L503.73 440.01L505.02 440.65L506.11 439.76L507.11 440.31L508.07 439.66L508.91 439.95L509.88 440.1L511.13 439.99L512.04 439.69L512.93 439.61L514.47 439.75L515.88 439.84L517.38 439.56L518.6 439.94L520.27 439.71L521.84 439.99L523.01 439.96L524.48 440.07L525.44 440.08L527 439.5M501 449.16L501 449.77L501.84 449.25L502.67 449.24L504.22 449.94L505.38 450.09L506.53 449.32L508.29 449.24L510.01 449.33L511.34 449.55L512.36 449.65L513.48 449.33L515.11 450.26L516.42 449.26L517.91 449.69L519.3 450.02L520.85 450.16L522.19 449.28L523.47 449.7L524.34 449.26L525.73 449.5L526.77 449.29L527 449.16"/></svg>
<svg style="position:absolute;left:0;top:0" width="550" height="474"><path fill="#606060" d="M107.68 25.9H138.5V27.9H107.68Z M104.8 26.9L108.4 24.6V29.2Z M143.88 25.9H150.5V27.9H143.88Z M141 26.9L144.6 24.6V29.2Z M155.58 25.9H162.2V27.9H155.58Z M152.7 26.9L156.3 24.6V29.2Z M167.88 25.9H182.5V27.9H167.88Z M165 26.9L168.6 24.6V29.2Z M217.38 25.9H221.8V27.9H217.38Z M214.5 26.9L218.1 24.6V29.2Z M224 25.9H246.62V27.9H224Z M249.5 26.9L245.9 24.6V29.2Z M271.28 25.9H346V27.9H271.28Z M268.4 26.9L272 24.6V29.2Z M352 26.9L349 24.7V29.1Z M376.48 25.9H386V27.9H376.48Z M373.6 26.9L377.2 24.6V29.2Z M392.48 25.9H417.6V27.9H392.48Z M389.6 26.9L393.2 24.6V29.2Z M431.38 25.9H441V27.9H431.38Z M428.5 26.9L432.1 24.6V29.2Z M469.8 25.9H475.62V27.9H469.8Z M478.5 26.9L474.9 24.6V29.2Z M486.48 25.9H501V27.9H486.48Z M483.6 26.9L487.2 24.6V29.2Z M504.68 25.9H516.4V27.9H504.68Z M501.8 26.9L505.4 24.6V29.2Z M522.7 26.9L525.7 24.7V29.1Z M351.8 14.3H366.42V16.3H351.8Z M369.3 15.3L365.7 13V17.6Z M393 14.3H406.72V16.3H393Z M409.6 15.3L406 13V17.6Z M203.88 134.7H237.3V136.7H203.88Z M201 135.7L204.6 133.4V138Z M324.7 134.7H337.82V136.7H324.7Z M340.7 135.7L337.1 133.4V138Z M394.68 134.7H417.3V136.7H394.68Z M391.8 135.7L395.4 133.4V138Z M522.5 135.8L525.5 133.6V138Z M102.38 145.8H107.6V147.8H102.38Z M99.5 146.8L103.1 144.5V149.1Z M113.28 145.8H117.6V147.8H113.28Z M110.4 146.8L114 144.5V149.1Z M123.28 145.8H166.7V147.8H123.28Z M120.4 146.8L124 144.5V149.1Z M171.88 145.8H201V147.8H171.88Z M169 146.8L172.6 144.5V149.1Z M313 145.8H322.62V147.8H313Z M325.5 146.8L321.9 144.5V149.1Z M371.28 145.8H392.5V147.8H371.28Z M368.4 146.8L372 144.5V149.1Z M428.88 145.8H449V147.8H428.88Z M426 146.8L429.6 144.5V149.1Z M465.58 145.8H470V147.8H465.58Z M462.7 146.8L466.3 144.5V149.1Z M508.4 146H511V148H508.4Z M506 147L509 144.7V149.3Z M515.88 146H520.7V148H515.88Z M513 147L516.6 144.7V149.3Z M108.68 251.8H122.5V253.8H108.68Z M105.8 252.8L109.4 250.5V255.1Z M300.5 253.1L303.5 250.9V255.3Z M450.5 252.8L453.5 250.6V255Z M463.08 252H477V254H463.08Z M460.2 253L463.8 250.7V255.3Z M103.15 262.3H105.8V264.3H103.15Z M100.7 263.3L103.76 261V265.6Z M132 262.3H145.12V264.3H132Z M148 263.3L144.4 261V265.6Z M157.3 262.3H169.62V264.3H157.3Z M172.5 263.3L168.9 261V265.6Z M186.4 262.3H190.72V264.3H186.4Z M193.6 263.3L190 261V265.6Z M203 262.3H207.52V264.3H203Z M210.4 263.3L206.8 261V265.6Z M213.3 262.3H222.12V264.3H213.3Z M225 263.3L221.4 261V265.6Z M236.5 263.3L239.5 261.1V265.5Z M270.5 263.3L267.5 261.1V265.5Z M276.5 263.3L273.5 261.1V265.5Z M284 263.3L281 261.1V265.5Z M299 263.3L302 261.1V265.5Z M307.58 262.3H321.5V264.3H307.58Z M304.7 263.3L308.3 261V265.6Z M325 262.3H338.92V264.3H325Z M341.8 263.3L338.2 261V265.6Z M343 262.3H366.12V264.3H343Z M369 263.3L365.4 261V265.6Z M382.58 262.3H385.6V264.3H382.58Z M379.8 263.3L383.28 261V265.6Z M389.88 262.3H400.2V264.3H389.88Z M387 263.3L390.6 261V265.6Z M427.38 262.3H440.5V264.3H427.38Z M424.5 263.3L428.1 261V265.6Z M445.58 262.3H450.7V264.3H445.58Z M442.7 263.3L446.3 261V265.6Z M463.08 262.3H479.8V264.3H463.08Z M460.2 263.3L463.8 261V265.6Z M484.5 262.3H525.32V264.3H484.5Z M528.2 263.3L524.6 261V265.6Z M403.4 262.3H406V264.3H403.4Z M401 263.3L404 261V265.6Z M408 263.3L411 261.1V265.5Z M414 263.3L417 261.1V265.5Z M419 263.3L422 261.1V265.5Z M387.28 365.1H391.6V367.1H387.28Z M384.4 366.1L388 363.8V368.4Z M85.5 376.1H116.02V378.1H85.5Z M118.9 377.1L115.3 374.8V379.4Z M139.98 376.1H163.3V378.1H139.98Z M137.1 377.1L140.7 374.8V379.4Z M168.78 376.1H171.8V378.1H168.78Z M166 377.1L169.48 374.8V379.4Z M203.8 376.1H218.42V378.1H203.8Z M221.3 377.1L217.7 374.8V379.4Z M224.5 376.1H233.32V378.1H224.5Z M236.2 377.1L232.6 374.8V379.4Z M237.6 376.1H242.72V378.1H237.6Z M245.6 377.1L242 374.8V379.4Z M248.5 376.1H276.92V378.1H248.5Z M279.8 377.1L276.2 374.8V379.4Z M315 376.1H360.42V378.1H315Z M363.3 377.1L359.7 374.8V379.4Z M369.8 377.1L366.8 374.9V379.3Z M370.5 376.1H381.52V378.1H370.5Z M384.4 377.1L380.8 374.8V379.4Z M409.8 377.1L412.8 374.9V379.3Z M421 377.1L424 374.9V379.3Z M432.5 377.1L429.5 374.9V379.3Z M437.6 377.1L434.6 374.9V379.3Z M439 376.1H453.62V378.1H439Z M456.5 377.1L452.9 374.8V379.4Z M463.08 376.1H470.4V378.1H463.08Z M460.2 377.1L463.8 374.8V379.4Z M486 377.1L489 374.9V379.3Z M501.3 376.1H523.82V378.1H501.3Z M526.7 377.1L523.1 374.8V379.4Z M89.05 24.9h0.9v4h-0.9Z M96.55 24.9h0.9v4h-0.9Z M100.55 24.9h0.9v4h-0.9Z M184.25 24.9h0.9v4h-0.9Z M256.55 24.9h0.9v4h-0.9Z M265.05 24.9h0.9v4h-0.9Z M371.05 24.9h0.9v4h-0.9Z M446.55 24.9h0.9v4h-0.9Z M451.55 24.9h0.9v4h-0.9Z M458.55 24.9h0.9v4h-0.9Z M460.55 24.9h0.9v4h-0.9Z M479.55 24.9h0.9v4h-0.9Z M250.45 144.5h0.9v4h-0.9Z M259.75 144.5h0.9v4h-0.9Z M273.15 144.5h0.9v4h-0.9Z M280.05 144.5h0.9v4h-0.9Z M287.35 144.5h0.9v4h-0.9Z M289.05 144.5h0.9v4h-0.9Z M297.15 144.5h0.9v4h-0.9Z M343.15 144.8h0.9v4h-0.9Z M348.25 144.8h0.9v4h-0.9Z M358.85 144.8h0.9v4h-0.9Z M360.55 144.8h0.9v4h-0.9Z M363.55 144.8h0.9v4h-0.9Z M458.55 144.8h0.9v4h-0.9Z M473.95 144.8h0.9v4h-0.9Z M487.05 144.8h0.9v4h-0.9Z M496.55 144.8h0.9v4h-0.9Z M97.35 261.3h0.9v4h-0.9Z M181.25 261.3h0.9v4h-0.9Z M241.55 261.3h0.9v4h-0.9Z M255.05 261.3h0.9v4h-0.9Z M258.25 261.3h0.9v4h-0.9Z M261.75 261.3h0.9v4h-0.9Z M266.05 261.3h0.9v4h-0.9Z M345.05 261.3h0.9v4h-0.9Z M350.05 261.3h0.9v4h-0.9Z M482.05 261.3h0.9v4h-0.9Z M121.65 375.1h0.9v4h-0.9Z M130.05 375.1h0.9v4h-0.9Z M201.15 375.1h0.9v4h-0.9Z M284.05 375.1h0.9v4h-0.9Z M289.05 375.1h0.9v4h-0.9Z M297.15 375.1h0.9v4h-0.9Z M472.05 375.1h0.9v4h-0.9Z"/></svg>
<svg style="position:absolute;left:0;top:0" width="550" height="474">
<rect x="5.8" y="394" width="41" height="46.5" fill="#fff" stroke="#222" stroke-width="1.1"/>
<path fill="#c4c4c4" d="M9.8 398.9L12.6 397.2H15.2L16.2 398.9L15.2 400.6H12.6Z"/>
<path fill="#333" d="M9.8 405.2L12.8 403.4V404.4H16.2V406H12.8V407Z"/>
<rect x="10.1" y="409.4" width="5" height="6.3" fill="#6464f0"/>
<rect x="10.1" y="416.8" width="5" height="6.8" fill="#48f0f0"/>
<rect x="10.1" y="424.2" width="5" height="6.3" fill="#f26a6a"/>
<rect x="10.1" y="431.6" width="5" height="6.3" fill="#c8c8b6"/>
</svg>
<div id="lab">
<span class="pc" style="top:41.75px">100%</span>
<span class="pd" style="top:47.25px">50%</span>
<span class="pc" style="top:51.41px">100%</span>
<span class="pd" style="top:56.91px">50%</span>
<span class="pc" style="top:61.07px">100%</span>
<span class="pd" style="top:66.57px">50%</span>
<span class="pc" style="top:70.73px">100%</span>
<span class="pd" style="top:76.23px">50%</span>
<span class="pc" style="top:80.39px">100%</span>
<span class="pd" style="top:85.89px">50%</span>
<span class="pc" style="top:90.05px">100%</span>
<span class="pd" style="top:95.55px">50%</span>
<span class="pc" style="top:99.71px">100%</span>
<span class="pd" style="top:105.21px">50%</span>
<span class="ax" style="left:86.10px;top:115.80px">0k</span>
<span class="ax" style="left:130.80px;top:115.80px">4k</span>
<span class="ax" style="left:175.50px;top:115.80px">8k</span>
<span class="ax" style="left:220.20px;top:115.80px">12k</span>
<span class="ax" style="left:264.90px;top:115.80px">16k</span>
<span class="ax" style="left:309.60px;top:115.80px">20k</span>
<span class="ax" style="left:354.30px;top:115.80px">24k</span>
<span class="ax" style="left:399.00px;top:115.80px">28k</span>
<span class="ax" style="left:443.70px;top:115.80px">32k</span>
<span class="ax" style="left:488.40px;top:115.80px">36k</span>
<span class="pc" style="top:161.50px">100%</span>
<span class="pd" style="top:167.00px">50%</span>
<span class="pc" style="top:171.16px">100%</span>
<span class="pd" style="top:176.66px">50%</span>
<span class="pc" style="top:180.82px">100%</span>
<span class="pd" style="top:186.32px">50%</span>
<span class="pc" style="top:190.48px">100%</span>
<span class="pd" style="top:195.98px">50%</span>
<span class="pc" style="top:200.14px">100%</span>
<span class="pd" style="top:205.64px">50%</span>
<span class="pc" style="top:209.80px">100%</span>
<span class="pd" style="top:215.30px">50%</span>
<span class="pc" style="top:219.46px">100%</span>
<span class="pd" style="top:224.96px">50%</span>
<span class="ax" style="left:92.40px;top:235.80px">40k</span>
<span class="ax" style="left:136.75px;top:235.80px">44k</span>
<span class="ax" style="left:181.10px;top:235.80px">48k</span>
<span class="ax" style="left:225.45px;top:235.80px">52k</span>
<span class="ax" style="left:269.80px;top:235.80px">56k</span>
<span class="ax" style="left:314.15px;top:235.80px">60k</span>
<span class="ax" style="left:358.50px;top:235.80px">64k</span>
<span class="ax" style="left:402.85px;top:235.80px">68k</span>
<span class="ax" style="left:447.20px;top:235.80px">72k</span>
<span class="ax" style="left:491.55px;top:235.80px">76k</span>
<span class="pc" style="top:278.40px">100%</span>
<span class="pd" style="top:283.90px">50%</span>
<span class="pc" style="top:288.06px">100%</span>
<span class="pd" style="top:293.56px">50%</span>
<span class="pc" style="top:297.72px">100%</span>
<span class="pd" style="top:303.22px">50%</span>
<span class="pc" style="top:307.38px">100%</span>
<span class="pd" style="top:312.88px">50%</span>
<span class="pc" style="top:317.04px">100%</span>
<span class="pd" style="top:322.54px">50%</span>
<span class="pc" style="top:326.70px">100%</span>
<span class="pd" style="top:332.20px">50%</span>
<span class="pc" style="top:336.36px">100%</span>
<span class="pd" style="top:341.86px">50%</span>
<span class="ax" style="left:97.50px;top:352.60px">80k</span>
<span class="ax" style="left:142.00px;top:352.60px">84k</span>
<span class="ax" style="left:186.50px;top:352.60px">88k</span>
<span class="ax" style="left:231.00px;top:352.60px">92k</span>
<span class="ax" style="left:275.50px;top:352.60px">96k</span>
<span class="ax" style="left:320.00px;top:352.60px">100k</span>
<span class="ax" style="left:364.50px;top:352.60px">104k</span>
<span class="ax" style="left:409.00px;top:352.60px">108k</span>
<span class="ax" style="left:453.50px;top:352.60px">112k</span>
<span class="ax" style="left:498.00px;top:352.60px">116k</span>
<span class="pc" style="top:390.40px">100%</span>
<span class="pd" style="top:395.90px">50%</span>
<span class="pc" style="top:400.06px">100%</span>
<span class="pd" style="top:405.56px">50%</span>
<span class="pc" style="top:409.72px">100%</span>
<span class="pd" style="top:415.22px">50%</span>
<span class="pc" style="top:419.38px">100%</span>
<span class="pd" style="top:424.88px">50%</span>
<span class="pc" style="top:429.04px">100%</span>
<span class="pd" style="top:434.54px">50%</span>
<span class="pc" style="top:438.70px">100%</span>
<span class="pd" style="top:444.20px">50%</span>
<span class="pc" style="top:448.36px">100%</span>
<span class="pd" style="top:453.86px">50%</span>
<span class="ax" style="left:102.50px;top:465.30px">120k</span>
<span class="ax" style="left:147.10px;top:465.30px">124k</span>
<span class="ax" style="left:191.70px;top:465.30px">128k</span>
<span class="ax" style="left:236.30px;top:465.30px">132k</span>
<span class="ax" style="left:280.90px;top:465.30px">136k</span>
<span class="ax" style="left:325.50px;top:465.30px">140k</span>
<span class="ax" style="left:370.10px;top:465.30px">144k</span>
<span class="ax" style="left:414.70px;top:465.30px">148k</span>
<span class="ax" style="left:459.30px;top:465.30px">152k</span>
<span class="ax" style="left:503.90px;top:465.30px">156k</span>
<span class="g" style="left:358.4px;top:10.3px">rpl2</span>
<span class="g" style="left:400.2px;top:10.3px">matK</span>
<span class="g" style="left:142.5px;top:21.5px">trnA-UGC</span>
<span class="g" style="left:173.1px;top:21.5px">rrn16S</span>
<span class="g" style="left:217.2px;top:21.5px">rps7</span>
<span class="g" style="left:236.0px;top:21.5px">ndhB</span>
<span class="g" style="left:263.3px;top:21.5px">ycf15</span>
<span class="g" style="left:306.4px;top:21.5px">ycf2</span>
<span class="g" style="left:343.8px;top:21.5px">trnI-CAU</span>
<span class="g" style="left:379.5px;top:21.5px">psbA</span>
<span class="g" style="left:402.4px;top:21.5px">trnK-UUU</span>
<span class="g" style="left:433.6px;top:21.5px">rps16</span>
<span class="g" style="left:96.0px;top:32.2px">trnR-ACG</span>
<span class="g" style="left:122.0px;top:32.2px">rrn23S</span>
<span class="g" style="left:154.2px;top:32.2px">trnI-GAU</span>
<span class="g" style="left:182.8px;top:32.2px">trnV-GAC</span>
<span class="g" style="left:255.3px;top:32.2px">trnL-CAA</span>
<span class="g" style="left:349.0px;top:32.2px">rpl23</span>
<span class="g" style="left:372.2px;top:32.2px">trnH-GUG</span>
<span class="g" style="left:218.2px;top:130.4px">rpoB</span>
<span class="g" style="left:332.0px;top:130.2px">psbC</span>
<span class="g" style="left:404.2px;top:130.2px">psaA</span>
<span class="g" style="left:521.4px;top:130.5px">ndhC</span>
<span class="g" style="left:102.7px;top:141.5px">atpI</span>
<span class="g" style="left:142.5px;top:141.5px">rpoC2</span>
<span class="g" style="left:184.2px;top:141.5px">rpoC1</span>
<span class="g" style="left:248.9px;top:141.0px">trnC-GCA</span>
<span class="g" style="left:451.1px;top:141.2px">ycf3 trnS-GGA</span>
<span class="g" style="left:508.6px;top:141.3px">ndhJ</span>
<span class="g" style="left:113.0px;top:152.2px">rps2</span>
<span class="g" style="left:318.9px;top:152.7px">psbD</span>
<span class="g" style="left:379.5px;top:152.6px">psaB</span>
<span class="g" style="left:515.6px;top:152.5px">ndhK</span>
<span class="g" style="left:113.1px;top:247.0px">atpB</span>
<span class="g" style="left:300.4px;top:247.0px">rps12</span>
<span class="g" style="left:451.5px;top:247.3px">rpl22</span>
<span class="g" style="left:467.5px;top:247.3px">rpl2</span>
<span class="g" style="left:96.4px;top:258.3px">trnM-CAU</span>
<span class="g" style="left:139.3px;top:258.3px">rbcL</span>
<span class="g" style="left:164.5px;top:258.5px">accD</span>
<span class="g" style="left:181.7px;top:258.5px">psaI</span>
<span class="g" style="left:206.7px;top:258.5px">cemA</span>
<span class="g" style="left:286.0px;top:258.3px">rpl20</span>
<span class="g" style="left:312.7px;top:258.3px">clpP</span>
<span class="g" style="left:382.0px;top:258.5px">petD</span>
<span class="g" style="left:445.6px;top:258.3px">rps3</span>
<span class="g" style="left:505.6px;top:258.3px">ycf2</span>
<span class="g" style="left:103.6px;top:269.5px">atpE</span>
<span class="g" style="left:188.5px;top:269.2px">ycf4</span>
<span class="g" style="left:219.0px;top:269.2px">petA</span>
<span class="g" style="left:240.4px;top:269.6px">psbL</span>
<span class="g" style="left:300.4px;top:269.2px">rps12</span>
<span class="g" style="left:393.6px;top:269.2px">rpoA</span>
<span class="g" style="left:431.1px;top:269.8px">rpl16</span>
<span class="g" style="left:477.6px;top:269.8px">rpl23</span>
<span class="g" style="left:387.3px;top:360.0px">ndhA</span>
<span class="g" style="left:102.6px;top:371.7px">ycf2</span>
<span class="g" style="left:122.1px;top:371.7px">ycf15</span>
<span class="g" style="left:148.7px;top:371.7px">ndhB</span>
<span class="g" style="left:167.7px;top:371.7px">rps7</span>
<span class="g" style="left:200.2px;top:371.7px">trnV-GAC</span>
<span class="g" style="left:228.9px;top:371.7px">trnI-GAU</span>
<span class="g" style="left:263.8px;top:371.7px">rrn23S</span>
<span class="g" style="left:338.4px;top:371.7px">ycf1</span>
<span class="g" style="left:367.6px;top:371.7px">rps15</span>
<span class="g" style="left:412.0px;top:371.7px">ndhI</span>
<span class="g" style="left:430.4px;top:371.7px">ndhE</span>
<span class="g" style="left:447.1px;top:371.7px">ndhD</span>
<span class="g" style="left:465.3px;top:371.7px">ccsA</span>
<span class="g" style="left:486.7px;top:371.7px">rpl32</span>
<span class="g" style="left:513.6px;top:371.7px">ndhF</span>
<span class="g" style="left:127.6px;top:382.3px">trnL-CAA</span>
<span class="g" style="left:211.8px;top:382.3px">rrn16S</span>
<span class="g" style="left:239.8px;top:382.3px">trnA-UGC</span>
<span class="g" style="left:288.9px;top:382.3px">trnR-ACG</span>
<span class="g" style="left:377.1px;top:382.4px">ndhH</span>
<span class="g" style="left:470.4px;top:382.3px">trnL-UAG</span>
<span class="g" style="left:508.0px;top:21.5px;font-style:italic">atpF</span>
<span class="g" style="left:523.8px;top:21.5px;font-style:italic">atpH</span>
<span class="gs" style="left:493.1px;top:22.1px">atpA</span>
<span class="gs" style="left:88.0px;top:22.0px">trnN-GUU</span>
<span class="gs" style="left:451.0px;top:32.6px">psbK</span>
<span class="gs" style="left:474.2px;top:32.5px">trnG-UCC</span>
<span class="gs" style="left:274.4px;top:142.2px">psbM</span>
<span class="gs" style="left:261.3px;top:152.6px">petN</span>
<span class="gs" style="left:282.2px;top:152.7px">trnD-GUC</span>
<span class="gs" style="left:358.2px;top:152.7px">trnG-GCC</span>
<span class="gs" style="left:465.6px;top:152.5px">rps4</span>
<span class="gs" style="left:479.5px;top:152.5px">trnT-UGU</span>
<span class="gs" style="left:469.6px;top:259.9px">rps19</span>
<span class="gs" style="left:245.5px;top:259.4px">petL</span>
<span class="gs" style="left:255.0px;top:270.1px">petG</span>
<span class="gs" style="left:344.7px;top:269.7px">psbT</span>
<span class="gs" style="left:333.5px;top:258.3px">psbB</span>
<span class="gs" style="left:361.0px;top:258.5px">petB</span>
<span class="gs" style="left:409.6px;top:269.7px">rps8</span>
<span class="gs" style="left:302.0px;top:372.2px">trnN-GUU</span>
<span class="gs" style="left:422.6px;top:382.5px">ndhG</span>
<span class="gs" style="left:436.0px;top:382.5px">psaC</span>
<span class="gv" style="left:102.8px;top:17.1px">rrn5S</span>
<span class="gv" style="left:107.1px;top:15.6px">rrn4.5S</span>
<span class="gv" style="left:448.6px;top:14.2px">trnQ-UUG</span>
<span class="gv" style="left:458.0px;top:18.9px">psbI</span>
<span class="gv" style="left:462.3px;top:14.2px">trnS-GCU</span>
<span class="gv" style="left:481.3px;top:14.2px">trnR-UCU</span>
<span class="gv" style="left:288.8px;top:133.8px">trnY-GUA</span>
<span class="gv" style="left:292.5px;top:133.8px">trnE-UUC</span>
<span class="gv" style="left:298.9px;top:132.8px">trnT-GGU</span>
<span class="gv" style="left:344.9px;top:132.8px">trnS-UGA</span>
<span class="gv" style="left:350.0px;top:138.5px">psbZ</span>
<span class="gv" style="left:360.8px;top:132.8px">trnfM-CAU</span>
<span class="gv" style="left:365.8px;top:137.5px">rps14</span>
<span class="gv" style="left:489.3px;top:134.5px">trnL-UAA</span>
<span class="gv" style="left:498.3px;top:134.5px">trnF-GAA</span>
<span class="gv" style="left:240.1px;top:252.2px">psbJ</span>
<span class="gv" style="left:245.2px;top:242.5px">psbE</span>
<span class="gv" style="left:257.6px;top:249.5px">trnW-CCA</span>
<span class="gv" style="left:260.7px;top:249.5px">trnP-UGG</span>
<span class="gv" style="left:264.1px;top:254.9px">psaJ</span>
<span class="gv" style="left:267.8px;top:254.5px">rpl33</span>
<span class="gv" style="left:272.1px;top:254.5px">rps18</span>
<span class="gv" style="left:346.8px;top:255.0px">psbN</span>
<span class="gv" style="left:351.8px;top:255.0px">psbH</span>
<span class="gv" style="left:403.6px;top:254.6px">rps11</span>
<span class="gv" style="left:409.9px;top:254.8px">rpl36</span>
<span class="gv" style="left:417.2px;top:255.8px">rps8</span>
<span class="gv" style="left:422.7px;top:254.8px">rpl14</span>
<span class="gv" style="left:483.8px;top:250.5px">trnI-CAU</span>
<span class="gv" style="left:285.8px;top:367.8px">rrn5S</span>
<span class="sp" style="left:40.4px;top:34.6px">Grewia tembensis</span>
<span class="sp" style="left:38.9px;top:45.3px">Grewia chungii</span>
<span class="sp" style="left:38.9px;top:55.7px">Grewia biloba var. parviflora</span>
<span class="sp" style="left:37.6px;top:65.2px">Grewia biloba</span>
<span class="sp" style="left:37.6px;top:74.7px">Colona floribunda</span>
<span class="sp" style="left:37.6px;top:84.2px">Corchorus capsularis</span>
<span class="sp" style="left:37.6px;top:93.7px">Corchorus olitorius</span>
<span class="sp" style="left:37.5px;top:102.9px">Microcos paniculata</span>
<span class="lg" style="left:21px;top:394.91px">contig</span>
<span class="lg" style="left:21px;top:401.51px">gene</span>
<span class="lg" style="left:21px;top:408.11px">exon</span>
<span class="lg" style="left:21px;top:415.51px">UTR</span>
<span class="lg" style="left:21px;top:422.91px">NCS</span>
<span class="lg" style="left:21px;top:430.11px">mRNA</span>
</div>
</body></html>
